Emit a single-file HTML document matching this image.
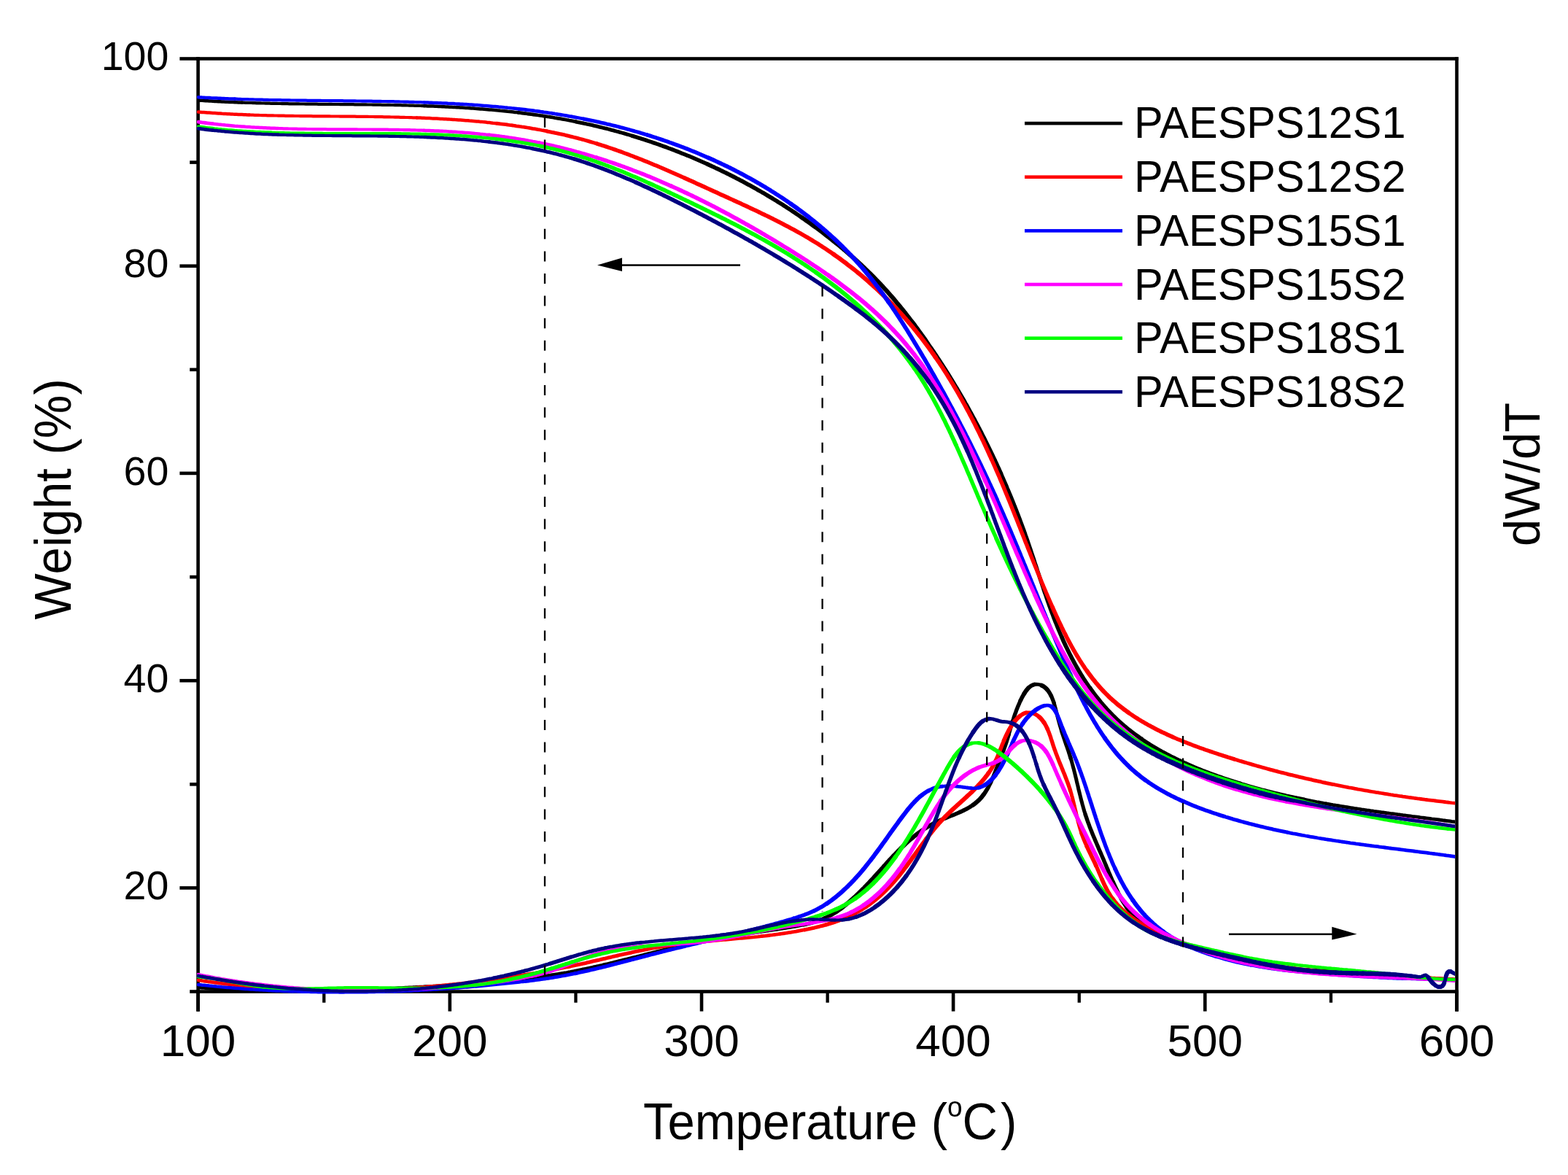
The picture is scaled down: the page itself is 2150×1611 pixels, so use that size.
<!DOCTYPE html>
<html><head><meta charset="utf-8"><style>
html,body{margin:0;padding:0;background:#ffffff;}
svg{display:block;}
text{font-family:"Liberation Sans",Arial,sans-serif;fill:#000;}
.yl{font-size:55.5px;text-anchor:end;}
.xl{font-size:62px;text-anchor:middle;}
.tt{font-size:67px;}
.lg{font-size:59.5px;}
</style></head><body>
<svg width="2150" height="1611" viewBox="0 0 2150 1611">
<rect width="2150" height="1611" fill="#ffffff"/>
<defs><clipPath id="pc"><rect x="270" y="0" width="1725.2" height="1611"/></clipPath></defs>
<rect x="269.3" y="78.2" width="1730.4" height="4.6" fill="#000"/>
<rect x="269.3" y="1357.2" width="1730.4" height="4.6" fill="#000"/>
<rect x="269.3" y="78.2" width="4.6" height="1308.5" fill="#000"/>
<rect x="1995.2" y="78.2" width="4.6" height="1308.5" fill="#000"/>
<rect x="246.4" y="78.2" width="25" height="4.6" fill="#000"/>
<rect x="246.4" y="362.4" width="25" height="4.6" fill="#000"/>
<rect x="246.4" y="646.6" width="25" height="4.6" fill="#000"/>
<rect x="246.4" y="930.9" width="25" height="4.6" fill="#000"/>
<rect x="246.4" y="1215.1" width="25" height="4.6" fill="#000"/>
<rect x="260.2" y="220.3" width="11" height="4.6" fill="#000"/>
<rect x="260.2" y="504.5" width="11" height="4.6" fill="#000"/>
<rect x="260.2" y="788.8" width="11" height="4.6" fill="#000"/>
<rect x="260.2" y="1073.0" width="11" height="4.6" fill="#000"/>
<rect x="260.2" y="1357.2" width="11" height="4.6" fill="#000"/>
<rect x="269.3" y="1359" width="4.6" height="27.6" fill="#000"/>
<rect x="614.5" y="1359" width="4.6" height="27.6" fill="#000"/>
<rect x="959.7" y="1359" width="4.6" height="27.6" fill="#000"/>
<rect x="1304.8" y="1359" width="4.6" height="27.6" fill="#000"/>
<rect x="1650.0" y="1359" width="4.6" height="27.6" fill="#000"/>
<rect x="1995.2" y="1359" width="4.6" height="27.6" fill="#000"/>
<rect x="442.1" y="1359" width="4.3" height="15.7" fill="#000"/>
<rect x="787.3" y="1359" width="4.3" height="15.7" fill="#000"/>
<rect x="1132.5" y="1359" width="4.3" height="15.7" fill="#000"/>
<rect x="1477.6" y="1359" width="4.3" height="15.7" fill="#000"/>
<rect x="1822.8" y="1359" width="4.3" height="15.7" fill="#000"/>
<g clip-path="url(#pc)" fill="none" stroke-width="4.5" stroke-linejoin="round" stroke-linecap="round">
<path d="M331.8,140.6 334.3,140.7 336.8,140.8 339.3,140.9 341.8,141.0 M341.8,141.0 344.3,141.0 346.8,141.1 349.3,141.2 351.8,141.3 M351.8,141.3 354.3,141.3 356.8,141.4 359.3,141.5 361.8,141.5 M361.8,141.5 364.3,141.6 366.8,141.7 369.3,141.7 371.8,141.8 M371.8,141.8 374.3,141.8 376.8,141.9 379.3,141.9 381.7,142.0 M381.7,142.0 384.2,142.0 386.7,142.1 389.2,142.1 391.7,142.2 M391.7,142.2 394.2,142.2 396.7,142.3 399.2,142.3 401.7,142.3 M401.7,142.3 404.2,142.4 406.7,142.4 409.2,142.4 411.7,142.5 M411.7,142.5 414.2,142.5 416.7,142.5 419.2,142.6 421.7,142.6 M421.7,142.6 424.2,142.6 426.7,142.7 429.2,142.7 431.7,142.7 M431.7,142.7 434.2,142.7 436.7,142.8 439.2,142.8 441.7,142.8 M441.7,142.8 444.2,142.8 446.7,142.9 449.1,142.9 451.6,142.9 M451.6,142.9 454.1,142.9 456.6,143.0 459.1,143.0 461.6,143.0 M461.6,143.0 464.1,143.0 466.6,143.1 469.1,143.1 471.6,143.1 M471.6,143.1 474.1,143.1 476.6,143.2 479.1,143.2 481.6,143.2 M481.6,143.2 484.1,143.2 486.6,143.3 489.1,143.3 491.6,143.3 M491.6,143.3 494.1,143.3 496.6,143.4 499.1,143.4 501.6,143.4 M501.6,143.4 504.1,143.5 506.6,143.5 509.1,143.5 511.6,143.6 M511.6,143.6 514.1,143.6 516.6,143.6 519.0,143.7 521.5,143.7 M521.5,143.7 524.0,143.8 526.5,143.8 529.0,143.8 531.5,143.9 M531.5,143.9 534.0,143.9 536.5,144.0 539.0,144.0 541.5,144.1 M541.5,144.1 544.0,144.1 546.5,144.2 549.0,144.2 551.5,144.3 M551.5,144.3 554.0,144.4 556.5,144.4 559.0,144.5 561.5,144.6 M561.5,144.6 564.0,144.6 566.5,144.7 569.0,144.8 571.5,144.9 M571.5,144.9 574.0,144.9 576.5,145.0 578.9,145.1 581.4,145.2" stroke="#000000" stroke-width="4.20"/>
<path d="M272.0,137.5 274.5,137.7 277.0,137.8 279.5,138.0 282.0,138.2 M282.0,138.2 284.5,138.3 287.0,138.5 289.4,138.6 291.9,138.8 M291.9,138.8 294.4,138.9 296.9,139.0 299.4,139.2 301.9,139.3 M301.9,139.3 304.4,139.4 306.9,139.5 309.4,139.7 311.9,139.8 M311.9,139.8 314.4,139.9 316.9,140.0 319.4,140.1 321.9,140.2 M321.9,140.2 324.4,140.3 326.8,140.4 329.3,140.5 331.8,140.6 M581.4,145.2 583.9,145.3 586.4,145.4 588.9,145.4 591.4,145.5 M591.4,145.5 593.9,145.6 596.4,145.7 598.9,145.8 601.4,146.0 M601.4,146.0 603.9,146.1 606.4,146.2 608.9,146.3 611.4,146.4 M611.4,146.4 613.9,146.5 616.4,146.7 618.9,146.8 621.3,146.9 M621.3,146.9 623.8,147.1 626.3,147.2 628.8,147.3 631.3,147.5 M631.3,147.5 633.8,147.6 636.3,147.8 638.8,148.0 641.3,148.1 M641.3,148.1 643.8,148.3 646.3,148.5 648.8,148.6 651.2,148.8 M651.2,148.8 653.7,149.0 656.2,149.2 658.7,149.4 661.2,149.6 M661.2,149.6 663.7,149.8 666.2,150.0 668.7,150.2 671.2,150.4 M671.2,150.4 673.6,150.6 676.1,150.8 678.6,151.0 681.1,151.3 M681.1,151.3 683.6,151.5 686.1,151.8 688.6,152.0 691.0,152.2 M691.0,152.2 693.5,152.5 696.0,152.8 698.5,153.0 701.0,153.3 M701.0,153.3 703.5,153.6 705.9,153.9 708.4,154.1 710.9,154.4" stroke="#000000" stroke-width="4.50"/>
<path d="M710.9,154.4 713.4,154.7 715.9,155.0 718.3,155.3 720.8,155.6 M720.8,155.6 723.3,156.0 725.8,156.3 728.2,156.6 730.7,157.0 M730.7,157.0 733.2,157.3 735.7,157.6 738.1,158.0 740.6,158.4 M740.6,158.4 743.1,158.7 745.5,159.1 748.0,159.5 750.5,159.9 M750.5,159.9 752.9,160.2 755.4,160.6 757.9,161.0 760.3,161.5 M760.3,161.5 762.8,161.9 765.3,162.3 767.7,162.7 770.2,163.2 M770.2,163.2 772.6,163.6 775.1,164.0 777.5,164.5 780.0,165.0 M780.0,165.0 782.4,165.4 784.9,165.9 787.3,166.4 789.8,166.9 M1788.1,1096.1 1790.6,1096.6 1793.0,1097.1 1795.5,1097.6 1797.9,1098.1 M1797.9,1098.1 1800.4,1098.5 1802.8,1099.0 1805.3,1099.5 1807.7,1099.9 M1807.7,1099.9 1810.2,1100.4 1812.6,1100.8 1815.1,1101.3 1817.5,1101.7 M1817.5,1101.7 1820.0,1102.2 1822.5,1102.6 1824.9,1103.0 1827.4,1103.5 M1827.4,1103.5 1829.8,1103.9 1832.3,1104.3 1834.8,1104.7 1837.2,1105.1 M1837.2,1105.1 1839.7,1105.5 1842.2,1105.9 1844.6,1106.3 1847.1,1106.7 M1847.1,1106.7 1849.6,1107.1 1852.0,1107.5 1854.5,1107.9 1857.0,1108.3 M1857.0,1108.3 1859.4,1108.6 1861.9,1109.0 1864.4,1109.4 1866.8,1109.8 M1866.8,1109.8 1869.3,1110.1 1871.8,1110.5 1874.2,1110.9 1876.7,1111.2 M1876.7,1111.2 1879.2,1111.6 1881.6,1111.9 1884.1,1112.3 1886.6,1112.6 M1886.6,1112.6 1889.1,1113.0 1891.5,1113.3 1894.0,1113.7 1896.5,1114.0 M1896.5,1114.0 1899.0,1114.3 1901.4,1114.7 1903.9,1115.0 1906.4,1115.4 M1906.4,1115.4 1908.9,1115.7 1911.3,1116.0 1913.8,1116.3 1916.3,1116.7 M1916.3,1116.7 1918.7,1117.0 1921.2,1117.3 1923.7,1117.7 1926.2,1118.0 M1926.2,1118.0 1928.7,1118.3 1931.1,1118.6 1933.6,1118.9 1936.1,1119.3 M1936.1,1119.3 1938.6,1119.6 1941.0,1119.9 1943.5,1120.2 1946.0,1120.5 M1946.0,1120.5 1948.5,1120.9 1950.9,1121.2 1953.4,1121.5 1955.9,1121.8 M1955.9,1121.8 1958.4,1122.1 1960.8,1122.4 1963.3,1122.8 1965.8,1123.1 M1965.8,1123.1 1968.3,1123.4 1970.7,1123.7 1973.2,1124.0 1975.7,1124.3 M1975.7,1124.3 1978.2,1124.7 1980.7,1125.0 1983.1,1125.3 1985.6,1125.6 M1985.6,1125.6 1988.1,1125.9 1990.6,1126.3 1993.0,1126.6 1995.5,1126.9 M1995.5,1126.9 1998.0,1127.2" stroke="#000000" stroke-width="4.80"/>
<path d="M789.8,166.9 792.2,167.4 794.7,167.9 797.1,168.4 799.6,168.9 M799.6,168.9 802.0,169.4 804.4,170.0 806.9,170.5 809.3,171.0 M809.3,171.0 811.8,171.6 814.2,172.2 816.6,172.7 819.0,173.3 M819.0,173.3 821.5,173.9 823.9,174.5 826.3,175.1 828.7,175.7 M828.7,175.7 831.2,176.3 833.6,176.9 836.0,177.5 838.4,178.2 M838.4,178.2 840.8,178.8 843.2,179.5 845.6,180.1 848.1,180.8 M848.1,180.8 850.5,181.5 852.9,182.1 855.3,182.8 857.7,183.5 M857.7,183.5 860.1,184.2 862.5,184.9 864.8,185.6 867.2,186.4 M1700.9,1074.4 1703.3,1075.1 1705.7,1075.8 1708.1,1076.5 1710.5,1077.2 M1710.5,1077.2 1712.9,1077.9 1715.3,1078.6 1717.7,1079.3 1720.1,1079.9 M1720.1,1079.9 1722.5,1080.6 1724.9,1081.3 1727.4,1081.9 1729.8,1082.6 M1729.8,1082.6 1732.2,1083.2 1734.6,1083.8 1737.0,1084.4 1739.4,1085.1 M1739.4,1085.1 1741.9,1085.7 1744.3,1086.3 1746.7,1086.9 1749.1,1087.5 M1749.1,1087.5 1751.6,1088.1 1754.0,1088.6 1756.4,1089.2 1758.8,1089.8 M1758.8,1089.8 1761.3,1090.3 1763.7,1090.9 1766.1,1091.4 1768.6,1092.0 M1768.6,1092.0 1771.0,1092.5 1773.5,1093.0 1775.9,1093.6 1778.3,1094.1 M1778.3,1094.1 1780.8,1094.6 1783.2,1095.1 1785.7,1095.6 1788.1,1096.1" stroke="#000000" stroke-width="5.10"/>
<path d="M867.2,186.4 869.6,187.1 872.0,187.8 874.4,188.6 876.8,189.3 M876.8,189.3 879.2,190.1 881.5,190.8 883.9,191.6 886.3,192.4 M886.3,192.4 888.6,193.2 891.0,194.0 893.4,194.8 895.7,195.6 M895.7,195.6 898.1,196.4 900.5,197.2 902.8,198.0 905.2,198.9 M905.2,198.9 907.5,199.7 909.9,200.6 912.2,201.4 914.6,202.3 M914.6,202.3 916.9,203.2 919.2,204.0 921.6,204.9 923.9,205.8 M923.9,205.8 926.2,206.7 928.6,207.6 930.9,208.5 933.2,209.4 M933.2,209.4 935.5,210.4 937.8,211.3 940.2,212.2 942.5,213.2 M942.5,213.2 944.8,214.1 947.1,215.1 949.4,216.0 951.7,217.0 M951.7,217.0 954.0,218.0 956.3,219.0 958.6,220.0 960.8,221.0 M960.8,221.0 963.1,222.0 965.4,223.0 967.7,224.0 970.0,225.0 M1372.3,648.9 1373.3,651.2 1374.3,653.5 1375.3,655.7 1376.3,658.0 M1376.3,658.0 1377.3,660.3 1378.3,662.6 1379.3,664.9 1380.3,667.2 M1380.3,667.2 1381.2,669.5 1382.2,671.8 1383.2,674.1 1384.1,676.4 M1384.1,676.4 1385.1,678.7 1386.1,681.0 1387.0,683.3 1387.9,685.6 M1387.9,685.6 1388.9,687.9 1389.8,690.3 1390.7,692.6 1391.7,694.9 M1391.7,694.9 1392.6,697.2 1393.5,699.5 1394.4,701.9 1395.3,704.2 M1395.3,704.2 1396.2,706.5 1397.1,708.9 1398.0,711.2 1398.8,713.5 M1398.8,713.5 1399.7,715.9 1400.6,718.2 1401.5,720.6 1402.3,722.9 M1402.3,722.9 1403.2,725.2 1404.0,727.6 1404.9,729.9 1405.7,732.3 M1405.7,732.3 1406.5,734.6 1407.4,737.0 1408.2,739.4 1409.0,741.7 M1409.0,741.7 1409.8,744.1 1410.6,746.4 1411.4,748.8 1412.2,751.2 M1412.2,751.2 1413.0,753.5 1413.8,755.9 1414.6,758.3 1415.4,760.6 M1415.4,760.6 1416.2,763.0 1417.0,765.4 1417.8,767.7 1418.5,770.1 M1418.5,770.1 1419.3,772.5 1420.1,774.9 1420.9,777.2 1421.7,779.6 M1421.7,779.6 1422.4,782.0 1423.2,784.4 1424.0,786.7 1424.8,789.1 M1424.8,789.1 1425.5,791.5 1426.3,793.8 1427.1,796.2 1427.9,798.6 M1427.9,798.6 1428.7,801.0 1429.5,803.3 1430.3,805.7 1431.0,808.1 M1431.0,808.1 1431.8,810.4 1432.6,812.8 1433.5,815.1 1434.3,817.5 M1434.3,817.5 1435.1,819.9 1435.9,822.2 1436.7,824.6 1437.6,826.9 M1437.6,826.9 1438.4,829.3 1439.2,831.6 1440.1,834.0 1440.9,836.3 M1440.9,836.3 1441.8,838.7 1442.7,841.0 1443.6,843.4 1444.4,845.7 M1444.4,845.7 1445.3,848.0 1446.2,850.3 1447.1,852.7 1448.1,855.0 M1448.1,855.0 1449.0,857.3 1449.9,859.6 1450.9,861.9 1451.8,864.2 M1451.8,864.2 1452.8,866.5 1453.8,868.8 1454.8,871.1 1455.8,873.4 M1626.0,1046.8 1628.3,1047.8 1630.6,1048.8 1632.9,1049.8 1635.2,1050.8 M1635.2,1050.8 1637.5,1051.8 1639.8,1052.7 1642.1,1053.7 1644.4,1054.6 M1644.4,1054.6 1646.7,1055.5 1649.0,1056.5 1651.4,1057.4 1653.7,1058.3 M1653.7,1058.3 1656.0,1059.1 1658.4,1060.0 1660.7,1060.9 1663.1,1061.7 M1663.1,1061.7 1665.4,1062.6 1667.8,1063.4 1670.1,1064.3 1672.5,1065.1 M1672.5,1065.1 1674.8,1065.9 1677.2,1066.7 1679.5,1067.5 1681.9,1068.3 M1681.9,1068.3 1684.3,1069.1 1686.7,1069.9 1689.0,1070.6 1691.4,1071.4 M1691.4,1071.4 1693.8,1072.1 1696.2,1072.9 1698.6,1073.6 1700.9,1074.4" stroke="#000000" stroke-width="5.40"/>
<path d="M970.0,225.0 972.2,226.1 974.5,227.1 976.8,228.2 979.0,229.2 M979.0,229.2 981.3,230.3 983.6,231.3 985.8,232.4 988.1,233.5 M988.1,233.5 990.3,234.6 992.6,235.7 994.8,236.8 997.0,237.9 M997.0,237.9 999.3,239.0 1001.5,240.1 1003.7,241.2 1006.0,242.4 M1006.0,242.4 1008.2,243.5 1010.4,244.7 1012.6,245.8 1014.8,247.0 M1014.8,247.0 1017.0,248.1 1019.2,249.3 1021.4,250.5 1023.6,251.7 M1023.6,251.7 1025.8,252.9 1028.0,254.1 1030.2,255.3 1032.4,256.5 M1032.4,256.5 1034.6,257.7 1036.7,258.9 1038.9,260.2 1041.1,261.4 M1041.1,261.4 1043.2,262.6 1045.4,263.9 1047.6,265.1 1049.7,266.4 M1049.7,266.4 1051.9,267.7 1054.0,269.0 1056.1,270.2 1058.3,271.5 M1058.3,271.5 1060.4,272.8 1062.5,274.1 1064.7,275.4 1066.8,276.8 M1066.8,276.8 1068.9,278.1 1071.0,279.4 1073.1,280.7 1075.2,282.1 M1075.2,282.1 1077.3,283.4 1079.4,284.8 1081.5,286.1 1083.6,287.5 M1083.6,287.5 1085.7,288.9 1087.8,290.3 1089.9,291.7 1091.9,293.1 M1091.9,293.1 1094.0,294.5 1096.1,295.9 1098.1,297.3 1100.2,298.7 M1269.2,466.6 1270.7,468.7 1272.1,470.7 1273.5,472.8 1274.9,474.8 M1274.9,474.8 1276.4,476.9 1277.8,478.9 1279.2,481.0 1280.6,483.0 M1280.6,483.0 1282.0,485.1 1283.4,487.2 1284.8,489.3 1286.1,491.3 M1286.1,491.3 1287.5,493.4 1288.9,495.5 1290.2,497.6 1291.6,499.7 M1291.6,499.7 1293.0,501.8 1294.3,503.9 1295.7,506.0 1297.0,508.1 M1297.0,508.1 1298.3,510.2 1299.7,512.3 1301.0,514.5 1302.3,516.6 M1302.3,516.6 1303.6,518.7 1304.9,520.8 1306.2,523.0 1307.5,525.1 M1307.5,525.1 1308.8,527.2 1310.1,529.4 1311.4,531.5 1312.7,533.6 M1312.7,533.6 1313.9,535.8 1315.2,537.9 1316.5,540.1 1317.7,542.3 M1317.7,542.3 1319.0,544.4 1320.2,546.6 1321.5,548.7 1322.7,550.9 M1322.7,550.9 1323.9,553.1 1325.2,555.3 1326.4,557.4 1327.6,559.6 M1327.6,559.6 1328.8,561.8 1330.0,564.0 1331.2,566.2 1332.4,568.4 M1332.4,568.4 1333.6,570.6 1334.8,572.8 1336.0,574.9 1337.2,577.2 M1337.2,577.2 1338.3,579.4 1339.5,581.6 1340.7,583.8 1341.8,586.0 M1341.8,586.0 1343.0,588.2 1344.1,590.4 1345.3,592.6 1346.4,594.9 M1346.4,594.9 1347.5,597.1 1348.7,599.3 1349.8,601.5 1350.9,603.8 M1350.9,603.8 1352.0,606.0 1353.1,608.2 1354.2,610.5 1355.3,612.7 M1355.3,612.7 1356.4,615.0 1357.5,617.2 1358.6,619.5 1359.7,621.7 M1359.7,621.7 1360.8,624.0 1361.8,626.2 1362.9,628.5 1364.0,630.7 M1364.0,630.7 1365.0,633.0 1366.1,635.3 1367.1,637.5 1368.1,639.8 M1368.1,639.8 1369.2,642.1 1370.2,644.3 1371.2,646.6 1372.3,648.9 M1455.8,873.4 1456.8,875.7 1457.8,878.0 1458.8,880.2 1459.9,882.5 M1459.9,882.5 1460.9,884.8 1462.0,887.0 1463.1,889.3 1464.2,891.5 M1464.2,891.5 1465.3,893.8 1466.4,896.0 1467.5,898.2 1468.7,900.4 M1468.7,900.4 1469.8,902.7 1471.0,904.9 1472.2,907.1 1473.4,909.3 M1473.4,909.3 1474.6,911.5 1475.8,913.6 1477.0,915.8 1478.3,918.0 M1478.3,918.0 1479.5,920.1 1480.8,922.3 1482.1,924.4 1483.4,926.5 M1483.4,926.5 1484.7,928.7 1486.0,930.8 1487.4,932.9 1488.8,935.0 M1488.8,935.0 1490.1,937.0 1491.5,939.1 1492.9,941.2 1494.4,943.2 M1564.9,1013.1 1566.9,1014.5 1569.0,1015.9 1571.1,1017.3 1573.2,1018.7 M1573.2,1018.7 1575.3,1020.0 1577.4,1021.3 1579.5,1022.6 1581.7,1023.9 M1581.7,1023.9 1583.8,1025.2 1586.0,1026.5 1588.1,1027.7 1590.3,1028.9 M1590.3,1028.9 1592.5,1030.2 1594.7,1031.4 1596.9,1032.5 1599.1,1033.7 M1599.1,1033.7 1601.3,1034.9 1603.5,1036.0 1605.7,1037.2 1608.0,1038.3 M1608.0,1038.3 1610.2,1039.4 1612.4,1040.5 1614.7,1041.6 1616.9,1042.7 M1616.9,1042.7 1619.2,1043.7 1621.5,1044.8 1623.7,1045.8 1626.0,1046.8" stroke="#000000" stroke-width="5.70"/>
<path d="M1100.2,298.7 1102.2,300.1 1104.3,301.5 1106.3,303.0 1108.3,304.4 M1108.3,304.4 1110.4,305.9 1112.4,307.3 1114.4,308.8 1116.4,310.3 M1116.4,310.3 1118.5,311.7 1120.5,313.2 1122.5,314.7 1124.5,316.2 M1124.5,316.2 1126.5,317.7 1128.5,319.2 1130.4,320.7 1132.4,322.3 M1132.4,322.3 1134.4,323.8 1136.4,325.3 1138.3,326.9 1140.3,328.4 M1140.3,328.4 1142.2,330.0 1144.2,331.5 1146.1,333.1 1148.1,334.7 M1148.1,334.7 1150.0,336.2 1151.9,337.8 1153.8,339.4 1155.8,341.0 M1155.8,341.0 1157.7,342.6 1159.6,344.3 1161.5,345.9 1163.4,347.5 M1163.4,347.5 1165.2,349.2 1167.1,350.8 1169.0,352.5 1170.9,354.1 M1170.9,354.1 1172.7,355.8 1174.6,357.5 1176.4,359.1 1178.2,360.8 M1178.2,360.8 1180.1,362.5 1181.9,364.2 1183.7,365.9 1185.5,367.7 M1185.5,367.7 1187.3,369.4 1189.1,371.1 1190.9,372.9 1192.7,374.6 M1192.7,374.6 1194.5,376.4 1196.2,378.1 1198.0,379.9 1199.7,381.7 M1199.7,381.7 1201.5,383.5 1203.2,385.3 1204.9,387.1 1206.6,388.9 M1206.6,388.9 1208.4,390.7 1210.1,392.5 1211.8,394.4 1213.4,396.2 M1213.4,396.2 1215.1,398.1 1216.8,399.9 1218.4,401.8 1220.1,403.7 M1220.1,403.7 1221.7,405.6 1223.4,407.4 1225.0,409.3 1226.6,411.2 M1226.6,411.2 1228.2,413.1 1229.8,415.1 1231.4,417.0 1233.0,418.9 M1233.0,418.9 1234.6,420.8 1236.2,422.8 1237.7,424.7 1239.3,426.7 M1239.3,426.7 1240.9,428.6 1242.4,430.6 1243.9,432.5 1245.5,434.5 M1245.5,434.5 1247.0,436.5 1248.5,438.5 1250.0,440.4 1251.6,442.4 M1251.6,442.4 1253.1,444.4 1254.6,446.4 1256.0,448.4 1257.5,450.4 M1257.5,450.4 1259.0,452.4 1260.5,454.5 1262.0,456.5 1263.4,458.5 M1263.4,458.5 1264.9,460.5 1266.3,462.5 1267.8,464.6 1269.2,466.6 M1494.4,943.2 1495.8,945.3 1497.3,947.3 1498.7,949.3 1500.2,951.3 M1500.2,951.3 1501.7,953.3 1503.3,955.3 1504.8,957.2 1506.4,959.2 M1506.4,959.2 1507.9,961.1 1509.5,963.1 1511.1,965.0 1512.7,966.9 M1512.7,966.9 1514.4,968.7 1516.0,970.6 1517.7,972.5 1519.4,974.3 M1519.4,974.3 1521.1,976.1 1522.8,977.9 1524.6,979.7 1526.3,981.5 M1526.3,981.5 1528.1,983.2 1529.9,985.0 1531.7,986.7 1533.6,988.4 M1533.6,988.4 1535.4,990.1 1537.3,991.7 1539.1,993.4 1541.0,995.0 M1541.0,995.0 1543.0,996.6 1544.9,998.2 1546.8,999.8 1548.8,1001.3 M1548.8,1001.3 1550.7,1002.9 1552.7,1004.4 1554.7,1005.9 1556.7,1007.4 M1556.7,1007.4 1558.7,1008.8 1560.8,1010.3 1562.8,1011.7 1564.9,1013.1" stroke="#000000" stroke-width="6.00"/>
<path d="M341.7,1358.2 344.2,1358.3 346.7,1358.4 349.2,1358.4 351.7,1358.5 M351.7,1358.5 354.2,1358.6 356.7,1358.6 359.2,1358.7 361.6,1358.7 M361.6,1358.7 364.1,1358.8 366.6,1358.8 369.1,1358.9 371.6,1358.9 M371.6,1358.9 374.1,1359.0 376.6,1359.0 379.1,1359.0 381.6,1359.0 M381.6,1359.0 384.1,1359.1 386.6,1359.1 389.1,1359.1 391.6,1359.1 M391.6,1359.1 394.1,1359.1 396.6,1359.1 399.1,1359.1 401.5,1359.1 M401.5,1359.1 404.0,1359.1 406.5,1359.1 409.0,1359.1 411.5,1359.1 M411.5,1359.1 414.0,1359.0 416.5,1359.0 419.0,1359.0 421.5,1359.0 M421.5,1359.0 424.0,1358.9 426.5,1358.9 429.0,1358.9 431.5,1358.8 M431.5,1358.8 434.0,1358.8 436.5,1358.7 439.0,1358.7 441.5,1358.6 M441.5,1358.6 443.9,1358.6 446.4,1358.5 448.9,1358.5 451.4,1358.4 M451.4,1358.4 453.9,1358.3 456.4,1358.3 458.9,1358.2 461.4,1358.1 M461.4,1358.1 463.9,1358.1 466.4,1358.0 468.9,1357.9 471.4,1357.8 M471.4,1357.8 473.9,1357.8 476.4,1357.7 478.8,1357.6 481.3,1357.5" stroke="#000000" stroke-width="4.20"/>
<path d="M272.0,1354.0 274.5,1354.2 277.0,1354.4 279.5,1354.6 281.9,1354.8 M281.9,1354.8 284.4,1355.0 286.9,1355.2 289.4,1355.4 291.9,1355.6 M291.9,1355.6 294.4,1355.7 296.9,1355.9 299.4,1356.1 301.8,1356.2 M301.8,1356.2 304.3,1356.4 306.8,1356.6 309.3,1356.7 311.8,1356.8 M311.8,1356.8 314.3,1357.0 316.8,1357.1 319.3,1357.2 321.8,1357.4 M321.8,1357.4 324.3,1357.5 326.7,1357.6 329.2,1357.7 331.7,1357.8 M331.7,1357.8 334.2,1357.9 336.7,1358.0 339.2,1358.1 341.7,1358.2 M481.3,1357.5 483.8,1357.4 486.3,1357.3 488.8,1357.2 491.3,1357.1 M491.3,1357.1 493.8,1357.0 496.3,1356.9 498.8,1356.8 501.3,1356.7 M501.3,1356.7 503.8,1356.6 506.3,1356.5 508.8,1356.4 511.2,1356.3 M511.2,1356.3 513.7,1356.2 516.2,1356.1 518.7,1356.0 521.2,1355.8 M521.2,1355.8 523.7,1355.7 526.2,1355.6 528.7,1355.5 531.2,1355.4 M531.2,1355.4 533.7,1355.2 536.2,1355.1 538.7,1355.0 541.1,1354.9 M541.1,1354.9 543.6,1354.7 546.1,1354.6 548.6,1354.5 551.1,1354.4 M551.1,1354.4 553.6,1354.2 556.1,1354.1 558.6,1354.0 561.1,1353.8 M561.1,1353.8 563.6,1353.7 566.1,1353.6 568.5,1353.4 571.0,1353.3 M571.0,1353.3 573.5,1353.2 576.0,1353.0 578.5,1352.9 581.0,1352.8 M581.0,1352.8 583.5,1352.6 586.0,1352.5 588.5,1352.4 591.0,1352.2 M591.0,1352.2 593.4,1352.1 595.9,1351.9 598.4,1351.8 600.9,1351.7 M600.9,1351.7 603.4,1351.5 605.9,1351.4 608.4,1351.2 610.9,1351.1 M610.9,1351.1 613.4,1350.9 615.9,1350.8 618.3,1350.6 620.8,1350.5 M620.8,1350.5 623.3,1350.3 625.8,1350.1 628.3,1350.0 630.8,1349.8 M630.8,1349.8 633.3,1349.6 635.8,1349.5 638.3,1349.3 640.7,1349.1 M640.7,1349.1 643.2,1349.0 645.7,1348.8 648.2,1348.6 650.7,1348.4 M650.7,1348.4 653.2,1348.2 655.7,1348.0 658.2,1347.8 660.6,1347.6 M660.6,1347.6 663.1,1347.4 665.6,1347.2 668.1,1347.0 670.6,1346.8 M670.6,1346.8 673.1,1346.6 675.6,1346.4 678.0,1346.2 680.5,1346.0 M680.5,1346.0 683.0,1345.7 685.5,1345.5 688.0,1345.3 690.5,1345.0 M690.5,1345.0 692.9,1344.8 695.4,1344.5 697.9,1344.3 700.4,1344.0 M700.4,1344.0 702.9,1343.8 705.3,1343.5 707.8,1343.2 710.3,1343.0 M1764.1,1326.8 1766.6,1327.1 1769.1,1327.3 1771.6,1327.6 1774.0,1327.9 M1774.0,1327.9 1776.5,1328.1 1779.0,1328.3 1781.5,1328.5 1784.0,1328.8 M1784.0,1328.8 1786.5,1329.0 1789.0,1329.2 1791.4,1329.4 1793.9,1329.6 M1793.9,1329.6 1796.4,1329.8 1798.9,1329.9 1801.4,1330.1 1803.9,1330.3 M1803.9,1330.3 1806.4,1330.5 1808.9,1330.6 1811.3,1330.8 1813.8,1331.0 M1813.8,1331.0 1816.3,1331.2 1818.8,1331.3 1821.3,1331.5 1823.8,1331.7 M1823.8,1331.7 1826.3,1331.8 1828.8,1332.0 1831.2,1332.2 1833.7,1332.4 M1833.7,1332.4 1836.2,1332.5 1838.7,1332.7 1841.2,1332.9 1843.7,1333.1 M1843.7,1333.1 1846.2,1333.2 1848.7,1333.4 1851.2,1333.6 1853.6,1333.8 M1853.6,1333.8 1856.1,1333.9 1858.6,1334.1 1861.1,1334.3 1863.6,1334.5 M1863.6,1334.5 1866.1,1334.7 1868.6,1334.8 1871.1,1335.0 1873.5,1335.2 M1873.5,1335.2 1876.0,1335.4 1878.5,1335.5 1881.0,1335.7 1883.5,1335.9 M1883.5,1335.9 1886.0,1336.1 1888.5,1336.3 1891.0,1336.4 1893.4,1336.6 M1893.4,1336.6 1895.9,1336.8 1898.4,1337.0 1900.9,1337.1 1903.4,1337.3 M1903.4,1337.3 1905.9,1337.5 1908.4,1337.7 1910.9,1337.8 1913.4,1338.0 M1913.4,1338.0 1915.8,1338.2 1918.3,1338.3 1920.8,1338.5 1923.3,1338.7 M1923.3,1338.7 1925.8,1338.8 1928.3,1339.0 1930.8,1339.2 1933.3,1339.3 M1933.3,1339.3 1935.7,1339.5 1938.2,1339.7 1940.7,1339.8 1943.2,1340.0 M1943.2,1340.0 1945.7,1340.1 1948.2,1340.3 1950.7,1340.4 1953.2,1340.6 M1953.2,1340.6 1955.7,1340.7 1958.2,1340.9 1960.6,1341.0 1963.1,1341.2 M1963.1,1341.2 1965.6,1341.3 1968.1,1341.5 1970.6,1341.6 1973.1,1341.7 M1973.1,1341.7 1975.6,1341.9 1978.1,1342.0 1980.6,1342.1 1983.1,1342.3 M1983.1,1342.3 1985.5,1342.4 1988.0,1342.5 1990.5,1342.6 1993.0,1342.8 M1993.0,1342.8 1995.5,1342.9 1998.0,1343.0" stroke="#000000" stroke-width="4.50"/>
<path d="M710.3,1343.0 712.8,1342.7 715.3,1342.4 717.7,1342.1 720.2,1341.8 M720.2,1341.8 722.7,1341.5 725.2,1341.2 727.6,1340.9 730.1,1340.6 M730.1,1340.6 732.6,1340.3 735.1,1339.9 737.5,1339.6 740.0,1339.3 M740.0,1339.3 742.5,1338.9 744.9,1338.6 747.4,1338.2 749.9,1337.8 M749.9,1337.8 752.3,1337.5 754.8,1337.1 757.3,1336.7 759.7,1336.3 M759.7,1336.3 762.2,1335.9 764.7,1335.5 767.1,1335.1 769.6,1334.7 M769.6,1334.7 772.0,1334.3 774.5,1333.9 777.0,1333.5 779.4,1333.0 M779.4,1333.0 781.9,1332.6 784.3,1332.1 786.8,1331.7 789.2,1331.2 M789.2,1331.2 791.7,1330.7 794.1,1330.2 796.6,1329.7 799.0,1329.2 M954.3,1292.5 956.8,1292.0 959.2,1291.5 961.7,1291.0 964.1,1290.5 M964.1,1290.5 966.5,1290.0 969.0,1289.6 971.5,1289.1 973.9,1288.6 M973.9,1288.6 976.4,1288.2 978.8,1287.7 981.3,1287.3 983.7,1286.9 M983.7,1286.9 986.2,1286.5 988.6,1286.0 991.1,1285.6 993.6,1285.2 M993.6,1285.2 996.0,1284.8 998.5,1284.4 1000.9,1284.0 1003.4,1283.6 M1003.4,1283.6 1005.9,1283.2 1008.3,1282.8 1010.8,1282.4 1013.3,1282.1 M1013.3,1282.1 1015.7,1281.7 1018.2,1281.3 1020.7,1280.9 1023.1,1280.5 M1023.1,1280.5 1025.6,1280.2 1028.1,1279.8 1030.5,1279.4 1033.0,1279.1 M1033.0,1279.1 1035.5,1278.7 1037.9,1278.3 1040.4,1278.0 1042.9,1277.6 M1042.9,1277.6 1045.3,1277.2 1047.8,1276.9 1050.3,1276.5 1052.7,1276.1 M1052.7,1276.1 1055.2,1275.7 1057.7,1275.4 1060.1,1275.0 1062.6,1274.6 M1062.6,1274.6 1065.1,1274.3 1067.5,1273.9 1070.0,1273.5 1072.5,1273.1 M1072.5,1273.1 1074.9,1272.7 1077.4,1272.3 1079.8,1271.9 1082.3,1271.6 M1082.3,1271.6 1084.8,1271.1 1087.2,1270.7 1089.7,1270.3 1092.1,1269.9 M1092.1,1269.9 1094.6,1269.4 1097.0,1269.0 1099.5,1268.5 1101.9,1268.0 M1418.5,938.4 1421.0,938.1 1423.5,938.3 1425.9,938.8 1428.2,939.7 M1734.5,1322.4 1737.0,1322.9 1739.4,1323.3 1741.9,1323.7 1744.4,1324.1 M1744.4,1324.1 1746.8,1324.5 1749.3,1324.9 1751.8,1325.2 1754.2,1325.6 M1754.2,1325.6 1756.7,1325.9 1759.2,1326.2 1761.7,1326.5 1764.1,1326.8" stroke="#000000" stroke-width="4.80"/>
<path d="M799.0,1329.2 801.4,1328.7 803.9,1328.2 806.3,1327.7 808.8,1327.2 M808.8,1327.2 811.2,1326.7 813.6,1326.1 816.1,1325.6 818.5,1325.0 M818.5,1325.0 820.9,1324.5 823.4,1323.9 825.8,1323.4 828.2,1322.8 M828.2,1322.8 830.7,1322.2 833.1,1321.7 835.5,1321.1 837.9,1320.5 M837.9,1320.5 840.4,1319.9 842.8,1319.3 845.2,1318.7 847.6,1318.1 M847.6,1318.1 850.1,1317.5 852.5,1316.9 854.9,1316.3 857.3,1315.7 M857.3,1315.7 859.7,1315.1 862.2,1314.5 864.6,1313.9 867.0,1313.3 M867.0,1313.3 869.4,1312.7 871.8,1312.1 874.3,1311.5 876.7,1310.9 M876.7,1310.9 879.1,1310.3 881.5,1309.7 883.9,1309.0 886.3,1308.4 M886.3,1308.4 888.8,1307.8 891.2,1307.2 893.6,1306.6 896.0,1306.0 M896.0,1306.0 898.4,1305.4 900.9,1304.8 903.3,1304.2 905.7,1303.6 M905.7,1303.6 908.1,1303.0 910.5,1302.4 913.0,1301.8 915.4,1301.2 M915.4,1301.2 917.8,1300.7 920.2,1300.1 922.7,1299.5 925.1,1298.9 M925.1,1298.9 927.5,1298.4 930.0,1297.8 932.4,1297.2 934.8,1296.7 M934.8,1296.7 937.3,1296.1 939.7,1295.6 942.1,1295.1 944.6,1294.5 M944.6,1294.5 947.0,1294.0 949.4,1293.5 951.9,1293.0 954.3,1292.5 M1101.9,1268.0 1104.4,1267.4 1106.8,1266.9 1109.2,1266.3 1111.6,1265.7 M1111.6,1265.7 1114.0,1265.0 1116.4,1264.3 1118.8,1263.6 1121.2,1262.8 M1383.1,1007.3 1383.8,1004.9 1384.5,1002.5 1385.2,1000.1 1385.9,997.7 M1385.9,997.7 1386.6,995.3 1387.4,993.0 1388.1,990.6 1388.8,988.2 M1445.0,963.4 1445.7,965.8 1446.4,968.2 1447.1,970.6 1447.7,973.0 M1447.7,973.0 1448.3,975.4 1448.9,977.9 1449.5,980.3 1450.1,982.7 M1450.1,982.7 1450.7,985.1 1451.4,987.5 1452.0,989.9 1452.7,992.3 M1452.7,992.3 1453.4,994.7 1454.1,997.1 1454.8,999.5 1455.6,1001.9 M1468.2,1039.8 1468.9,1042.1 1469.6,1044.5 1470.2,1046.9 1470.9,1049.3 M1470.9,1049.3 1471.5,1051.8 1472.2,1054.2 1472.8,1056.6 1473.4,1059.0 M1473.4,1059.0 1474.0,1061.4 1474.6,1063.9 1475.2,1066.3 1475.8,1068.7 M1475.8,1068.7 1476.3,1071.1 1476.9,1073.6 1477.5,1076.0 1478.1,1078.4 M1478.1,1078.4 1478.6,1080.8 1479.2,1083.3 1479.8,1085.7 1480.4,1088.1 M1480.4,1088.1 1481.0,1090.5 1481.6,1093.0 1482.2,1095.4 1482.8,1097.8 M1482.8,1097.8 1483.5,1100.2 1484.1,1102.6 1484.8,1105.0 1485.4,1107.4 M1485.4,1107.4 1486.1,1109.8 1486.8,1112.2 1487.6,1114.6 1488.3,1117.0 M1618.6,1292.6 1621.0,1293.3 1623.4,1294.0 1625.8,1294.6 1628.2,1295.3 M1628.2,1295.3 1630.6,1295.9 1633.1,1296.5 1635.5,1297.1 1637.9,1297.7 M1637.9,1297.7 1640.3,1298.3 1642.8,1298.9 1645.2,1299.5 1647.6,1300.0 M1647.6,1300.0 1650.0,1300.6 1652.5,1301.2 1654.9,1301.8 1657.3,1302.3 M1657.3,1302.3 1659.7,1302.9 1662.2,1303.5 1664.6,1304.1 1667.0,1304.7 M1667.0,1304.7 1669.4,1305.3 1671.8,1305.9 1674.3,1306.6 1676.7,1307.2 M1676.7,1307.2 1679.1,1307.9 1681.5,1308.5 1683.9,1309.2 1686.3,1309.9 M1686.3,1309.9 1688.7,1310.6 1691.0,1311.3 1693.4,1312.0 1695.8,1312.7 M1695.8,1312.7 1698.2,1313.4 1700.6,1314.1 1703.0,1314.8 1705.4,1315.5 M1705.4,1315.5 1707.8,1316.2 1710.2,1316.9 1712.6,1317.5 1715.0,1318.1 M1715.0,1318.1 1717.5,1318.7 1719.9,1319.3 1722.3,1319.9 1724.7,1320.4 M1724.7,1320.4 1727.2,1321.0 1729.6,1321.5 1732.1,1322.0 1734.5,1322.4" stroke="#000000" stroke-width="5.10"/>
<path d="M1121.2,1262.8 1123.5,1261.9 1125.9,1261.1 1128.2,1260.1 1130.5,1259.1 M1289.1,1124.8 1291.4,1123.8 1293.7,1122.8 1296.0,1121.9 1298.3,1120.9 M1298.3,1120.9 1300.6,1120.0 1302.9,1119.1 1305.2,1118.1 1307.6,1117.2 M1307.6,1117.2 1309.9,1116.2 1312.2,1115.3 1314.5,1114.3 1316.7,1113.3 M1358.4,1072.6 1359.5,1070.3 1360.5,1068.1 1361.5,1065.8 1362.5,1063.5 M1362.5,1063.5 1363.4,1061.2 1364.4,1058.8 1365.3,1056.5 1366.2,1054.2 M1366.2,1054.2 1367.1,1051.9 1368.0,1049.6 1368.9,1047.2 1369.8,1044.9 M1369.8,1044.9 1370.7,1042.6 1371.6,1040.3 1372.5,1037.9 1373.4,1035.6 M1373.4,1035.6 1374.3,1033.3 1375.2,1031.0 1376.1,1028.6 1376.9,1026.3 M1376.9,1026.3 1377.8,1023.9 1378.6,1021.6 1379.4,1019.2 1380.2,1016.8 M1380.2,1016.8 1380.9,1014.5 1381.7,1012.1 1382.4,1009.7 1383.1,1007.3 M1388.8,988.2 1389.6,985.8 1390.3,983.4 1391.1,981.1 1391.9,978.7 M1391.9,978.7 1392.8,976.4 1393.6,974.0 1394.5,971.7 1395.4,969.4 M1395.4,969.4 1396.4,967.1 1397.4,964.8 1398.4,962.5 1399.4,960.2 M1441.3,954.1 1442.4,956.4 1443.3,958.7 1444.2,961.1 1445.0,963.4 M1455.6,1001.9 1456.3,1004.3 1457.1,1006.6 1457.9,1009.0 1458.7,1011.4 M1458.7,1011.4 1459.5,1013.7 1460.3,1016.1 1461.1,1018.4 1461.9,1020.8 M1461.9,1020.8 1462.8,1023.2 1463.6,1025.5 1464.4,1027.9 1465.2,1030.2 M1465.2,1030.2 1465.9,1032.6 1466.7,1035.0 1467.4,1037.4 1468.2,1039.8 M1488.3,1117.0 1489.1,1119.3 1489.9,1121.7 1490.7,1124.1 1491.5,1126.4 M1491.5,1126.4 1492.4,1128.7 1493.3,1131.1 1494.1,1133.4 1495.0,1135.7 M1495.0,1135.7 1495.9,1138.1 1496.9,1140.4 1497.8,1142.7 1498.7,1145.0 M1498.7,1145.0 1499.7,1147.3 1500.7,1149.6 1501.6,1151.9 1502.6,1154.2 M1502.6,1154.2 1503.6,1156.5 1504.6,1158.8 1505.6,1161.1 1506.5,1163.4 M1506.5,1163.4 1507.5,1165.7 1508.5,1167.9 1509.5,1170.2 1510.5,1172.5 M1510.5,1172.5 1511.5,1174.8 1512.5,1177.1 1513.5,1179.4 1514.4,1181.7 M1514.4,1181.7 1515.4,1184.0 1516.4,1186.3 1517.3,1188.6 1518.3,1190.9 M1518.3,1190.9 1519.3,1193.2 1520.2,1195.5 1521.2,1197.8 1522.2,1200.1 M1522.2,1200.1 1523.1,1202.4 1524.1,1204.7 1525.1,1207.0 1526.1,1209.3 M1590.6,1282.2 1592.9,1283.2 1595.1,1284.3 1597.4,1285.2 1599.7,1286.2 M1599.7,1286.2 1602.1,1287.1 1604.4,1287.9 1606.8,1288.8 1609.1,1289.6 M1609.1,1289.6 1611.5,1290.4 1613.9,1291.1 1616.2,1291.9 1618.6,1292.6" stroke="#000000" stroke-width="5.40"/>
<path d="M1130.5,1259.1 1132.7,1258.1 1135.0,1257.0 1137.2,1255.9 1139.4,1254.7 M1139.4,1254.7 1141.5,1253.4 1143.7,1252.1 1145.8,1250.8 1147.8,1249.4 M1263.1,1139.5 1265.1,1138.0 1267.2,1136.7 1269.3,1135.3 1271.4,1134.0 M1271.4,1134.0 1273.6,1132.7 1275.7,1131.5 1277.9,1130.3 1280.1,1129.1 M1280.1,1129.1 1282.3,1128.0 1284.6,1126.9 1286.8,1125.8 1289.1,1124.8 M1316.7,1113.3 1319.0,1112.2 1321.2,1111.1 1323.5,1110.0 1325.7,1108.9 M1325.7,1108.9 1327.9,1107.6 1330.0,1106.4 1332.1,1105.0 1334.2,1103.6 M1348.4,1089.8 1349.9,1087.8 1351.3,1085.7 1352.6,1083.6 1353.9,1081.5 M1353.9,1081.5 1355.1,1079.3 1356.2,1077.1 1357.4,1074.8 1358.4,1072.6 M1399.4,960.2 1400.5,958.0 1401.6,955.8 1402.8,953.6 1404.1,951.4 M1410.0,943.4 1411.9,941.8 1413.9,940.3 1416.1,939.2 1418.5,938.4 M1436.1,945.7 1437.6,947.7 1439.0,949.8 1440.2,951.9 1441.3,954.1 M1526.1,1209.3 1527.1,1211.5 1528.2,1213.8 1529.2,1216.1 1530.3,1218.3 M1530.3,1218.3 1531.4,1220.6 1532.5,1222.8 1533.6,1225.0 1534.8,1227.2 M1534.8,1227.2 1536.0,1229.4 1537.2,1231.6 1538.4,1233.8 1539.7,1235.9 M1539.7,1235.9 1541.0,1238.0 1542.4,1240.1 1543.7,1242.2 1545.2,1244.2 M1573.3,1272.2 1575.4,1273.7 1577.5,1275.0 1579.6,1276.3 1581.7,1277.6 M1581.7,1277.6 1583.9,1278.8 1586.1,1280.0 1588.3,1281.1 1590.6,1282.2" stroke="#000000" stroke-width="5.70"/>
<path d="M1147.8,1249.4 1149.9,1247.9 1151.9,1246.5 1153.9,1245.0 1155.9,1243.5 M1155.9,1243.5 1157.8,1241.9 1159.8,1240.4 1161.7,1238.8 1163.6,1237.2 M1163.6,1237.2 1165.5,1235.6 1167.4,1233.9 1169.3,1232.3 1171.1,1230.6 M1171.1,1230.6 1173.0,1228.9 1174.8,1227.2 1176.6,1225.5 1178.4,1223.7 M1178.4,1223.7 1180.1,1222.0 1181.9,1220.2 1183.7,1218.5 1185.4,1216.7 M1185.4,1216.7 1187.2,1214.9 1188.9,1213.1 1190.6,1211.3 1192.3,1209.5 M1192.3,1209.5 1194.0,1207.6 1195.7,1205.8 1197.4,1204.0 1199.1,1202.1 M1199.1,1202.1 1200.7,1200.3 1202.4,1198.4 1204.1,1196.6 1205.8,1194.7 M1205.8,1194.7 1207.4,1192.9 1209.1,1191.0 1210.8,1189.2 1212.4,1187.3 M1212.4,1187.3 1214.1,1185.5 1215.8,1183.6 1217.4,1181.8 1219.1,1179.9 M1219.1,1179.9 1220.8,1178.1 1222.5,1176.3 1224.2,1174.4 1225.9,1172.6 M1225.9,1172.6 1227.7,1170.8 1229.4,1169.0 1231.1,1167.2 1232.9,1165.5 M1232.9,1165.5 1234.6,1163.7 1236.4,1161.9 1238.2,1160.2 1240.0,1158.5 M1240.0,1158.5 1241.8,1156.8 1243.7,1155.1 1245.5,1153.4 1247.4,1151.8 M1247.4,1151.8 1249.3,1150.2 1251.2,1148.6 1253.1,1147.0 1255.1,1145.4 M1255.1,1145.4 1257.0,1143.9 1259.0,1142.4 1261.0,1140.9 1263.1,1139.5 M1334.2,1103.6 1336.2,1102.2 1338.1,1100.6 1340.0,1099.0 1341.9,1097.3 M1341.9,1097.3 1343.6,1095.6 1345.3,1093.7 1346.9,1091.8 1348.4,1089.8 M1404.1,951.4 1405.4,949.3 1406.8,947.2 1408.4,945.3 1410.0,943.4 M1428.2,939.7 1430.4,940.8 1432.5,942.2 1434.4,943.9 1436.1,945.7 M1545.2,1244.2 1546.6,1246.3 1548.1,1248.3 1549.7,1250.2 1551.3,1252.1 M1551.3,1252.1 1552.9,1254.0 1554.6,1255.9 1556.3,1257.7 1558.0,1259.5 M1558.0,1259.5 1559.8,1261.2 1561.6,1262.9 1563.5,1264.6 1565.4,1266.2 M1565.4,1266.2 1567.3,1267.8 1569.3,1269.3 1571.3,1270.8 1573.3,1272.2" stroke="#000000" stroke-width="6.00"/>
<path d="M341.8,157.5 344.3,157.6 346.8,157.7 349.3,157.8 351.8,157.8 M351.8,157.8 354.3,157.9 356.8,158.0 359.3,158.1 361.8,158.1 M361.8,158.1 364.3,158.2 366.8,158.3 369.3,158.3 371.7,158.4 M371.7,158.4 374.2,158.4 376.7,158.5 379.2,158.5 381.7,158.6 M381.7,158.6 384.2,158.6 386.7,158.7 389.2,158.7 391.7,158.8 M391.7,158.8 394.2,158.8 396.7,158.9 399.2,158.9 401.7,158.9 M401.7,158.9 404.2,159.0 406.7,159.0 409.2,159.0 411.7,159.1 M411.7,159.1 414.2,159.1 416.7,159.1 419.2,159.2 421.7,159.2 M421.7,159.2 424.2,159.2 426.7,159.2 429.2,159.3 431.7,159.3 M431.7,159.3 434.2,159.3 436.7,159.3 439.2,159.3 441.6,159.4 M441.6,159.4 444.1,159.4 446.6,159.4 449.1,159.4 451.6,159.4 M451.6,159.4 454.1,159.5 456.6,159.5 459.1,159.5 461.6,159.5 M461.6,159.5 464.1,159.5 466.6,159.6 469.1,159.6 471.6,159.6 M471.6,159.6 474.1,159.6 476.6,159.7 479.1,159.7 481.6,159.7 M481.6,159.7 484.1,159.7 486.6,159.7 489.1,159.8 491.6,159.8 M491.6,159.8 494.1,159.8 496.6,159.8 499.1,159.9 501.6,159.9 M501.6,159.9 504.1,159.9 506.6,160.0 509.1,160.0 511.6,160.0 M511.6,160.0 514.0,160.1 516.5,160.1 519.0,160.2 521.5,160.2 M521.5,160.2 524.0,160.2 526.5,160.3 529.0,160.3 531.5,160.4 M531.5,160.4 534.0,160.4 536.5,160.5 539.0,160.5 541.5,160.6 M541.5,160.6 544.0,160.6 546.5,160.7 549.0,160.8 551.5,160.8 M551.5,160.8 554.0,160.9 556.5,161.0 559.0,161.0 561.5,161.1 M561.5,161.1 564.0,161.2 566.5,161.3 569.0,161.4 571.5,161.4" stroke="#ff0000" stroke-width="4.20"/>
<path d="M272.0,153.5 274.5,153.7 277.0,153.9 279.5,154.1 282.0,154.3 M282.0,154.3 284.5,154.5 287.0,154.6 289.4,154.8 291.9,155.0 M291.9,155.0 294.4,155.1 296.9,155.3 299.4,155.5 301.9,155.6 M301.9,155.6 304.4,155.8 306.9,155.9 309.4,156.0 311.9,156.2 M311.9,156.2 314.4,156.3 316.9,156.4 319.4,156.6 321.8,156.7 M321.8,156.7 324.3,156.8 326.8,156.9 329.3,157.0 331.8,157.1 M331.8,157.1 334.3,157.2 336.8,157.3 339.3,157.4 341.8,157.5 M571.5,161.4 574.0,161.5 576.4,161.6 578.9,161.7 581.4,161.8 M581.4,161.8 583.9,161.9 586.4,162.0 588.9,162.1 591.4,162.3 M591.4,162.3 593.9,162.4 596.4,162.5 598.9,162.6 601.4,162.7 M601.4,162.7 603.9,162.9 606.4,163.0 608.9,163.2 611.4,163.3 M611.4,163.3 613.9,163.4 616.3,163.6 618.8,163.7 621.3,163.9 M621.3,163.9 623.8,164.1 626.3,164.2 628.8,164.4 631.3,164.6 M631.3,164.6 633.8,164.8 636.3,165.0 638.8,165.2 641.2,165.3 M641.2,165.3 643.7,165.6 646.2,165.8 648.7,166.0 651.2,166.2 M651.2,166.2 653.7,166.4 656.2,166.6 658.7,166.9 661.1,167.1 M661.1,167.1 663.6,167.3 666.1,167.6 668.6,167.9 671.1,168.1 M671.1,168.1 673.6,168.4 676.0,168.7 678.5,168.9 681.0,169.2 M1985.6,1100.1 1988.1,1100.4 1990.6,1100.7 1993.1,1100.9 1995.5,1101.2 M1995.5,1101.2 1998.0,1101.5" stroke="#ff0000" stroke-width="4.50"/>
<path d="M681.0,169.2 683.5,169.5 686.0,169.8 688.4,170.1 690.9,170.4 M690.9,170.4 693.4,170.7 695.9,171.0 698.3,171.4 700.8,171.7 M700.8,171.7 703.3,172.0 705.8,172.4 708.2,172.8 710.7,173.1 M710.7,173.1 713.2,173.5 715.6,173.9 718.1,174.2 720.6,174.6 M720.6,174.6 723.0,175.0 725.5,175.4 728.0,175.8 730.4,176.3 M730.4,176.3 732.9,176.7 735.4,177.1 737.8,177.6 740.3,178.0 M740.3,178.0 742.7,178.5 745.2,178.9 747.6,179.4 750.1,179.9 M1827.8,1075.4 1830.2,1075.9 1832.7,1076.4 1835.1,1076.9 1837.6,1077.4 M1837.6,1077.4 1840.0,1077.9 1842.5,1078.4 1844.9,1078.8 1847.4,1079.3 M1847.4,1079.3 1849.8,1079.8 1852.3,1080.2 1854.7,1080.7 1857.2,1081.2 M1857.2,1081.2 1859.7,1081.6 1862.1,1082.1 1864.6,1082.5 1867.0,1082.9 M1867.0,1082.9 1869.5,1083.4 1871.9,1083.8 1874.4,1084.2 1876.9,1084.7 M1876.9,1084.7 1879.3,1085.1 1881.8,1085.5 1884.3,1085.9 1886.7,1086.3 M1886.7,1086.3 1889.2,1086.7 1891.6,1087.1 1894.1,1087.5 1896.6,1087.9 M1896.6,1087.9 1899.0,1088.3 1901.5,1088.7 1904.0,1089.1 1906.4,1089.5 M1906.4,1089.5 1908.9,1089.9 1911.4,1090.3 1913.8,1090.6 1916.3,1091.0 M1916.3,1091.0 1918.8,1091.4 1921.2,1091.7 1923.7,1092.1 1926.2,1092.4 M1926.2,1092.4 1928.7,1092.8 1931.1,1093.2 1933.6,1093.5 1936.1,1093.8 M1936.1,1093.8 1938.6,1094.2 1941.0,1094.5 1943.5,1094.9 1946.0,1095.2 M1946.0,1095.2 1948.4,1095.5 1950.9,1095.8 1953.4,1096.2 1955.9,1096.5 M1955.9,1096.5 1958.4,1096.8 1960.8,1097.1 1963.3,1097.4 1965.8,1097.7 M1965.8,1097.7 1968.3,1098.0 1970.7,1098.3 1973.2,1098.6 1975.7,1098.9 M1975.7,1098.9 1978.2,1099.2 1980.7,1099.5 1983.1,1099.8 1985.6,1100.1" stroke="#ff0000" stroke-width="4.80"/>
<path d="M750.1,179.9 752.5,180.4 755.0,180.9 757.4,181.4 759.9,181.9 M759.9,181.9 762.3,182.4 764.7,182.9 767.2,183.5 769.6,184.0 M769.6,184.0 772.1,184.6 774.5,185.1 776.9,185.7 779.3,186.3 M779.3,186.3 781.8,186.9 784.2,187.5 786.6,188.1 789.0,188.7 M789.0,188.7 791.4,189.3 793.9,190.0 796.3,190.6 798.7,191.3 M798.7,191.3 801.1,191.9 803.5,192.6 805.9,193.3 808.3,194.0 M808.3,194.0 810.7,194.7 813.1,195.4 815.5,196.1 817.9,196.8 M1692.4,1040.9 1694.8,1041.6 1697.1,1042.3 1699.5,1043.1 1701.9,1043.8 M1701.9,1043.8 1704.3,1044.5 1706.7,1045.2 1709.1,1045.9 1711.5,1046.6 M1711.5,1046.6 1713.9,1047.3 1716.3,1048.0 1718.7,1048.7 1721.1,1049.4 M1721.1,1049.4 1723.5,1050.1 1725.9,1050.8 1728.3,1051.4 1730.7,1052.1 M1730.7,1052.1 1733.1,1052.8 1735.5,1053.4 1737.9,1054.1 1740.3,1054.8 M1740.3,1054.8 1742.8,1055.4 1745.2,1056.0 1747.6,1056.7 1750.0,1057.3 M1750.0,1057.3 1752.4,1058.0 1754.8,1058.6 1757.2,1059.2 1759.7,1059.8 M1759.7,1059.8 1762.1,1060.4 1764.5,1061.0 1766.9,1061.7 1769.3,1062.3 M1769.3,1062.3 1771.8,1062.8 1774.2,1063.4 1776.6,1064.0 1779.1,1064.6 M1779.1,1064.6 1781.5,1065.2 1783.9,1065.8 1786.3,1066.3 1788.8,1066.9 M1788.8,1066.9 1791.2,1067.5 1793.6,1068.0 1796.1,1068.6 1798.5,1069.1 M1798.5,1069.1 1800.9,1069.7 1803.4,1070.2 1805.8,1070.8 1808.3,1071.3 M1808.3,1071.3 1810.7,1071.8 1813.1,1072.4 1815.6,1072.9 1818.0,1073.4 M1818.0,1073.4 1820.5,1073.9 1822.9,1074.4 1825.4,1074.9 1827.8,1075.4" stroke="#ff0000" stroke-width="5.10"/>
<path d="M817.9,196.8 820.3,197.6 822.6,198.3 825.0,199.1 827.4,199.8 M827.4,199.8 829.8,200.6 832.1,201.4 834.5,202.2 836.9,203.0 M836.9,203.0 839.2,203.8 841.6,204.6 843.9,205.4 846.3,206.3 M846.3,206.3 848.7,207.1 851.0,207.9 853.4,208.8 855.7,209.7 M855.7,209.7 858.0,210.5 860.4,211.4 862.7,212.3 865.0,213.2 M865.0,213.2 867.4,214.0 869.7,214.9 872.0,215.9 874.4,216.8 M874.4,216.8 876.7,217.7 879.0,218.6 881.3,219.5 883.6,220.5 M883.6,220.5 886.0,221.4 888.3,222.3 890.6,223.3 892.9,224.2 M892.9,224.2 895.2,225.2 897.5,226.2 899.8,227.1 902.1,228.1 M902.1,228.1 904.4,229.1 906.7,230.0 909.0,231.0 911.3,232.0 M911.3,232.0 913.6,233.0 915.9,234.0 918.2,235.0 920.4,236.0 M920.4,236.0 922.7,237.0 925.0,238.0 927.3,239.0 929.6,240.0 M929.6,240.0 931.9,241.0 934.1,242.0 936.4,243.1 938.7,244.1 M1359.5,629.6 1360.5,631.8 1361.5,634.1 1362.5,636.4 1363.5,638.7 M1363.5,638.7 1364.5,641.0 1365.5,643.3 1366.5,645.6 1367.5,647.8 M1367.5,647.8 1368.5,650.1 1369.5,652.4 1370.5,654.7 1371.4,657.0 M1371.4,657.0 1372.4,659.3 1373.4,661.6 1374.4,663.9 1375.3,666.2 M1375.3,666.2 1376.3,668.5 1377.2,670.8 1378.2,673.2 1379.1,675.5 M1379.1,675.5 1380.1,677.8 1381.0,680.1 1382.0,682.4 1382.9,684.7 M1382.9,684.7 1383.9,687.0 1384.8,689.3 1385.7,691.6 1386.7,694.0 M1386.7,694.0 1387.6,696.3 1388.5,698.6 1389.5,700.9 1390.4,703.2 M1390.4,703.2 1391.3,705.6 1392.2,707.9 1393.2,710.2 1394.1,712.5 M1394.1,712.5 1395.0,714.8 1395.9,717.1 1396.8,719.5 1397.8,721.8 M1397.8,721.8 1398.7,724.1 1399.6,726.4 1400.5,728.8 1401.4,731.1 M1401.4,731.1 1402.4,733.4 1403.3,735.7 1404.2,738.0 1405.1,740.4 M1405.1,740.4 1406.0,742.7 1406.9,745.0 1407.9,747.3 1408.8,749.7 M1408.8,749.7 1409.7,752.0 1410.6,754.3 1411.6,756.6 1412.5,758.9 M1412.5,758.9 1413.4,761.2 1414.3,763.6 1415.3,765.9 1416.2,768.2 M1416.2,768.2 1417.1,770.5 1418.0,772.8 1419.0,775.2 1419.9,777.5 M1419.9,777.5 1420.9,779.8 1421.8,782.1 1422.7,784.4 1423.7,786.7 M1423.7,786.7 1424.6,789.0 1425.6,791.3 1426.5,793.6 1427.5,796.0 M1427.5,796.0 1428.4,798.3 1429.4,800.6 1430.4,802.9 1431.3,805.2 M1431.3,805.2 1432.3,807.5 1433.3,809.8 1434.2,812.1 1435.2,814.4 M1435.2,814.4 1436.2,816.7 1437.2,819.0 1438.2,821.2 1439.2,823.5 M1439.2,823.5 1440.2,825.8 1441.2,828.1 1442.2,830.4 1443.2,832.7 M1607.9,1010.4 1610.2,1011.4 1612.4,1012.4 1614.7,1013.4 1617.0,1014.3 M1617.0,1014.3 1619.4,1015.3 1621.7,1016.2 1624.0,1017.2 1626.3,1018.1 M1626.3,1018.1 1628.6,1019.0 1631.0,1019.9 1633.3,1020.8 1635.6,1021.7 M1635.6,1021.7 1638.0,1022.6 1640.3,1023.4 1642.6,1024.3 1645.0,1025.2 M1645.0,1025.2 1647.3,1026.0 1649.7,1026.8 1652.0,1027.7 1654.4,1028.5 M1654.4,1028.5 1656.8,1029.3 1659.1,1030.1 1661.5,1030.9 1663.9,1031.7 M1663.9,1031.7 1666.2,1032.5 1668.6,1033.3 1671.0,1034.1 1673.3,1034.8 M1673.3,1034.8 1675.7,1035.6 1678.1,1036.4 1680.5,1037.1 1682.8,1037.9 M1682.8,1037.9 1685.2,1038.7 1687.6,1039.4 1690.0,1040.1 1692.4,1040.9" stroke="#ff0000" stroke-width="5.40"/>
<path d="M938.7,244.1 941.0,245.1 943.3,246.1 945.5,247.2 947.8,248.2 M947.8,248.2 950.1,249.2 952.4,250.2 954.6,251.3 956.9,252.3 M956.9,252.3 959.2,253.3 961.5,254.4 963.7,255.4 966.0,256.4 M966.0,256.4 968.3,257.5 970.5,258.5 972.8,259.5 975.1,260.6 M975.1,260.6 977.4,261.6 979.6,262.7 981.9,263.7 984.2,264.7 M984.2,264.7 986.4,265.8 988.7,266.8 991.0,267.8 993.3,268.9 M993.3,268.9 995.5,269.9 997.8,270.9 1000.1,272.0 1002.3,273.0 M1002.3,273.0 1004.6,274.0 1006.9,275.1 1009.2,276.1 1011.4,277.2 M1011.4,277.2 1013.7,278.2 1016.0,279.2 1018.2,280.3 1020.5,281.3 M1020.5,281.3 1022.8,282.4 1025.0,283.4 1027.3,284.5 1029.5,285.6 M1029.5,285.6 1031.8,286.6 1034.1,287.7 1036.3,288.7 1038.6,289.8 M1038.6,289.8 1040.8,290.9 1043.1,292.0 1045.3,293.1 1047.6,294.1 M1047.6,294.1 1049.8,295.2 1052.1,296.3 1054.3,297.4 1056.6,298.5 M1056.6,298.5 1058.8,299.6 1061.0,300.8 1063.3,301.9 1065.5,303.0 M1065.5,303.0 1067.7,304.1 1069.9,305.3 1072.2,306.4 1074.4,307.6 M1074.4,307.6 1076.6,308.7 1078.8,309.9 1081.0,311.0 1083.2,312.2 M1083.2,312.2 1085.4,313.4 1087.6,314.6 1089.8,315.8 1092.0,317.0 M1092.0,317.0 1094.2,318.2 1096.3,319.4 1098.5,320.6 1100.7,321.9 M1100.7,321.9 1102.8,323.1 1105.0,324.4 1107.2,325.6 1109.3,326.9 M1109.3,326.9 1111.5,328.2 1113.6,329.5 1115.7,330.8 1117.9,332.1 M1117.9,332.1 1120.0,333.4 1122.1,334.7 1124.2,336.1 1126.3,337.4 M1126.3,337.4 1128.4,338.8 1130.5,340.1 1132.6,341.5 1134.6,342.9 M1134.6,342.9 1136.7,344.3 1138.8,345.7 1140.8,347.1 1142.9,348.5 M1282.6,489.7 1284.0,491.8 1285.4,493.8 1286.8,495.9 1288.2,498.0 M1288.2,498.0 1289.6,500.1 1291.0,502.1 1292.4,504.2 1293.7,506.3 M1293.7,506.3 1295.1,508.4 1296.4,510.5 1297.8,512.6 1299.1,514.8 M1299.1,514.8 1300.4,516.9 1301.7,519.0 1303.0,521.1 1304.3,523.2 M1304.3,523.2 1305.6,525.4 1306.9,527.5 1308.2,529.7 1309.5,531.8 M1309.5,531.8 1310.7,534.0 1312.0,536.1 1313.3,538.3 1314.5,540.4 M1314.5,540.4 1315.7,542.6 1317.0,544.8 1318.2,547.0 1319.4,549.1 M1319.4,549.1 1320.6,551.3 1321.8,553.5 1323.0,555.7 1324.2,557.9 M1324.2,557.9 1325.4,560.1 1326.6,562.3 1327.8,564.5 1329.0,566.7 M1329.0,566.7 1330.1,568.9 1331.3,571.1 1332.4,573.3 1333.6,575.5 M1333.6,575.5 1334.7,577.8 1335.9,580.0 1337.0,582.2 1338.1,584.4 M1338.1,584.4 1339.2,586.7 1340.3,588.9 1341.4,591.1 1342.6,593.4 M1342.6,593.4 1343.6,595.6 1344.7,597.9 1345.8,600.1 1346.9,602.4 M1346.9,602.4 1348.0,604.6 1349.1,606.9 1350.1,609.1 1351.2,611.4 M1351.2,611.4 1352.2,613.7 1353.3,615.9 1354.3,618.2 1355.4,620.5 M1355.4,620.5 1356.4,622.7 1357.4,625.0 1358.5,627.3 1359.5,629.6 M1443.2,832.7 1444.2,835.0 1445.2,837.2 1446.2,839.5 1447.3,841.8 M1447.3,841.8 1448.3,844.1 1449.3,846.3 1450.4,848.6 1451.4,850.9 M1451.4,850.9 1452.5,853.1 1453.6,855.4 1454.7,857.6 1455.7,859.9 M1455.7,859.9 1456.8,862.1 1457.9,864.4 1459.0,866.6 1460.2,868.8 M1460.2,868.8 1461.3,871.1 1462.4,873.3 1463.6,875.5 1464.7,877.7 M1464.7,877.7 1465.9,879.9 1467.1,882.1 1468.3,884.3 1469.5,886.5 M1469.5,886.5 1470.7,888.7 1471.9,890.8 1473.2,893.0 1474.4,895.2 M1474.4,895.2 1475.7,897.3 1477.0,899.5 1478.3,901.6 1479.6,903.7 M1479.6,903.7 1480.9,905.8 1482.3,907.9 1483.6,910.0 1485.0,912.1 M1485.0,912.1 1486.4,914.2 1487.8,916.3 1489.2,918.3 1490.7,920.3 M1546.8,976.6 1548.8,978.1 1550.9,979.5 1553.0,980.9 1555.1,982.3 M1555.1,982.3 1557.1,983.6 1559.3,985.0 1561.4,986.3 1563.5,987.6 M1563.5,987.6 1565.6,988.9 1567.8,990.1 1569.9,991.4 1572.1,992.6 M1572.1,992.6 1574.3,993.9 1576.5,995.1 1578.7,996.3 1580.9,997.4 M1580.9,997.4 1583.1,998.6 1585.3,999.7 1587.5,1000.9 1589.8,1002.0 M1589.8,1002.0 1592.0,1003.1 1594.3,1004.2 1596.5,1005.2 1598.8,1006.3 M1598.8,1006.3 1601.0,1007.4 1603.3,1008.4 1605.6,1009.4 1607.9,1010.4" stroke="#ff0000" stroke-width="5.70"/>
<path d="M1142.9,348.5 1144.9,350.0 1147.0,351.4 1149.0,352.9 1151.0,354.3 M1151.0,354.3 1153.1,355.8 1155.1,357.3 1157.1,358.8 1159.1,360.2 M1159.1,360.2 1161.1,361.8 1163.0,363.3 1165.0,364.8 1167.0,366.3 M1167.0,366.3 1169.0,367.9 1170.9,369.4 1172.9,371.0 1174.8,372.5 M1174.8,372.5 1176.7,374.1 1178.7,375.7 1180.6,377.3 1182.5,378.9 M1182.5,378.9 1184.4,380.5 1186.3,382.1 1188.2,383.8 1190.1,385.4 M1190.1,385.4 1191.9,387.1 1193.8,388.7 1195.7,390.4 1197.5,392.1 M1197.5,392.1 1199.4,393.7 1201.2,395.4 1203.0,397.1 1204.9,398.8 M1204.9,398.8 1206.7,400.6 1208.5,402.3 1210.3,404.0 1212.1,405.7 M1212.1,405.7 1213.9,407.5 1215.6,409.3 1217.4,411.0 1219.2,412.8 M1219.2,412.8 1220.9,414.6 1222.7,416.4 1224.4,418.2 1226.1,420.0 M1226.1,420.0 1227.8,421.8 1229.5,423.6 1231.2,425.4 1232.9,427.2 M1232.9,427.2 1234.6,429.1 1236.3,430.9 1238.0,432.8 1239.6,434.7 M1239.6,434.7 1241.3,436.5 1242.9,438.4 1244.6,440.3 1246.2,442.2 M1246.2,442.2 1247.8,444.1 1249.4,446.0 1251.0,447.9 1252.6,449.8 M1252.6,449.8 1254.2,451.8 1255.8,453.7 1257.3,455.7 1258.9,457.6 M1258.9,457.6 1260.4,459.6 1262.0,461.5 1263.5,463.5 1265.0,465.5 M1265.0,465.5 1266.5,467.5 1268.0,469.5 1269.5,471.5 1271.0,473.5 M1271.0,473.5 1272.5,475.5 1274.0,477.5 1275.4,479.5 1276.9,481.6 M1276.9,481.6 1278.3,483.6 1279.8,485.6 1281.2,487.7 1282.6,489.7 M1490.7,920.3 1492.1,922.4 1493.6,924.4 1495.1,926.4 1496.6,928.4 M1496.6,928.4 1498.1,930.3 1499.7,932.3 1501.3,934.2 1502.8,936.2 M1502.8,936.2 1504.5,938.1 1506.1,940.0 1507.7,941.9 1509.4,943.7 M1509.4,943.7 1511.1,945.6 1512.8,947.4 1514.5,949.2 1516.3,951.0 M1516.3,951.0 1518.0,952.7 1519.8,954.5 1521.6,956.2 1523.5,957.9 M1523.5,957.9 1525.3,959.6 1527.2,961.2 1529.1,962.8 1531.0,964.5 M1531.0,964.5 1532.9,966.1 1534.8,967.6 1536.8,969.2 1538.8,970.7 M1538.8,970.7 1540.7,972.2 1542.8,973.7 1544.8,975.2 1546.8,976.6" stroke="#ff0000" stroke-width="6.00"/>
<path d="M411.1,1357.1 413.6,1357.2 416.1,1357.3 418.6,1357.4 421.1,1357.5 M421.1,1357.5 423.6,1357.5 426.1,1357.6 428.6,1357.7 431.1,1357.7 M431.1,1357.7 433.6,1357.8 436.1,1357.8 438.6,1357.9 441.1,1357.9 M441.1,1357.9 443.5,1358.0 446.0,1358.0 448.5,1358.0 451.0,1358.0 M451.0,1358.0 453.5,1358.1 456.0,1358.1 458.5,1358.1 461.0,1358.1 M461.0,1358.1 463.5,1358.1 466.0,1358.1 468.5,1358.1 471.0,1358.1 M471.0,1358.1 473.5,1358.0 476.0,1358.0 478.5,1358.0 481.0,1358.0 M481.0,1358.0 483.5,1357.9 486.0,1357.9 488.5,1357.8 491.0,1357.8 M491.0,1357.8 493.5,1357.7 496.0,1357.7 498.5,1357.6 501.0,1357.6 M501.0,1357.6 503.5,1357.5 506.0,1357.4 508.5,1357.3 510.9,1357.3" stroke="#ff0000" stroke-width="4.20"/>
<path d="M321.5,1350.5 324.0,1350.7 326.5,1351.0 328.9,1351.3 331.4,1351.5 M331.4,1351.5 333.9,1351.8 336.4,1352.0 338.9,1352.3 341.4,1352.5 M341.4,1352.5 343.8,1352.7 346.3,1353.0 348.8,1353.2 351.3,1353.4 M351.3,1353.4 353.8,1353.6 356.3,1353.8 358.8,1354.0 361.3,1354.2 M361.3,1354.2 363.7,1354.4 366.2,1354.6 368.7,1354.8 371.2,1355.0 M371.2,1355.0 373.7,1355.1 376.2,1355.3 378.7,1355.5 381.2,1355.6 M381.2,1355.6 383.7,1355.8 386.2,1355.9 388.7,1356.1 391.2,1356.2 M391.2,1356.2 393.6,1356.3 396.1,1356.5 398.6,1356.6 401.1,1356.7 M401.1,1356.7 403.6,1356.8 406.1,1356.9 408.6,1357.0 411.1,1357.1 M510.9,1357.3 513.4,1357.2 515.9,1357.1 518.4,1357.0 520.9,1356.9 M520.9,1356.9 523.4,1356.8 525.9,1356.7 528.4,1356.6 530.9,1356.4 M530.9,1356.4 533.4,1356.3 535.9,1356.2 538.4,1356.1 540.9,1355.9 M540.9,1355.9 543.4,1355.8 545.9,1355.7 548.4,1355.5 550.8,1355.4 M550.8,1355.4 553.3,1355.2 555.8,1355.0 558.3,1354.9 560.8,1354.7 M560.8,1354.7 563.3,1354.5 565.8,1354.4 568.3,1354.2 570.8,1354.0 M570.8,1354.0 573.3,1353.8 575.8,1353.6 578.2,1353.5 580.7,1353.3 M580.7,1353.3 583.2,1353.1 585.7,1352.8 588.2,1352.6 590.7,1352.4 M590.7,1352.4 593.2,1352.2 595.7,1352.0 598.1,1351.8 600.6,1351.5 M600.6,1351.5 603.1,1351.3 605.6,1351.1 608.1,1350.8 610.6,1350.6 M610.6,1350.6 613.1,1350.4 615.5,1350.1 618.0,1349.8 620.5,1349.6 M620.5,1349.6 623.0,1349.3 625.5,1349.1 628.0,1348.8 630.4,1348.5 M630.4,1348.5 632.9,1348.3 635.4,1348.0 637.9,1347.7 640.4,1347.4 M944.9,1293.1 947.4,1292.9 949.9,1292.6 952.4,1292.3 954.9,1292.1 M954.9,1292.1 957.3,1291.8 959.8,1291.6 962.3,1291.4 964.8,1291.1 M964.8,1291.1 967.3,1290.9 969.8,1290.6 972.3,1290.4 974.7,1290.2 M974.7,1290.2 977.2,1290.0 979.7,1289.7 982.2,1289.5 984.7,1289.3 M984.7,1289.3 987.2,1289.1 989.7,1288.8 992.2,1288.6 994.6,1288.4 M994.6,1288.4 997.1,1288.2 999.6,1288.0 1002.1,1287.7 1004.6,1287.5 M1004.6,1287.5 1007.1,1287.3 1009.6,1287.1 1012.0,1286.8 1014.5,1286.6 M1014.5,1286.6 1017.0,1286.4 1019.5,1286.2 1022.0,1285.9 1024.5,1285.7 M1024.5,1285.7 1027.0,1285.4 1029.4,1285.2 1031.9,1284.9 1034.4,1284.7 M1034.4,1284.7 1036.9,1284.4 1039.4,1284.2 1041.9,1283.9 1044.3,1283.6 M1406.9,977.2 1409.3,976.8 1411.8,976.7 1414.3,977.1 1416.7,977.9 M1781.3,1328.4 1783.8,1328.7 1786.3,1329.0 1788.7,1329.2 1791.2,1329.5 M1791.2,1329.5 1793.7,1329.8 1796.2,1330.0 1798.7,1330.3 1801.2,1330.5 M1801.2,1330.5 1803.6,1330.8 1806.1,1331.0 1808.6,1331.2 1811.1,1331.5 M1811.1,1331.5 1813.6,1331.7 1816.1,1331.9 1818.6,1332.1 1821.0,1332.3 M1821.0,1332.3 1823.5,1332.5 1826.0,1332.7 1828.5,1332.9 1831.0,1333.1 M1831.0,1333.1 1833.5,1333.3 1836.0,1333.5 1838.5,1333.7 1841.0,1333.9 M1841.0,1333.9 1843.5,1334.0 1845.9,1334.2 1848.4,1334.4 1850.9,1334.5 M1850.9,1334.5 1853.4,1334.7 1855.9,1334.9 1858.4,1335.0 1860.9,1335.2 M1860.9,1335.2 1863.4,1335.3 1865.9,1335.5 1868.4,1335.6 1870.9,1335.8 M1870.9,1335.8 1873.3,1335.9 1875.8,1336.1 1878.3,1336.2 1880.8,1336.4 M1880.8,1336.4 1883.3,1336.5 1885.8,1336.6 1888.3,1336.8 1890.8,1336.9 M1890.8,1336.9 1893.3,1337.1 1895.8,1337.2 1898.3,1337.3 1900.8,1337.5 M1900.8,1337.5 1903.3,1337.6 1905.8,1337.7 1908.3,1337.8 1910.7,1338.0 M1910.7,1338.0 1913.2,1338.1 1915.7,1338.2 1918.2,1338.4 1920.7,1338.5 M1920.7,1338.5 1923.2,1338.6 1925.7,1338.7 1928.2,1338.9 1930.7,1339.0 M1930.7,1339.0 1933.2,1339.1 1935.7,1339.3 1938.2,1339.4 1940.7,1339.5 M1940.7,1339.5 1943.2,1339.7 1945.6,1339.8 1948.1,1339.9 1950.6,1340.1 M1950.6,1340.1 1953.1,1340.2 1955.6,1340.3 1958.1,1340.5 1960.6,1340.6 M1960.6,1340.6 1963.1,1340.8 1965.6,1340.9 1968.1,1341.1 1970.6,1341.2 M1970.6,1341.2 1973.1,1341.4 1975.6,1341.5 1978.1,1341.7 1980.5,1341.8 M1980.5,1341.8 1983.0,1342.0 1985.5,1342.2 1988.0,1342.3 1990.5,1342.5 M1990.5,1342.5 1993.0,1342.7 1995.5,1342.8 1998.0,1343.0" stroke="#ff0000" stroke-width="4.50"/>
<path d="M272.0,1343.8 274.5,1344.2 276.9,1344.6 279.4,1345.0 281.9,1345.3 M281.9,1345.3 284.3,1345.7 286.8,1346.0 289.3,1346.4 291.8,1346.7 M291.8,1346.7 294.2,1347.1 296.7,1347.4 299.2,1347.7 301.7,1348.1 M301.7,1348.1 304.1,1348.4 306.6,1348.7 309.1,1349.0 311.6,1349.3 M311.6,1349.3 314.1,1349.6 316.5,1349.9 319.0,1350.2 321.5,1350.5 M640.4,1347.4 642.8,1347.1 645.3,1346.8 647.8,1346.5 650.3,1346.2 M650.3,1346.2 652.8,1345.9 655.2,1345.6 657.7,1345.3 660.2,1345.0 M660.2,1345.0 662.7,1344.7 665.1,1344.3 667.6,1344.0 670.1,1343.7 M670.1,1343.7 672.6,1343.4 675.0,1343.0 677.5,1342.7 680.0,1342.3 M680.0,1342.3 682.5,1342.0 684.9,1341.7 687.4,1341.3 689.9,1340.9 M689.9,1340.9 692.3,1340.6 694.8,1340.2 697.3,1339.9 699.8,1339.5 M699.8,1339.5 702.2,1339.1 704.7,1338.7 707.2,1338.4 709.6,1338.0 M709.6,1338.0 712.1,1337.6 714.6,1337.2 717.0,1336.8 719.5,1336.4 M719.5,1336.4 722.0,1336.0 724.4,1335.6 726.9,1335.2 729.3,1334.8 M729.3,1334.8 731.8,1334.4 734.3,1334.0 736.7,1333.5 739.2,1333.1 M739.2,1333.1 741.6,1332.7 744.1,1332.2 746.6,1331.8 749.0,1331.4 M749.0,1331.4 751.5,1330.9 753.9,1330.5 756.4,1330.0 758.8,1329.5 M758.8,1329.5 761.3,1329.1 763.7,1328.6 766.2,1328.1 768.6,1327.6 M768.6,1327.6 771.1,1327.2 773.5,1326.7 776.0,1326.2 778.4,1325.7 M875.9,1303.8 878.3,1303.3 880.8,1302.8 883.2,1302.3 885.7,1301.9 M885.7,1301.9 888.1,1301.4 890.6,1300.9 893.0,1300.5 895.5,1300.0 M895.5,1300.0 897.9,1299.6 900.4,1299.2 902.9,1298.8 905.3,1298.4 M905.3,1298.4 907.8,1298.0 910.3,1297.6 912.7,1297.2 915.2,1296.9 M915.2,1296.9 917.7,1296.5 920.2,1296.2 922.6,1295.8 925.1,1295.5 M925.1,1295.5 927.6,1295.2 930.1,1294.9 932.5,1294.6 935.0,1294.3 M935.0,1294.3 937.5,1294.0 940.0,1293.7 942.5,1293.4 944.9,1293.1 M1044.3,1283.6 1046.8,1283.3 1049.3,1283.1 1051.8,1282.8 1054.3,1282.5 M1054.3,1282.5 1056.7,1282.2 1059.2,1281.9 1061.7,1281.5 1064.2,1281.2 M1064.2,1281.2 1066.6,1280.9 1069.1,1280.5 1071.6,1280.2 1074.1,1279.8 M1074.1,1279.8 1076.5,1279.5 1079.0,1279.1 1081.5,1278.7 1083.9,1278.3 M1083.9,1278.3 1086.4,1277.9 1088.9,1277.5 1091.3,1277.1 1093.8,1276.6 M1093.8,1276.6 1096.2,1276.2 1098.7,1275.7 1101.1,1275.2 1103.6,1274.8 M1712.2,1317.9 1714.7,1318.3 1717.1,1318.8 1719.6,1319.3 1722.0,1319.7 M1722.0,1319.7 1724.5,1320.2 1726.9,1320.6 1729.4,1321.0 1731.9,1321.5 M1731.9,1321.5 1734.3,1321.9 1736.8,1322.3 1739.2,1322.7 1741.7,1323.1 M1741.7,1323.1 1744.2,1323.5 1746.6,1323.8 1749.1,1324.2 1751.6,1324.6 M1751.6,1324.6 1754.1,1324.9 1756.5,1325.3 1759.0,1325.6 1761.5,1326.0 M1761.5,1326.0 1763.9,1326.3 1766.4,1326.6 1768.9,1326.9 1771.4,1327.2 M1771.4,1327.2 1773.9,1327.5 1776.3,1327.8 1778.8,1328.1 1781.3,1328.4" stroke="#ff0000" stroke-width="4.80"/>
<path d="M778.4,1325.7 780.9,1325.2 783.3,1324.6 785.8,1324.1 788.2,1323.6 M788.2,1323.6 790.6,1323.1 793.1,1322.6 795.5,1322.0 798.0,1321.5 M798.0,1321.5 800.4,1320.9 802.8,1320.4 805.3,1319.8 807.7,1319.3 M807.7,1319.3 810.1,1318.7 812.6,1318.1 815.0,1317.6 817.4,1317.0 M817.4,1317.0 819.9,1316.4 822.3,1315.9 824.7,1315.3 827.2,1314.7 M827.2,1314.7 829.6,1314.2 832.0,1313.6 834.4,1313.0 836.9,1312.5 M836.9,1312.5 839.3,1311.9 841.7,1311.3 844.2,1310.8 846.6,1310.2 M846.6,1310.2 849.0,1309.6 851.5,1309.1 853.9,1308.5 856.3,1308.0 M856.3,1308.0 858.8,1307.5 861.2,1306.9 863.7,1306.4 866.1,1305.9 M866.1,1305.9 868.5,1305.3 871.0,1304.8 873.4,1304.3 875.9,1303.8 M1103.6,1274.8 1106.0,1274.3 1108.5,1273.8 1110.9,1273.2 1113.4,1272.7 M1113.4,1272.7 1115.8,1272.2 1118.2,1271.6 1120.6,1271.0 1123.1,1270.4 M1123.1,1270.4 1125.5,1269.8 1127.9,1269.2 1130.3,1268.5 1132.7,1267.8 M1467.5,1083.7 1468.3,1086.1 1469.0,1088.5 1469.6,1090.9 1470.3,1093.3 M1470.3,1093.3 1470.9,1095.7 1471.5,1098.2 1472.1,1100.6 1472.7,1103.0 M1472.7,1103.0 1473.3,1105.4 1473.8,1107.9 1474.4,1110.3 1475.0,1112.7 M1475.0,1112.7 1475.5,1115.2 1476.1,1117.6 1476.7,1120.0 1477.3,1122.4 M1477.3,1122.4 1477.9,1124.9 1478.5,1127.3 1479.2,1129.7 1479.8,1132.1 M1479.8,1132.1 1480.5,1134.5 1481.2,1136.9 1482.0,1139.3 1482.7,1141.7 M1654.1,1303.5 1656.4,1304.2 1658.8,1304.9 1661.2,1305.6 1663.6,1306.3 M1663.6,1306.3 1666.0,1307.0 1668.5,1307.7 1670.9,1308.3 1673.3,1308.9 M1673.3,1308.9 1675.7,1309.6 1678.1,1310.2 1680.5,1310.8 1683.0,1311.4 M1683.0,1311.4 1685.4,1312.0 1687.8,1312.6 1690.2,1313.1 1692.7,1313.7 M1692.7,1313.7 1695.1,1314.3 1697.5,1314.8 1700.0,1315.3 1702.4,1315.9 M1702.4,1315.9 1704.9,1316.4 1707.3,1316.9 1709.8,1317.4 1712.2,1317.9" stroke="#ff0000" stroke-width="5.10"/>
<path d="M1132.7,1267.8 1135.1,1267.1 1137.5,1266.4 1139.9,1265.6 1142.3,1264.9 M1142.3,1264.9 1144.6,1264.1 1147.0,1263.3 1149.3,1262.4 1151.7,1261.5 M1151.7,1261.5 1154.0,1260.6 1156.3,1259.7 1158.6,1258.7 1160.9,1257.7 M1365.3,1042.9 1366.3,1040.6 1367.3,1038.3 1368.3,1036.0 1369.2,1033.7 M1369.2,1033.7 1370.2,1031.4 1371.1,1029.1 1372.0,1026.7 1372.9,1024.4 M1372.9,1024.4 1373.8,1022.1 1374.7,1019.8 1375.7,1017.5 1376.6,1015.2 M1436.3,999.5 1437.2,1001.8 1438.2,1004.1 1439.0,1006.5 1439.9,1008.8 M1439.9,1008.8 1440.7,1011.2 1441.4,1013.5 1442.2,1015.9 1443.0,1018.3 M1443.0,1018.3 1443.7,1020.7 1444.5,1023.1 1445.3,1025.4 1446.1,1027.8 M1446.1,1027.8 1447.0,1030.1 1447.8,1032.5 1448.7,1034.8 1449.6,1037.1 M1449.6,1037.1 1450.5,1039.5 1451.4,1041.8 1452.3,1044.1 1453.3,1046.4 M1453.3,1046.4 1454.2,1048.7 1455.2,1051.0 1456.1,1053.4 1457.1,1055.7 M1457.1,1055.7 1458.0,1058.0 1459.0,1060.3 1459.9,1062.6 1460.8,1064.9 M1460.8,1064.9 1461.7,1067.2 1462.6,1069.6 1463.5,1071.9 1464.4,1074.3 M1464.4,1074.3 1465.2,1076.6 1466.0,1079.0 1466.8,1081.3 1467.5,1083.7 M1482.7,1141.7 1483.5,1144.0 1484.4,1146.4 1485.3,1148.7 1486.2,1151.0 M1486.2,1151.0 1487.2,1153.3 1488.1,1155.6 1489.2,1157.9 1490.2,1160.2 M1503.0,1187.2 1504.1,1189.5 1505.1,1191.8 1506.1,1194.1 1507.0,1196.4 M1507.0,1196.4 1508.0,1198.7 1509.0,1201.0 1510.0,1203.3 1511.0,1205.6 M1597.8,1282.9 1600.1,1283.9 1602.4,1284.9 1604.7,1285.9 1607.0,1286.8 M1607.0,1286.8 1609.3,1287.8 1611.6,1288.7 1614.0,1289.6 1616.3,1290.6 M1616.3,1290.6 1618.6,1291.5 1620.9,1292.3 1623.3,1293.2 1625.6,1294.1 M1625.6,1294.1 1628.0,1294.9 1630.3,1295.8 1632.7,1296.6 1635.0,1297.4 M1635.0,1297.4 1637.4,1298.2 1639.8,1299.0 1642.1,1299.8 1644.5,1300.6 M1644.5,1300.6 1646.9,1301.3 1649.3,1302.1 1651.7,1302.8 1654.1,1303.5" stroke="#ff0000" stroke-width="5.40"/>
<path d="M1160.9,1257.7 1163.2,1256.7 1165.4,1255.6 1167.7,1254.6 1169.9,1253.4 M1169.9,1253.4 1172.1,1252.3 1174.3,1251.1 1176.5,1249.9 1178.7,1248.6 M1178.7,1248.6 1180.8,1247.3 1182.9,1246.0 1185.0,1244.6 1187.1,1243.2 M1355.3,1060.1 1356.7,1058.1 1358.1,1056.0 1359.4,1053.9 1360.7,1051.8 M1360.7,1051.8 1361.9,1049.6 1363.1,1047.4 1364.2,1045.1 1365.3,1042.9 M1376.6,1015.2 1377.6,1012.9 1378.6,1010.6 1379.7,1008.3 1380.7,1006.1 M1380.7,1006.1 1381.9,1003.8 1383.0,1001.6 1384.2,999.4 1385.5,997.3 M1385.5,997.3 1386.9,995.2 1388.3,993.1 1389.7,991.1 1391.2,989.1 M1398.2,982.0 1400.2,980.5 1402.3,979.1 1404.5,978.0 1406.9,977.2 M1416.7,977.9 1419.0,978.9 1421.1,980.1 1423.2,981.5 1425.1,983.1 M1431.6,990.7 1432.9,992.8 1434.1,995.0 1435.2,997.2 1436.3,999.5 M1490.2,1160.2 1491.2,1162.4 1492.3,1164.7 1493.4,1167.0 1494.5,1169.2 M1494.5,1169.2 1495.6,1171.5 1496.6,1173.7 1497.7,1175.9 1498.8,1178.2 M1498.8,1178.2 1499.9,1180.4 1501.0,1182.7 1502.0,1185.0 1503.0,1187.2 M1511.0,1205.6 1512.0,1207.9 1513.0,1210.1 1514.1,1212.4 1515.1,1214.6 M1515.1,1214.6 1516.3,1216.9 1517.4,1219.1 1518.6,1221.3 1519.8,1223.5 M1519.8,1223.5 1521.1,1225.6 1522.4,1227.8 1523.7,1229.8 1525.2,1231.9 M1553.9,1259.4 1555.9,1260.8 1558.0,1262.2 1560.1,1263.5 1562.2,1264.8 M1562.2,1264.8 1564.4,1266.1 1566.5,1267.4 1568.7,1268.6 1570.9,1269.8 M1570.9,1269.8 1573.1,1271.0 1575.3,1272.2 1577.5,1273.4 1579.7,1274.5 M1579.7,1274.5 1582.0,1275.6 1584.2,1276.7 1586.5,1277.8 1588.7,1278.8 M1588.7,1278.8 1591.0,1279.9 1593.3,1280.9 1595.5,1281.9 1597.8,1282.9" stroke="#ff0000" stroke-width="5.70"/>
<path d="M1187.1,1243.2 1189.1,1241.8 1191.2,1240.4 1193.2,1238.9 1195.2,1237.4 M1195.2,1237.4 1197.2,1235.9 1199.1,1234.3 1201.1,1232.8 1203.0,1231.2 M1203.0,1231.2 1204.9,1229.5 1206.8,1227.9 1208.6,1226.2 1210.4,1224.5 M1210.4,1224.5 1212.3,1222.8 1214.1,1221.1 1215.8,1219.3 1217.6,1217.6 M1217.6,1217.6 1219.3,1215.8 1221.0,1213.9 1222.7,1212.1 1224.4,1210.3 M1224.4,1210.3 1226.1,1208.4 1227.7,1206.5 1229.3,1204.6 1230.9,1202.7 M1230.9,1202.7 1232.5,1200.8 1234.1,1198.8 1235.6,1196.9 1237.2,1194.9 M1237.2,1194.9 1238.7,1192.9 1240.2,1191.0 1241.8,1189.0 1243.3,1187.0 M1243.3,1187.0 1244.7,1185.0 1246.2,1183.0 1247.7,1181.0 1249.2,1178.9 M1249.2,1178.9 1250.6,1176.9 1252.1,1174.9 1253.6,1172.9 1255.0,1170.9 M1255.0,1170.9 1256.5,1168.8 1258.0,1166.8 1259.4,1164.8 1260.9,1162.8 M1260.9,1162.8 1262.3,1160.7 1263.8,1158.7 1265.3,1156.7 1266.8,1154.7 M1266.8,1154.7 1268.3,1152.7 1269.7,1150.7 1271.3,1148.7 1272.8,1146.7 M1272.8,1146.7 1274.3,1144.7 1275.8,1142.8 1277.4,1140.8 1279.0,1138.9 M1279.0,1138.9 1280.5,1136.9 1282.1,1135.0 1283.7,1133.1 1285.4,1131.2 M1285.4,1131.2 1287.0,1129.3 1288.7,1127.5 1290.4,1125.6 1292.1,1123.8 M1292.1,1123.8 1293.8,1122.0 1295.5,1120.2 1297.3,1118.5 1299.1,1116.7 M1299.1,1116.7 1300.9,1115.0 1302.7,1113.2 1304.5,1111.5 1306.3,1109.8 M1306.3,1109.8 1308.2,1108.1 1310.0,1106.4 1311.8,1104.8 1313.7,1103.1 M1313.7,1103.1 1315.5,1101.4 1317.4,1099.7 1319.2,1098.1 1321.1,1096.4 M1321.1,1096.4 1322.9,1094.7 1324.8,1093.0 1326.6,1091.3 1328.5,1089.6 M1328.5,1089.6 1330.3,1087.9 1332.1,1086.2 1333.9,1084.5 1335.7,1082.7 M1335.7,1082.7 1337.4,1081.0 1339.2,1079.2 1340.9,1077.4 1342.6,1075.6 M1342.6,1075.6 1344.3,1073.7 1346.0,1071.9 1347.6,1070.0 1349.2,1068.1 M1349.2,1068.1 1350.8,1066.1 1352.3,1064.2 1353.8,1062.2 1355.3,1060.1 M1391.2,989.1 1392.8,987.2 1394.5,985.4 1396.3,983.6 1398.2,982.0 M1425.1,983.1 1426.9,984.8 1428.6,986.7 1430.1,988.7 1431.6,990.7 M1525.2,1231.9 1526.7,1233.9 1528.2,1235.9 1529.8,1237.8 1531.4,1239.7 M1531.4,1239.7 1533.1,1241.5 1534.8,1243.4 1536.5,1245.1 1538.3,1246.9 M1538.3,1246.9 1540.2,1248.6 1542.0,1250.2 1543.9,1251.8 1545.9,1253.4 M1545.9,1253.4 1547.8,1255.0 1549.8,1256.5 1551.8,1258.0 1553.9,1259.4" stroke="#ff0000" stroke-width="6.00"/>
<path d="M321.9,135.6 324.4,135.7 326.9,135.8 329.4,135.9 331.9,136.0 M331.9,136.0 334.4,136.1 336.9,136.1 339.4,136.2 341.9,136.3 M341.9,136.3 344.4,136.4 346.9,136.4 349.4,136.5 351.9,136.6 M351.9,136.6 354.4,136.6 356.9,136.7 359.3,136.7 361.8,136.8 M361.8,136.8 364.3,136.9 366.8,136.9 369.3,137.0 371.8,137.0 M371.8,137.0 374.3,137.1 376.8,137.1 379.3,137.1 381.8,137.2 M381.8,137.2 384.3,137.2 386.8,137.3 389.3,137.3 391.8,137.4 M391.8,137.4 394.3,137.4 396.8,137.4 399.3,137.5 401.8,137.5 M401.8,137.5 404.3,137.5 406.8,137.6 409.3,137.6 411.8,137.6 M411.8,137.6 414.3,137.7 416.8,137.7 419.3,137.7 421.8,137.8 M421.8,137.8 424.3,137.8 426.8,137.8 429.3,137.8 431.8,137.9 M431.8,137.9 434.3,137.9 436.8,137.9 439.3,137.9 441.8,138.0 M441.8,138.0 444.3,138.0 446.8,138.0 449.3,138.0 451.8,138.1 M451.8,138.1 454.3,138.1 456.8,138.1 459.3,138.1 461.8,138.2 M461.8,138.2 464.3,138.2 466.8,138.2 469.3,138.2 471.8,138.3 M471.8,138.3 474.3,138.3 476.8,138.3 479.2,138.3 481.7,138.4 M481.7,138.4 484.2,138.4 486.7,138.4 489.2,138.5 491.7,138.5 M491.7,138.5 494.2,138.5 496.7,138.6 499.2,138.6 501.7,138.6 M501.7,138.6 504.2,138.6 506.7,138.7 509.2,138.7 511.7,138.8 M511.7,138.8 514.2,138.8 516.7,138.8 519.2,138.9 521.7,138.9 M521.7,138.9 524.2,139.0 526.7,139.0 529.2,139.0 531.7,139.1 M531.7,139.1 534.2,139.1 536.7,139.2 539.2,139.2 541.7,139.3 M541.7,139.3 544.2,139.4 546.7,139.4 549.2,139.5 551.7,139.5 M551.7,139.5 554.2,139.6 556.7,139.7 559.2,139.7 561.7,139.8 M561.7,139.8 564.2,139.9 566.7,139.9 569.2,140.0 571.7,140.1 M571.7,140.1 574.2,140.2 576.7,140.2 579.2,140.3 581.7,140.4" stroke="#0000ff" stroke-width="4.20"/>
<path d="M272.0,133.3 274.5,133.4 277.0,133.6 279.5,133.7 282.0,133.9 M282.0,133.9 284.5,134.0 287.0,134.1 289.4,134.3 291.9,134.4 M291.9,134.4 294.4,134.5 296.9,134.6 299.4,134.7 301.9,134.8 M301.9,134.8 304.4,135.0 306.9,135.1 309.4,135.2 311.9,135.3 M311.9,135.3 314.4,135.4 316.9,135.5 319.4,135.6 321.9,135.6 M581.7,140.4 584.1,140.5 586.6,140.6 589.1,140.7 591.6,140.8 M591.6,140.8 594.1,140.9 596.6,141.0 599.1,141.1 601.6,141.2 M601.6,141.2 604.1,141.3 606.6,141.4 609.1,141.5 611.6,141.6 M611.6,141.6 614.1,141.8 616.6,141.9 619.1,142.0 621.6,142.1 M621.6,142.1 624.1,142.3 626.6,142.4 629.1,142.5 631.6,142.7 M631.6,142.7 634.1,142.8 636.5,143.0 639.0,143.1 641.5,143.3 M641.5,143.3 644.0,143.5 646.5,143.6 649.0,143.8 651.5,144.0 M651.5,144.0 654.0,144.1 656.5,144.3 659.0,144.5 661.5,144.7 M661.5,144.7 664.0,144.9 666.5,145.1 668.9,145.3 671.4,145.5 M671.4,145.5 673.9,145.7 676.4,145.9 678.9,146.1 681.4,146.3 M681.4,146.3 683.9,146.6 686.4,146.8 688.9,147.0 691.3,147.3 M691.3,147.3 693.8,147.5 696.3,147.8 698.8,148.0 701.3,148.3 M701.3,148.3 703.8,148.5 706.2,148.8 708.7,149.1 711.2,149.4" stroke="#0000ff" stroke-width="4.50"/>
<path d="M711.2,149.4 713.7,149.6 716.2,149.9 718.7,150.2 721.1,150.5 M721.1,150.5 723.6,150.8 726.1,151.1 728.6,151.4 731.1,151.7 M731.1,151.7 733.5,152.1 736.0,152.4 738.5,152.7 741.0,153.1 M741.0,153.1 743.4,153.4 745.9,153.8 748.4,154.1 750.9,154.5 M750.9,154.5 753.3,154.9 755.8,155.2 758.3,155.6 760.7,156.0 M760.7,156.0 763.2,156.4 765.7,156.8 768.1,157.2 770.6,157.6 M770.6,157.6 773.1,158.0 775.5,158.4 778.0,158.8 780.4,159.3 M780.4,159.3 782.9,159.7 785.4,160.2 787.8,160.6 790.3,161.1 M790.3,161.1 792.7,161.5 795.2,162.0 797.6,162.5 800.1,163.0 M1765.6,1141.3 1768.1,1141.8 1770.5,1142.3 1773.0,1142.8 1775.4,1143.2 M1775.4,1143.2 1777.9,1143.7 1780.3,1144.2 1782.8,1144.6 1785.2,1145.1 M1785.2,1145.1 1787.7,1145.5 1790.2,1146.0 1792.6,1146.4 1795.1,1146.9 M1795.1,1146.9 1797.5,1147.3 1800.0,1147.7 1802.5,1148.1 1804.9,1148.5 M1804.9,1148.5 1807.4,1149.0 1809.9,1149.4 1812.3,1149.8 1814.8,1150.2 M1814.8,1150.2 1817.3,1150.6 1819.7,1151.0 1822.2,1151.3 1824.7,1151.7 M1824.7,1151.7 1827.1,1152.1 1829.6,1152.5 1832.1,1152.9 1834.5,1153.2 M1834.5,1153.2 1837.0,1153.6 1839.5,1154.0 1842.0,1154.3 1844.4,1154.7 M1844.4,1154.7 1846.9,1155.0 1849.4,1155.4 1851.8,1155.8 1854.3,1156.1 M1854.3,1156.1 1856.8,1156.4 1859.3,1156.8 1861.7,1157.1 1864.2,1157.5 M1864.2,1157.5 1866.7,1157.8 1869.2,1158.1 1871.6,1158.5 1874.1,1158.8 M1874.1,1158.8 1876.6,1159.1 1879.1,1159.5 1881.6,1159.8 1884.0,1160.1 M1884.0,1160.1 1886.5,1160.4 1889.0,1160.7 1891.5,1161.1 1893.9,1161.4 M1893.9,1161.4 1896.4,1161.7 1898.9,1162.0 1901.4,1162.3 1903.9,1162.7 M1903.9,1162.7 1906.3,1163.0 1908.8,1163.3 1911.3,1163.6 1913.8,1163.9 M1913.8,1163.9 1916.2,1164.2 1918.7,1164.5 1921.2,1164.8 1923.7,1165.1 M1923.7,1165.1 1926.2,1165.5 1928.6,1165.8 1931.1,1166.1 1933.6,1166.4 M1933.6,1166.4 1936.1,1166.7 1938.6,1167.0 1941.0,1167.3 1943.5,1167.6 M1943.5,1167.6 1946.0,1168.0 1948.5,1168.3 1950.9,1168.6 1953.4,1168.9 M1953.4,1168.9 1955.9,1169.2 1958.4,1169.5 1960.9,1169.9 1963.3,1170.2 M1963.3,1170.2 1965.8,1170.5 1968.3,1170.8 1970.8,1171.1 1973.2,1171.5 M1973.2,1171.5 1975.7,1171.8 1978.2,1172.1 1980.7,1172.5 1983.1,1172.8 M1983.1,1172.8 1985.6,1173.1 1988.1,1173.5 1990.6,1173.8 1993.0,1174.2 M1993.0,1174.2 1995.5,1174.5 1998.0,1174.8" stroke="#0000ff" stroke-width="4.80"/>
<path d="M800.1,163.0 802.5,163.5 805.0,164.0 807.4,164.5 809.9,165.0 M809.9,165.0 812.3,165.5 814.8,166.0 817.2,166.5 819.6,167.1 M819.6,167.1 822.1,167.6 824.5,168.2 827.0,168.7 829.4,169.3 M829.4,169.3 831.8,169.9 834.3,170.4 836.7,171.0 839.1,171.6 M839.1,171.6 841.5,172.2 844.0,172.8 846.4,173.4 848.8,174.0 M848.8,174.0 851.2,174.7 853.6,175.3 856.0,175.9 858.5,176.6 M858.5,176.6 860.9,177.3 863.3,177.9 865.7,178.6 868.1,179.3 M868.1,179.3 870.5,180.0 872.9,180.6 875.3,181.3 877.7,182.0 M877.7,182.0 880.1,182.8 882.5,183.5 884.9,184.2 887.2,184.9 M1678.5,1119.3 1680.8,1120.1 1683.2,1120.8 1685.6,1121.5 1688.0,1122.2 M1688.0,1122.2 1690.4,1123.0 1692.8,1123.7 1695.2,1124.3 1697.6,1125.0 M1697.6,1125.0 1700.0,1125.7 1702.4,1126.4 1704.8,1127.0 1707.2,1127.7 M1707.2,1127.7 1709.7,1128.3 1712.1,1129.0 1714.5,1129.6 1716.9,1130.2 M1716.9,1130.2 1719.3,1130.8 1721.8,1131.4 1724.2,1132.0 1726.6,1132.6 M1726.6,1132.6 1729.0,1133.2 1731.5,1133.8 1733.9,1134.4 1736.3,1135.0 M1736.3,1135.0 1738.8,1135.5 1741.2,1136.1 1743.6,1136.6 1746.1,1137.2 M1746.1,1137.2 1748.5,1137.7 1751.0,1138.2 1753.4,1138.8 1755.8,1139.3 M1755.8,1139.3 1758.3,1139.8 1760.7,1140.3 1763.2,1140.8 1765.6,1141.3" stroke="#0000ff" stroke-width="5.10"/>
<path d="M887.2,184.9 889.6,185.7 892.0,186.4 894.4,187.2 896.8,188.0 M896.8,188.0 899.2,188.7 901.5,189.5 903.9,190.3 906.3,191.1 M906.3,191.1 908.6,191.9 911.0,192.7 913.4,193.5 915.7,194.3 M915.7,194.3 918.1,195.2 920.4,196.0 922.8,196.9 925.1,197.7 M925.1,197.7 927.5,198.6 929.8,199.4 932.1,200.3 934.5,201.2 M934.5,201.2 936.8,202.1 939.1,203.0 941.5,203.9 943.8,204.8 M943.8,204.8 946.1,205.7 948.4,206.7 950.8,207.6 953.1,208.5 M953.1,208.5 955.4,209.5 957.7,210.5 960.0,211.4 962.3,212.4 M962.3,212.4 964.6,213.4 966.9,214.4 969.2,215.4 971.5,216.4 M1366.8,684.7 1367.8,687.0 1368.9,689.2 1369.9,691.5 1370.9,693.8 M1370.9,693.8 1371.9,696.1 1372.9,698.4 1373.9,700.7 1374.9,702.9 M1374.9,702.9 1375.9,705.2 1376.9,707.5 1377.9,709.8 1378.9,712.1 M1378.9,712.1 1379.9,714.4 1380.9,716.7 1381.9,719.0 1382.8,721.3 M1382.8,721.3 1383.8,723.6 1384.8,725.9 1385.8,728.2 1386.8,730.5 M1386.8,730.5 1387.7,732.8 1388.7,735.1 1389.7,737.4 1390.6,739.7 M1390.6,739.7 1391.6,742.0 1392.6,744.3 1393.5,746.6 1394.5,748.9 M1394.5,748.9 1395.5,751.2 1396.4,753.5 1397.4,755.8 1398.3,758.1 M1398.3,758.1 1399.3,760.4 1400.2,762.8 1401.2,765.1 1402.1,767.4 M1402.1,767.4 1403.1,769.7 1404.0,772.0 1405.0,774.3 1405.9,776.6 M1405.9,776.6 1406.9,778.9 1407.8,781.2 1408.8,783.6 1409.7,785.9 M1409.7,785.9 1410.7,788.2 1411.6,790.5 1412.5,792.8 1413.5,795.1 M1413.5,795.1 1414.4,797.4 1415.4,799.8 1416.3,802.1 1417.3,804.4 M1417.3,804.4 1418.2,806.7 1419.1,809.0 1420.1,811.3 1421.0,813.6 M1421.0,813.6 1422.0,816.0 1422.9,818.3 1423.8,820.6 1424.8,822.9 M1424.8,822.9 1425.7,825.2 1426.7,827.5 1427.6,829.8 1428.6,832.1 M1428.6,832.1 1429.5,834.5 1430.4,836.8 1431.4,839.1 1432.3,841.4 M1432.3,841.4 1433.3,843.7 1434.2,846.0 1435.2,848.3 1436.1,850.6 M1436.1,850.6 1437.1,853.0 1438.0,855.3 1439.0,857.6 1439.9,859.9 M1439.9,859.9 1440.9,862.2 1441.9,864.5 1442.8,866.8 1443.8,869.1 M1443.8,869.1 1444.7,871.4 1445.7,873.7 1446.7,876.0 1447.6,878.3 M1447.6,878.3 1448.6,880.6 1449.6,882.9 1450.5,885.2 1451.5,887.5 M1451.5,887.5 1452.5,889.8 1453.4,892.1 1454.4,894.4 1455.4,896.7 M1455.4,896.7 1456.4,899.0 1457.4,901.3 1458.4,903.6 1459.3,905.9 M1459.3,905.9 1460.3,908.2 1461.3,910.5 1462.3,912.8 1463.3,915.1 M1463.3,915.1 1464.3,917.4 1465.3,919.7 1466.3,921.9 1467.4,924.2 M1622.2,1098.6 1624.5,1099.6 1626.8,1100.6 1629.1,1101.6 1631.4,1102.6 M1631.4,1102.6 1633.7,1103.5 1636.0,1104.5 1638.4,1105.4 1640.7,1106.3 M1640.7,1106.3 1643.0,1107.2 1645.3,1108.1 1647.7,1108.9 1650.0,1109.8 M1650.0,1109.8 1652.4,1110.7 1654.7,1111.5 1657.1,1112.3 1659.5,1113.1 M1659.5,1113.1 1661.8,1114.0 1664.2,1114.8 1666.6,1115.5 1668.9,1116.3 M1668.9,1116.3 1671.3,1117.1 1673.7,1117.9 1676.1,1118.6 1678.5,1119.3" stroke="#0000ff" stroke-width="5.40"/>
<path d="M971.5,216.4 973.7,217.4 976.0,218.4 978.3,219.4 980.6,220.5 M980.6,220.5 982.8,221.5 985.1,222.6 987.4,223.6 989.6,224.7 M989.6,224.7 991.9,225.8 994.1,226.9 996.4,227.9 998.6,229.0 M998.6,229.0 1000.9,230.1 1003.1,231.3 1005.3,232.4 1007.6,233.5 M1007.6,233.5 1009.8,234.7 1012.0,235.8 1014.2,237.0 1016.4,238.1 M1016.4,238.1 1018.6,239.3 1020.8,240.5 1023.0,241.7 1025.2,242.9 M1025.2,242.9 1027.4,244.1 1029.6,245.3 1031.8,246.5 1034.0,247.7 M1034.0,247.7 1036.1,249.0 1038.3,250.2 1040.5,251.4 1042.6,252.7 M1042.6,252.7 1044.8,254.0 1046.9,255.3 1049.1,256.5 1051.2,257.8 M1051.2,257.8 1053.3,259.1 1055.5,260.4 1057.6,261.8 1059.7,263.1 M1059.7,263.1 1061.8,264.4 1063.9,265.8 1066.0,267.1 1068.1,268.5 M1068.1,268.5 1070.2,269.9 1072.3,271.2 1074.4,272.6 1076.4,274.0 M1076.4,274.0 1078.5,275.4 1080.6,276.8 1082.6,278.3 1084.7,279.7 M1217.9,413.5 1219.3,415.5 1220.8,417.6 1222.2,419.6 1223.6,421.7 M1223.6,421.7 1225.0,423.8 1226.4,425.8 1227.8,427.9 1229.1,430.0 M1229.1,430.0 1230.5,432.1 1231.9,434.2 1233.3,436.3 1234.6,438.4 M1234.6,438.4 1236.0,440.5 1237.3,442.6 1238.7,444.7 1240.0,446.8 M1240.0,446.8 1241.3,448.9 1242.7,451.0 1244.0,453.1 1245.3,455.2 M1245.3,455.2 1246.6,457.4 1247.9,459.5 1249.2,461.6 1250.5,463.7 M1250.5,463.7 1251.8,465.9 1253.1,468.0 1254.4,470.2 1255.7,472.3 M1255.7,472.3 1257.0,474.4 1258.3,476.6 1259.6,478.7 1260.9,480.9 M1260.9,480.9 1262.1,483.0 1263.4,485.2 1264.7,487.3 1265.9,489.5 M1265.9,489.5 1267.2,491.6 1268.5,493.8 1269.7,495.9 1271.0,498.1 M1271.0,498.1 1272.2,500.2 1273.5,502.4 1274.7,504.6 1276.0,506.7 M1276.0,506.7 1277.2,508.9 1278.5,511.1 1279.7,513.2 1281.0,515.4 M1281.0,515.4 1282.2,517.6 1283.4,519.8 1284.6,521.9 1285.9,524.1 M1285.9,524.1 1287.1,526.3 1288.3,528.5 1289.5,530.7 1290.7,532.8 M1290.7,532.8 1291.9,535.0 1293.2,537.2 1294.4,539.4 1295.6,541.6 M1295.6,541.6 1296.8,543.8 1298.0,546.0 1299.2,548.2 1300.3,550.4 M1300.3,550.4 1301.5,552.6 1302.7,554.8 1303.9,557.0 1305.1,559.2 M1305.1,559.2 1306.3,561.4 1307.4,563.6 1308.6,565.8 1309.8,568.0 M1309.8,568.0 1311.0,570.2 1312.1,572.4 1313.3,574.6 1314.4,576.8 M1314.4,576.8 1315.6,579.0 1316.7,581.3 1317.9,583.5 1319.0,585.7 M1319.0,585.7 1320.2,587.9 1321.3,590.1 1322.5,592.4 1323.6,594.6 M1323.6,594.6 1324.7,596.8 1325.9,599.0 1327.0,601.3 1328.1,603.5 M1328.1,603.5 1329.3,605.7 1330.4,608.0 1331.5,610.2 1332.6,612.4 M1332.6,612.4 1333.7,614.7 1334.8,616.9 1335.9,619.1 1337.0,621.4 M1337.0,621.4 1338.1,623.6 1339.2,625.9 1340.3,628.1 1341.4,630.4 M1341.4,630.4 1342.5,632.6 1343.6,634.9 1344.7,637.1 1345.8,639.4 M1345.8,639.4 1346.8,641.6 1347.9,643.9 1349.0,646.1 1350.1,648.4 M1350.1,648.4 1351.1,650.6 1352.2,652.9 1353.3,655.2 1354.3,657.4 M1354.3,657.4 1355.4,659.7 1356.4,662.0 1357.5,664.2 1358.5,666.5 M1358.5,666.5 1359.6,668.8 1360.6,671.0 1361.7,673.3 1362.7,675.6 M1362.7,675.6 1363.7,677.8 1364.8,680.1 1365.8,682.4 1366.8,684.7 M1467.4,924.2 1468.4,926.5 1469.4,928.8 1470.4,931.1 1471.5,933.3 M1471.5,933.3 1472.5,935.6 1473.6,937.9 1474.6,940.1 1475.7,942.4 M1475.7,942.4 1476.8,944.7 1477.8,946.9 1478.9,949.2 1480.0,951.4 M1480.0,951.4 1481.1,953.6 1482.2,955.9 1483.3,958.1 1484.5,960.4 M1484.5,960.4 1485.6,962.6 1486.7,964.8 1487.9,967.0 1489.1,969.2 M1489.1,969.2 1490.2,971.4 1491.4,973.6 1492.6,975.8 1493.8,978.0 M1493.8,978.0 1495.0,980.2 1496.3,982.4 1497.5,984.5 1498.8,986.7 M1498.8,986.7 1500.0,988.8 1501.3,991.0 1502.6,993.1 1503.9,995.3 M1503.9,995.3 1505.2,997.4 1506.6,999.5 1507.9,1001.6 1509.3,1003.7 M1509.3,1003.7 1510.7,1005.8 1512.1,1007.8 1513.5,1009.9 1514.9,1011.9 M1570.1,1069.3 1572.1,1070.7 1574.2,1072.1 1576.2,1073.6 1578.3,1074.9 M1578.3,1074.9 1580.4,1076.3 1582.5,1077.7 1584.6,1079.0 1586.7,1080.3 M1586.7,1080.3 1588.9,1081.6 1591.0,1082.8 1593.2,1084.1 1595.4,1085.3 M1595.4,1085.3 1597.6,1086.5 1599.8,1087.7 1602.0,1088.9 1604.2,1090.0 M1604.2,1090.0 1606.4,1091.2 1608.7,1092.3 1610.9,1093.4 1613.1,1094.5 M1613.1,1094.5 1615.4,1095.5 1617.7,1096.6 1619.9,1097.6 1622.2,1098.6" stroke="#0000ff" stroke-width="5.70"/>
<path d="M1084.7,279.7 1086.7,281.1 1088.7,282.6 1090.8,284.0 1092.8,285.5 M1092.8,285.5 1094.8,287.0 1096.8,288.4 1098.8,289.9 1100.8,291.4 M1100.8,291.4 1102.8,292.9 1104.8,294.5 1106.8,296.0 1108.8,297.5 M1108.8,297.5 1110.7,299.1 1112.7,300.6 1114.6,302.2 1116.6,303.7 M1116.6,303.7 1118.5,305.3 1120.4,306.9 1122.4,308.5 1124.3,310.1 M1124.3,310.1 1126.2,311.7 1128.1,313.3 1130.0,315.0 1131.9,316.6 M1131.9,316.6 1133.8,318.2 1135.6,319.9 1137.5,321.6 1139.3,323.2 M1139.3,323.2 1141.2,324.9 1143.0,326.6 1144.9,328.3 1146.7,330.0 M1146.7,330.0 1148.5,331.7 1150.3,333.5 1152.1,335.2 1153.9,336.9 M1153.9,336.9 1155.7,338.7 1157.4,340.5 1159.2,342.2 1160.9,344.0 M1160.9,344.0 1162.7,345.8 1164.4,347.6 1166.2,349.4 1167.9,351.2 M1167.9,351.2 1169.6,353.0 1171.3,354.9 1173.0,356.7 1174.6,358.6 M1174.6,358.6 1176.3,360.4 1178.0,362.3 1179.6,364.2 1181.3,366.0 M1181.3,366.0 1182.9,367.9 1184.5,369.8 1186.1,371.7 1187.7,373.7 M1187.7,373.7 1189.3,375.6 1190.9,377.5 1192.5,379.5 1194.0,381.4 M1194.0,381.4 1195.6,383.4 1197.1,385.3 1198.7,387.3 1200.2,389.3 M1200.2,389.3 1201.7,391.3 1203.2,393.2 1204.7,395.2 1206.2,397.2 M1206.2,397.2 1207.7,399.2 1209.2,401.3 1210.7,403.3 1212.1,405.3 M1212.1,405.3 1213.6,407.3 1215.0,409.4 1216.5,411.4 1217.9,413.5 M1514.9,1011.9 1516.3,1014.0 1517.8,1016.0 1519.3,1018.0 1520.8,1020.0 M1520.8,1020.0 1522.3,1022.0 1523.8,1024.0 1525.4,1026.0 1526.9,1027.9 M1526.9,1027.9 1528.5,1029.8 1530.1,1031.8 1531.7,1033.7 1533.3,1035.6 M1533.3,1035.6 1535.0,1037.4 1536.7,1039.3 1538.4,1041.1 1540.1,1042.9 M1540.1,1042.9 1541.8,1044.8 1543.6,1046.5 1545.3,1048.3 1547.1,1050.0 M1547.1,1050.0 1548.9,1051.8 1550.7,1053.5 1552.6,1055.2 1554.5,1056.8 M1554.5,1056.8 1556.3,1058.4 1558.3,1060.1 1560.2,1061.7 1562.1,1063.2 M1562.1,1063.2 1564.1,1064.8 1566.1,1066.3 1568.1,1067.8 1570.1,1069.3" stroke="#0000ff" stroke-width="6.00"/>
<path d="M401.2,1359.3 403.7,1359.4 406.2,1359.5 408.7,1359.6 411.2,1359.7 M411.2,1359.7 413.7,1359.8 416.2,1359.8 418.7,1359.9 421.2,1360.0 M421.2,1360.0 423.7,1360.0 426.2,1360.1 428.7,1360.1 431.1,1360.2 M431.1,1360.2 433.6,1360.2 436.1,1360.3 438.6,1360.3 441.1,1360.3 M441.1,1360.3 443.6,1360.4 446.1,1360.4 448.6,1360.4 451.1,1360.5 M451.1,1360.5 453.6,1360.5 456.1,1360.5 458.6,1360.5 461.1,1360.5 M461.1,1360.5 463.5,1360.5 466.0,1360.6 468.5,1360.6 471.0,1360.6 M471.0,1360.6 473.5,1360.5 476.0,1360.5 478.5,1360.5 481.0,1360.5 M481.0,1360.5 483.5,1360.5 486.0,1360.5 488.5,1360.5 491.0,1360.4 M491.0,1360.4 493.5,1360.4 496.0,1360.4 498.4,1360.3 500.9,1360.3 M500.9,1360.3 503.4,1360.3 505.9,1360.2 508.4,1360.2 510.9,1360.1 M510.9,1360.1 513.4,1360.1 515.9,1360.0 518.4,1359.9 520.9,1359.9 M520.9,1359.9 523.4,1359.8 525.9,1359.8 528.3,1359.7 530.8,1359.6 M530.8,1359.6 533.3,1359.5 535.8,1359.4 538.3,1359.4 540.8,1359.3 M1923.2,1341.7 1925.7,1341.8 1928.2,1341.9 1930.7,1341.9 1933.2,1342.0 M1933.2,1342.0 1935.7,1342.1 1938.2,1342.2 1940.7,1342.2 1943.2,1342.3 M1943.2,1342.3 1945.7,1342.4 1948.1,1342.4 1950.6,1342.5 1953.1,1342.6 M1953.1,1342.6 1955.6,1342.6 1958.1,1342.7 1960.6,1342.7 1963.1,1342.8 M1963.1,1342.8 1965.6,1342.8 1968.1,1342.8 1970.6,1342.9 1973.1,1342.9 M1973.1,1342.9 1975.6,1342.9 1978.1,1342.9 1980.5,1343.0 1983.0,1343.0 M1983.0,1343.0 1985.5,1343.0 1988.0,1343.0 1990.5,1343.0 1993.0,1343.0 M1993.0,1343.0 1995.5,1343.0 1998.0,1343.0" stroke="#0000ff" stroke-width="4.20"/>
<path d="M272.0,1350.0 274.5,1350.3 277.0,1350.6 279.4,1350.8 281.9,1351.1 M281.9,1351.1 284.4,1351.3 286.9,1351.6 289.3,1351.8 291.8,1352.1 M291.8,1352.1 294.3,1352.3 296.8,1352.6 299.3,1352.8 301.8,1353.0 M301.8,1353.0 304.2,1353.3 306.7,1353.5 309.2,1353.7 311.7,1353.9 M311.7,1353.9 314.2,1354.1 316.7,1354.3 319.1,1354.5 321.6,1354.7 M321.6,1354.7 324.1,1354.9 326.6,1355.1 329.1,1355.3 331.6,1355.5 M331.6,1355.5 334.0,1355.7 336.5,1355.9 339.0,1356.1 341.5,1356.2 M341.5,1356.2 344.0,1356.4 346.5,1356.6 349.0,1356.7 351.5,1356.9 M351.5,1356.9 353.9,1357.0 356.4,1357.2 358.9,1357.3 361.4,1357.5 M361.4,1357.5 363.9,1357.6 366.4,1357.8 368.9,1357.9 371.4,1358.0 M371.4,1358.0 373.9,1358.2 376.3,1358.3 378.8,1358.4 381.3,1358.5 M381.3,1358.5 383.8,1358.6 386.3,1358.8 388.8,1358.9 391.3,1359.0 M391.3,1359.0 393.8,1359.1 396.3,1359.2 398.8,1359.3 401.2,1359.3 M540.8,1359.3 543.3,1359.2 545.8,1359.1 548.3,1359.0 550.8,1358.9 M550.8,1358.9 553.3,1358.8 555.7,1358.7 558.2,1358.6 560.7,1358.5 M560.7,1358.5 563.2,1358.4 565.7,1358.2 568.2,1358.1 570.7,1358.0 M570.7,1358.0 573.2,1357.9 575.7,1357.7 578.2,1357.6 580.6,1357.5 M580.6,1357.5 583.1,1357.3 585.6,1357.2 588.1,1357.1 590.6,1356.9 M590.6,1356.9 593.1,1356.8 595.6,1356.6 598.1,1356.5 600.6,1356.3 M600.6,1356.3 603.0,1356.1 605.5,1356.0 608.0,1355.8 610.5,1355.7 M610.5,1355.7 613.0,1355.5 615.5,1355.3 618.0,1355.1 620.4,1355.0 M620.4,1355.0 622.9,1354.8 625.4,1354.6 627.9,1354.4 630.4,1354.2 M630.4,1354.2 632.9,1354.0 635.4,1353.8 637.8,1353.6 640.3,1353.4 M640.3,1353.4 642.8,1353.2 645.3,1353.0 647.8,1352.8 650.3,1352.6 M650.3,1352.6 652.7,1352.4 655.2,1352.2 657.7,1351.9 660.2,1351.7 M660.2,1351.7 662.7,1351.5 665.2,1351.3 667.6,1351.0 670.1,1350.8 M670.1,1350.8 672.6,1350.6 675.1,1350.3 677.6,1350.1 680.0,1349.8 M680.0,1349.8 682.5,1349.6 685.0,1349.3 687.5,1349.1 690.0,1348.8 M690.0,1348.8 692.4,1348.6 694.9,1348.3 697.4,1348.1 699.9,1347.8 M699.9,1347.8 702.4,1347.5 704.8,1347.2 707.3,1347.0 709.8,1346.7 M709.8,1346.7 712.3,1346.4 714.7,1346.1 717.2,1345.9 719.7,1345.6 M1291.6,1078.2 1294.1,1077.9 1296.6,1077.7 1299.1,1077.6 1301.6,1077.6 M1301.6,1077.6 1304.1,1077.6 1306.6,1077.7 1309.0,1077.9 1311.5,1078.1 M1331.3,1080.5 1333.8,1080.7 1336.3,1080.7 1338.8,1080.5 1341.2,1080.1 M1764.1,1330.6 1766.6,1330.9 1769.1,1331.2 1771.6,1331.4 1774.0,1331.7 M1774.0,1331.7 1776.5,1332.0 1779.0,1332.2 1781.5,1332.5 1784.0,1332.7 M1784.0,1332.7 1786.4,1332.9 1788.9,1333.2 1791.4,1333.4 1793.9,1333.6 M1793.9,1333.6 1796.4,1333.8 1798.8,1334.0 1801.3,1334.3 1803.8,1334.5 M1803.8,1334.5 1806.3,1334.7 1808.8,1334.9 1811.3,1335.1 1813.8,1335.3 M1813.8,1335.3 1816.2,1335.5 1818.7,1335.6 1821.2,1335.8 1823.7,1336.0 M1823.7,1336.0 1826.2,1336.2 1828.7,1336.4 1831.2,1336.6 1833.6,1336.7 M1833.6,1336.7 1836.1,1336.9 1838.6,1337.1 1841.1,1337.3 1843.6,1337.4 M1843.6,1337.4 1846.1,1337.6 1848.6,1337.8 1851.0,1337.9 1853.5,1338.1 M1853.5,1338.1 1856.0,1338.3 1858.5,1338.4 1861.0,1338.6 1863.5,1338.7 M1863.5,1338.7 1866.0,1338.9 1868.5,1339.0 1871.0,1339.2 1873.4,1339.3 M1873.4,1339.3 1875.9,1339.5 1878.4,1339.6 1880.9,1339.7 1883.4,1339.9 M1883.4,1339.9 1885.9,1340.0 1888.4,1340.1 1890.9,1340.3 1893.4,1340.4 M1893.4,1340.4 1895.8,1340.5 1898.3,1340.6 1900.8,1340.7 1903.3,1340.9 M1903.3,1340.9 1905.8,1341.0 1908.3,1341.1 1910.8,1341.2 1913.3,1341.3 M1913.3,1341.3 1915.8,1341.4 1918.3,1341.5 1920.7,1341.6 1923.2,1341.7" stroke="#0000ff" stroke-width="4.50"/>
<path d="M719.7,1345.6 722.2,1345.3 724.7,1345.0 727.1,1344.7 729.6,1344.4 M729.6,1344.4 732.1,1344.1 734.5,1343.7 737.0,1343.4 739.5,1343.1 M739.5,1343.1 742.0,1342.7 744.4,1342.4 746.9,1342.0 749.4,1341.7 M749.4,1341.7 751.8,1341.3 754.3,1340.9 756.7,1340.6 759.2,1340.2 M759.2,1340.2 761.7,1339.7 764.1,1339.3 766.6,1338.9 769.0,1338.5 M769.0,1338.5 771.5,1338.0 773.9,1337.6 776.4,1337.1 778.8,1336.6 M778.8,1336.6 781.3,1336.2 783.7,1335.7 786.2,1335.2 788.6,1334.7 M1311.5,1078.1 1314.0,1078.4 1316.5,1078.6 1319.0,1079.0 1321.4,1079.3 M1321.4,1079.3 1323.9,1079.7 1326.4,1080.0 1328.8,1080.3 1331.3,1080.5 M1432.3,967.5 1434.7,967.1 1437.2,967.1 1439.6,967.6 1441.8,968.8 M1714.9,1323.1 1717.3,1323.5 1719.8,1324.0 1722.2,1324.4 1724.7,1324.9 M1724.7,1324.9 1727.1,1325.3 1729.6,1325.7 1732.0,1326.1 1734.5,1326.5 M1734.5,1326.5 1737.0,1326.9 1739.4,1327.3 1741.9,1327.7 1744.3,1328.0 M1744.3,1328.0 1746.8,1328.4 1749.3,1328.7 1751.8,1329.0 1754.2,1329.4 M1754.2,1329.4 1756.7,1329.7 1759.2,1330.0 1761.6,1330.3 1764.1,1330.6" stroke="#0000ff" stroke-width="4.80"/>
<path d="M788.6,1334.7 791.1,1334.2 793.5,1333.6 795.9,1333.1 798.4,1332.6 M798.4,1332.6 800.8,1332.0 803.2,1331.5 805.7,1330.9 808.1,1330.4 M808.1,1330.4 810.5,1329.8 812.9,1329.3 815.4,1328.7 817.8,1328.1 M817.8,1328.1 820.2,1327.5 822.6,1326.9 825.1,1326.4 827.5,1325.8 M827.5,1325.8 829.9,1325.2 832.3,1324.6 834.7,1324.0 837.2,1323.3 M837.2,1323.3 839.6,1322.7 842.0,1322.1 844.4,1321.5 846.8,1320.9 M846.8,1320.9 849.2,1320.3 851.6,1319.6 854.1,1319.0 856.5,1318.4 M856.5,1318.4 858.9,1317.8 861.3,1317.1 863.7,1316.5 866.1,1315.9 M866.1,1315.9 868.5,1315.2 870.9,1314.6 873.4,1314.0 875.8,1313.3 M875.8,1313.3 878.2,1312.7 880.6,1312.1 883.0,1311.5 885.4,1310.8 M885.4,1310.8 887.8,1310.2 890.2,1309.6 892.7,1308.9 895.1,1308.3 M895.1,1308.3 897.5,1307.7 899.9,1307.1 902.3,1306.5 904.7,1305.9 M904.7,1305.9 907.1,1305.2 909.6,1304.6 912.0,1304.0 914.4,1303.4 M914.4,1303.4 916.8,1302.8 919.2,1302.2 921.7,1301.6 924.1,1301.0 M924.1,1301.0 926.5,1300.4 928.9,1299.8 931.3,1299.2 933.8,1298.7 M933.8,1298.7 936.2,1298.1 938.6,1297.5 941.0,1296.9 943.4,1296.3 M943.4,1296.3 945.9,1295.7 948.3,1295.1 950.7,1294.5 953.1,1294.0 M953.1,1294.0 955.6,1293.4 958.0,1292.8 960.4,1292.2 962.8,1291.6 M962.8,1291.6 965.3,1291.0 967.7,1290.5 970.1,1289.9 972.5,1289.3 M972.5,1289.3 974.9,1288.7 977.4,1288.1 979.8,1287.5 982.2,1287.0 M982.2,1287.0 984.6,1286.4 987.1,1285.8 989.5,1285.2 991.9,1284.6 M991.9,1284.6 994.3,1284.0 996.8,1283.4 999.2,1282.8 1001.6,1282.2 M1001.6,1282.2 1004.0,1281.7 1006.4,1281.1 1008.9,1280.5 1011.3,1279.9 M1011.3,1279.9 1013.7,1279.3 1016.1,1278.7 1018.5,1278.0 1020.9,1277.4 M1020.9,1277.4 1023.4,1276.8 1025.8,1276.2 1028.2,1275.6 1030.6,1275.0 M1030.6,1275.0 1033.0,1274.4 1035.4,1273.7 1037.9,1273.1 1040.3,1272.5 M1040.3,1272.5 1042.7,1271.9 1045.1,1271.2 1047.5,1270.6 1049.9,1270.0 M1049.9,1270.0 1052.3,1269.3 1054.7,1268.7 1057.1,1268.0 1059.5,1267.4 M1059.5,1267.4 1061.9,1266.7 1064.3,1266.0 1066.7,1265.4 1069.1,1264.7 M1069.1,1264.7 1071.5,1264.0 1073.9,1263.4 1076.3,1262.7 1078.7,1262.0 M1078.7,1262.0 1081.1,1261.3 1083.5,1260.6 1085.9,1259.9 1088.3,1259.2 M1281.9,1080.3 1284.3,1079.6 1286.7,1079.0 1289.2,1078.6 1291.6,1078.2 M1666.5,1311.0 1668.9,1311.7 1671.3,1312.4 1673.7,1313.1 1676.1,1313.8 M1676.1,1313.8 1678.5,1314.5 1680.9,1315.2 1683.3,1315.8 1685.7,1316.5 M1685.7,1316.5 1688.1,1317.1 1690.5,1317.7 1692.9,1318.3 1695.4,1318.9 M1695.4,1318.9 1697.8,1319.4 1700.2,1320.0 1702.7,1320.5 1705.1,1321.1 M1705.1,1321.1 1707.5,1321.6 1710.0,1322.1 1712.4,1322.6 1714.9,1323.1" stroke="#0000ff" stroke-width="5.10"/>
<path d="M1088.3,1259.2 1090.7,1258.5 1093.1,1257.7 1095.4,1256.9 1097.8,1256.2 M1097.8,1256.2 1100.2,1255.3 1102.5,1254.5 1104.8,1253.6 1107.2,1252.7 M1107.2,1252.7 1109.5,1251.8 1111.8,1250.8 1114.1,1249.8 1116.3,1248.8 M1272.8,1084.3 1275.0,1083.1 1277.2,1082.1 1279.5,1081.1 1281.9,1080.3 M1341.2,1080.1 1343.7,1079.5 1346.0,1078.6 1348.2,1077.5 1350.4,1076.3 M1384.2,1027.9 1385.2,1025.7 1386.2,1023.4 1387.2,1021.1 1388.2,1018.8 M1423.2,971.5 1425.3,970.2 1427.6,969.1 1429.9,968.2 1432.3,967.5 M1448.0,976.5 1449.1,978.8 1450.1,981.0 1451.0,983.3 1452.0,985.6 M1452.0,985.6 1452.9,988.0 1453.7,990.3 1454.6,992.6 1455.5,995.0 M1455.5,995.0 1456.5,997.3 1457.4,999.6 1458.3,1001.9 1459.3,1004.2 M1459.3,1004.2 1460.2,1006.5 1461.2,1008.8 1462.2,1011.1 1463.2,1013.4 M1463.2,1013.4 1464.2,1015.7 1465.1,1018.0 1466.1,1020.2 1467.1,1022.5 M1467.1,1022.5 1468.1,1024.8 1469.1,1027.1 1470.1,1029.4 1471.1,1031.7 M1471.1,1031.7 1472.1,1034.0 1473.0,1036.3 1474.0,1038.6 1474.9,1040.9 M1474.9,1040.9 1475.9,1043.2 1476.8,1045.5 1477.7,1047.8 1478.6,1050.2 M1478.6,1050.2 1479.5,1052.5 1480.3,1054.8 1481.2,1057.2 1482.1,1059.5 M1482.1,1059.5 1482.9,1061.8 1483.7,1064.2 1484.6,1066.5 1485.4,1068.9 M1485.4,1068.9 1486.2,1071.3 1487.0,1073.6 1487.8,1076.0 1488.6,1078.3 M1488.6,1078.3 1489.4,1080.7 1490.1,1083.1 1490.9,1085.4 1491.7,1087.8 M1491.7,1087.8 1492.5,1090.2 1493.2,1092.6 1494.0,1094.9 1494.8,1097.3 M1494.8,1097.3 1495.5,1099.7 1496.3,1102.0 1497.1,1104.4 1497.8,1106.8 M1497.8,1106.8 1498.6,1109.2 1499.4,1111.5 1500.1,1113.9 1500.9,1116.3 M1500.9,1116.3 1501.7,1118.6 1502.4,1121.0 1503.2,1123.4 1504.0,1125.8 M1504.0,1125.8 1504.8,1128.1 1505.6,1130.5 1506.4,1132.8 1507.2,1135.2 M1507.2,1135.2 1508.0,1137.6 1508.8,1139.9 1509.6,1142.3 1510.4,1144.6 M1510.4,1144.6 1511.3,1147.0 1512.1,1149.3 1513.0,1151.7 1513.8,1154.0 M1513.8,1154.0 1514.7,1156.3 1515.5,1158.7 1516.4,1161.0 1517.3,1163.3 M1517.3,1163.3 1518.2,1165.7 1519.1,1168.0 1520.1,1170.3 1521.0,1172.6 M1521.0,1172.6 1521.9,1174.9 1522.9,1177.2 1523.9,1179.5 1524.8,1181.8 M1524.8,1181.8 1525.8,1184.1 1526.8,1186.4 1527.9,1188.6 1528.9,1190.9 M1629.2,1296.9 1631.5,1298.0 1633.8,1299.0 1636.1,1299.9 1638.4,1300.9 M1638.4,1300.9 1640.7,1301.9 1643.0,1302.8 1645.3,1303.7 1647.6,1304.6 M1647.6,1304.6 1650.0,1305.4 1652.3,1306.3 1654.7,1307.1 1657.0,1307.9 M1657.0,1307.9 1659.4,1308.7 1661.8,1309.5 1664.1,1310.2 1666.5,1311.0" stroke="#0000ff" stroke-width="5.40"/>
<path d="M1116.3,1248.8 1118.5,1247.7 1120.8,1246.5 1123.0,1245.3 1125.1,1244.1 M1125.1,1244.1 1127.3,1242.9 1129.4,1241.6 1131.5,1240.2 1133.6,1238.9 M1264.5,1089.8 1266.5,1088.3 1268.5,1086.9 1270.6,1085.5 1272.8,1084.3 M1364.9,1062.8 1366.4,1060.8 1367.9,1058.8 1369.3,1056.7 1370.6,1054.6 M1370.6,1054.6 1371.9,1052.5 1373.2,1050.3 1374.4,1048.1 1375.6,1045.9 M1375.6,1045.9 1376.7,1043.7 1377.9,1041.5 1379.0,1039.3 1380.0,1037.0 M1380.0,1037.0 1381.1,1034.8 1382.1,1032.5 1383.1,1030.2 1384.2,1027.9 M1388.2,1018.8 1389.2,1016.5 1390.2,1014.3 1391.3,1012.0 1392.4,1009.8 M1392.4,1009.8 1393.5,1007.5 1394.6,1005.3 1395.7,1003.1 1396.9,1000.9 M1396.9,1000.9 1398.1,998.7 1399.4,996.6 1400.7,994.5 1402.1,992.4 M1528.9,1190.9 1530.0,1193.2 1531.0,1195.4 1532.1,1197.7 1533.2,1199.9 M1533.2,1199.9 1534.3,1202.1 1535.5,1204.4 1536.6,1206.6 1537.8,1208.8 M1537.8,1208.8 1539.0,1211.0 1540.2,1213.1 1541.4,1215.3 1542.6,1217.5 M1542.6,1217.5 1543.9,1219.6 1545.2,1221.8 1546.5,1223.9 1547.8,1226.0 M1547.8,1226.0 1549.2,1228.1 1550.5,1230.2 1551.9,1232.2 1553.3,1234.3 M1594.7,1277.1 1596.7,1278.6 1598.8,1280.0 1600.8,1281.4 1602.9,1282.7 M1602.9,1282.7 1605.0,1284.1 1607.2,1285.4 1609.3,1286.6 1611.5,1287.9 M1611.5,1287.9 1613.6,1289.1 1615.8,1290.3 1618.0,1291.5 1620.2,1292.6 M1620.2,1292.6 1622.5,1293.7 1624.7,1294.8 1627.0,1295.9 1629.2,1296.9" stroke="#0000ff" stroke-width="5.70"/>
<path d="M1133.6,1238.9 1135.7,1237.5 1137.7,1236.1 1139.8,1234.6 1141.8,1233.1 M1141.8,1233.1 1143.7,1231.6 1145.7,1230.1 1147.6,1228.5 1149.6,1226.9 M1149.6,1226.9 1151.5,1225.3 1153.3,1223.7 1155.2,1222.0 1157.0,1220.3 M1157.0,1220.3 1158.9,1218.6 1160.7,1216.9 1162.5,1215.2 1164.2,1213.4 M1164.2,1213.4 1166.0,1211.7 1167.7,1209.9 1169.4,1208.1 1171.2,1206.3 M1171.2,1206.3 1172.8,1204.4 1174.5,1202.6 1176.2,1200.7 1177.8,1198.9 M1177.8,1198.9 1179.5,1197.0 1181.1,1195.1 1182.7,1193.2 1184.3,1191.3 M1184.3,1191.3 1185.9,1189.3 1187.4,1187.4 1189.0,1185.4 1190.5,1183.5 M1190.5,1183.5 1192.1,1181.5 1193.6,1179.6 1195.1,1177.6 1196.7,1175.6 M1196.7,1175.6 1198.2,1173.6 1199.6,1171.6 1201.1,1169.6 1202.6,1167.6 M1202.6,1167.6 1204.1,1165.6 1205.6,1163.6 1207.0,1161.6 1208.5,1159.6 M1208.5,1159.6 1209.9,1157.5 1211.4,1155.5 1212.9,1153.5 1214.3,1151.5 M1214.3,1151.5 1215.8,1149.4 1217.2,1147.4 1218.6,1145.4 1220.1,1143.3 M1220.1,1143.3 1221.5,1141.3 1223.0,1139.3 1224.4,1137.3 1225.9,1135.2 M1225.9,1135.2 1227.3,1133.2 1228.8,1131.2 1230.3,1129.2 1231.7,1127.2 M1231.7,1127.2 1233.2,1125.1 1234.7,1123.1 1236.2,1121.1 1237.7,1119.1 M1237.7,1119.1 1239.2,1117.2 1240.7,1115.2 1242.2,1113.2 1243.7,1111.2 M1243.7,1111.2 1245.3,1109.3 1246.9,1107.4 1248.5,1105.5 1250.1,1103.6 M1250.1,1103.6 1251.8,1101.7 1253.5,1099.9 1255.2,1098.1 1257.0,1096.3 M1257.0,1096.3 1258.8,1094.6 1260.6,1092.9 1262.5,1091.3 1264.5,1089.8 M1350.4,1076.3 1352.5,1074.9 1354.5,1073.4 1356.4,1071.8 1358.2,1070.2 M1358.2,1070.2 1360.0,1068.4 1361.7,1066.6 1363.4,1064.7 1364.9,1062.8 M1402.1,992.4 1403.5,990.3 1405.0,988.3 1406.5,986.4 1408.1,984.4 M1408.1,984.4 1409.8,982.6 1411.5,980.8 1413.3,979.0 1415.1,977.4 M1415.1,977.4 1417.0,975.8 1419.0,974.3 1421.1,972.8 1423.2,971.5 M1441.8,968.8 1443.7,970.4 1445.4,972.3 1446.7,974.3 1448.0,976.5 M1553.3,1234.3 1554.8,1236.3 1556.2,1238.4 1557.7,1240.4 1559.2,1242.3 M1559.2,1242.3 1560.8,1244.3 1562.3,1246.3 1563.9,1248.2 1565.5,1250.1 M1565.5,1250.1 1567.1,1252.0 1568.8,1253.8 1570.5,1255.7 1572.2,1257.5 M1572.2,1257.5 1573.9,1259.3 1575.7,1261.0 1577.5,1262.8 1579.3,1264.5 M1579.3,1264.5 1581.1,1266.2 1583.0,1267.8 1584.9,1269.5 1586.8,1271.1 M1586.8,1271.1 1588.7,1272.6 1590.7,1274.2 1592.7,1275.7 1594.7,1277.1" stroke="#0000ff" stroke-width="6.00"/>
<path d="M381.5,176.0 384.0,176.1 386.5,176.2 389.0,176.3 391.5,176.3 M391.5,176.3 394.0,176.4 396.5,176.5 399.0,176.5 401.5,176.6 M401.5,176.6 404.0,176.6 406.5,176.7 408.9,176.8 411.4,176.8 M411.4,176.8 413.9,176.8 416.4,176.9 418.9,176.9 421.4,177.0 M421.4,177.0 423.9,177.0 426.4,177.0 428.9,177.1 431.4,177.1 M431.4,177.1 433.9,177.1 436.4,177.2 438.9,177.2 441.4,177.2 M441.4,177.2 443.9,177.2 446.4,177.2 448.9,177.3 451.4,177.3 M451.4,177.3 453.9,177.3 456.4,177.3 458.9,177.3 461.4,177.3 M461.4,177.3 463.9,177.3 466.4,177.4 468.9,177.4 471.4,177.4 M471.4,177.4 473.9,177.4 476.4,177.4 478.9,177.4 481.4,177.4 M481.4,177.4 483.9,177.4 486.4,177.4 488.9,177.4 491.4,177.5 M491.4,177.5 493.9,177.5 496.4,177.5 498.9,177.5 501.4,177.5 M501.4,177.5 503.8,177.5 506.3,177.5 508.8,177.5 511.3,177.6 M511.3,177.6 513.8,177.6 516.3,177.6 518.8,177.6 521.3,177.6 M521.3,177.6 523.8,177.7 526.3,177.7 528.8,177.7 531.3,177.7 M531.3,177.7 533.8,177.8 536.3,177.8 538.8,177.8 541.3,177.9 M541.3,177.9 543.8,177.9 546.3,177.9 548.8,178.0 551.3,178.0 M551.3,178.0 553.8,178.1 556.3,178.1 558.8,178.2 561.3,178.2 M561.3,178.2 563.8,178.3 566.3,178.4 568.8,178.4 571.3,178.5 M571.3,178.5 573.8,178.6 576.3,178.6 578.8,178.7 581.3,178.8" stroke="#ff00ff" stroke-width="4.20"/>
<path d="M291.8,169.7 294.3,170.0 296.8,170.3 299.3,170.6 301.8,170.8 M301.8,170.8 304.2,171.1 306.7,171.3 309.2,171.6 311.7,171.8 M311.7,171.8 314.2,172.0 316.7,172.2 319.2,172.4 321.6,172.7 M321.6,172.7 324.1,172.9 326.6,173.1 329.1,173.2 331.6,173.4 M331.6,173.4 334.1,173.6 336.6,173.8 339.1,173.9 341.6,174.1 M341.6,174.1 344.1,174.3 346.6,174.4 349.1,174.6 351.5,174.7 M351.5,174.7 354.0,174.8 356.5,175.0 359.0,175.1 361.5,175.2 M361.5,175.2 364.0,175.3 366.5,175.4 369.0,175.5 371.5,175.7 M371.5,175.7 374.0,175.7 376.5,175.8 379.0,175.9 381.5,176.0 M581.3,178.8 583.8,178.9 586.3,179.0 588.7,179.1 591.2,179.2 M591.2,179.2 593.7,179.3 596.2,179.4 598.7,179.5 601.2,179.6 M601.2,179.6 603.7,179.7 606.2,179.8 608.7,180.0 611.2,180.1 M611.2,180.1 613.7,180.2 616.2,180.4 618.7,180.5 621.2,180.7 M621.2,180.7 623.7,180.8 626.2,181.0 628.6,181.2 631.1,181.4 M631.1,181.4 633.6,181.5 636.1,181.7 638.6,181.9 641.1,182.1 M641.1,182.1 643.6,182.3 646.1,182.5 648.6,182.7 651.1,183.0 M651.1,183.0 653.5,183.2 656.0,183.4 658.5,183.7 661.0,183.9 M661.0,183.9 663.5,184.2 666.0,184.5 668.4,184.7 670.9,185.0" stroke="#ff00ff" stroke-width="4.50"/>
<path d="M272.0,167.2 274.5,167.5 277.0,167.9 279.4,168.2 281.9,168.5 M281.9,168.5 284.4,168.8 286.9,169.1 289.3,169.4 291.8,169.7 M670.9,185.0 673.4,185.3 675.9,185.6 678.4,185.9 680.8,186.2 M680.8,186.2 683.3,186.5 685.8,186.8 688.3,187.2 690.8,187.5 M690.8,187.5 693.2,187.8 695.7,188.2 698.2,188.6 700.6,188.9 M700.6,188.9 703.1,189.3 705.6,189.7 708.0,190.1 710.5,190.5 M710.5,190.5 713.0,190.9 715.4,191.3 717.9,191.7 720.4,192.2 M720.4,192.2 722.8,192.6 725.3,193.1 727.7,193.5 730.2,194.0 M730.2,194.0 732.6,194.4 735.1,194.9 737.5,195.4 740.0,195.9 M1763.3,1099.1 1765.7,1099.6 1768.2,1100.1 1770.6,1100.5 1773.1,1101.0 M1773.1,1101.0 1775.6,1101.5 1778.0,1101.9 1780.5,1102.4 1782.9,1102.8 M1782.9,1102.8 1785.4,1103.2 1787.8,1103.7 1790.3,1104.1 1792.8,1104.5 M1792.8,1104.5 1795.2,1104.9 1797.7,1105.3 1800.2,1105.7 1802.6,1106.1 M1802.6,1106.1 1805.1,1106.5 1807.6,1106.9 1810.0,1107.3 1812.5,1107.7 M1812.5,1107.7 1815.0,1108.0 1817.4,1108.4 1819.9,1108.8 1822.4,1109.1 M1822.4,1109.1 1824.9,1109.5 1827.3,1109.8 1829.8,1110.2 1832.3,1110.6 M1832.3,1110.6 1834.7,1110.9 1837.2,1111.2 1839.7,1111.6 1842.2,1111.9 M1842.2,1111.9 1844.6,1112.3 1847.1,1112.6 1849.6,1112.9 1852.1,1113.3 M1852.1,1113.3 1854.5,1113.6 1857.0,1113.9 1859.5,1114.2 1862.0,1114.6 M1862.0,1114.6 1864.4,1114.9 1866.9,1115.2 1869.4,1115.5 1871.9,1115.8 M1871.9,1115.8 1874.4,1116.2 1876.8,1116.5 1879.3,1116.8 1881.8,1117.1 M1881.8,1117.1 1884.3,1117.4 1886.7,1117.7 1889.2,1118.0 1891.7,1118.4 M1891.7,1118.4 1894.2,1118.7 1896.7,1119.0 1899.1,1119.3 1901.6,1119.6 M1901.6,1119.6 1904.1,1119.9 1906.6,1120.3 1909.0,1120.6 1911.5,1120.9 M1911.5,1120.9 1914.0,1121.2 1916.5,1121.5 1918.9,1121.9 1921.4,1122.2 M1921.4,1122.2 1923.9,1122.5 1926.4,1122.8 1928.9,1123.2 1931.3,1123.5 M1931.3,1123.5 1933.8,1123.8 1936.3,1124.2 1938.7,1124.5 1941.2,1124.9 M1941.2,1124.9 1943.7,1125.2 1946.2,1125.6 1948.6,1125.9 1951.1,1126.3 M1951.1,1126.3 1953.6,1126.6 1956.1,1127.0 1958.5,1127.3 1961.0,1127.7 M1961.0,1127.7 1963.5,1128.1 1965.9,1128.5 1968.4,1128.9 1970.9,1129.2 M1970.9,1129.2 1973.3,1129.6 1975.8,1130.0 1978.3,1130.4 1980.7,1130.8 M1980.7,1130.8 1983.2,1131.3 1985.7,1131.7 1988.1,1132.1 1990.6,1132.5 M1990.6,1132.5 1993.0,1133.0 1995.5,1133.4 1998.0,1133.9" stroke="#ff00ff" stroke-width="4.80"/>
<path d="M740.0,195.9 742.4,196.4 744.9,196.9 747.3,197.4 749.8,198.0 M749.8,198.0 752.2,198.5 754.6,199.0 757.1,199.6 759.5,200.1 M759.5,200.1 761.9,200.7 764.4,201.3 766.8,201.8 769.2,202.4 M769.2,202.4 771.7,203.0 774.1,203.6 776.5,204.2 778.9,204.9 M778.9,204.9 781.3,205.5 783.8,206.1 786.2,206.8 788.6,207.4 M788.6,207.4 791.0,208.1 793.4,208.7 795.8,209.4 798.2,210.1 M798.2,210.1 800.6,210.8 803.0,211.5 805.4,212.2 807.8,212.9 M807.8,212.9 810.2,213.6 812.6,214.3 815.0,215.1 817.3,215.8 M1695.4,1082.4 1697.8,1083.1 1700.2,1083.8 1702.6,1084.5 1705.0,1085.2 M1705.0,1085.2 1707.4,1085.9 1709.8,1086.6 1712.2,1087.2 1714.6,1087.9 M1714.6,1087.9 1717.0,1088.5 1719.5,1089.2 1721.9,1089.8 1724.3,1090.4 M1724.3,1090.4 1726.7,1091.0 1729.1,1091.6 1731.6,1092.2 1734.0,1092.8 M1734.0,1092.8 1736.4,1093.3 1738.9,1093.9 1741.3,1094.5 1743.7,1095.0 M1743.7,1095.0 1746.2,1095.5 1748.6,1096.1 1751.1,1096.6 1753.5,1097.1 M1753.5,1097.1 1755.9,1097.6 1758.4,1098.1 1760.8,1098.6 1763.3,1099.1" stroke="#ff00ff" stroke-width="5.10"/>
<path d="M817.3,215.8 819.7,216.6 822.1,217.3 824.5,218.1 826.9,218.9 M826.9,218.9 829.2,219.6 831.6,220.4 834.0,221.2 836.3,222.0 M836.3,222.0 838.7,222.8 841.1,223.6 843.4,224.4 845.8,225.3 M845.8,225.3 848.1,226.1 850.5,226.9 852.8,227.8 855.2,228.6 M855.2,228.6 857.5,229.5 859.9,230.3 862.2,231.2 864.6,232.1 M864.6,232.1 866.9,233.0 869.2,233.9 871.6,234.8 873.9,235.7 M873.9,235.7 876.2,236.6 878.5,237.5 880.9,238.4 883.2,239.3 M883.2,239.3 885.5,240.3 887.8,241.2 890.1,242.1 892.4,243.1 M892.4,243.1 894.7,244.0 897.0,245.0 899.4,246.0 901.7,246.9 M901.7,246.9 903.9,247.9 906.2,248.9 908.5,249.9 910.8,250.9 M910.8,250.9 913.1,251.9 915.4,252.9 917.7,253.9 920.0,254.9 M1351.3,660.0 1352.4,662.3 1353.4,664.6 1354.4,666.9 1355.4,669.1 M1355.4,669.1 1356.4,671.4 1357.4,673.7 1358.5,676.0 1359.5,678.3 M1359.5,678.3 1360.5,680.6 1361.5,682.9 1362.5,685.1 1363.5,687.4 M1363.5,687.4 1364.5,689.7 1365.5,692.0 1366.5,694.3 1367.5,696.6 M1367.5,696.6 1368.4,698.9 1369.4,701.2 1370.4,703.5 1371.4,705.8 M1371.4,705.8 1372.4,708.1 1373.4,710.3 1374.4,712.6 1375.4,714.9 M1375.4,714.9 1376.3,717.2 1377.3,719.5 1378.3,721.8 1379.3,724.1 M1379.3,724.1 1380.3,726.4 1381.3,728.7 1382.2,731.0 1383.2,733.3 M1383.2,733.3 1384.2,735.6 1385.2,737.9 1386.2,740.2 1387.2,742.5 M1387.2,742.5 1388.1,744.8 1389.1,747.1 1390.1,749.4 1391.1,751.7 M1391.1,751.7 1392.1,754.0 1393.0,756.3 1394.0,758.6 1395.0,760.9 M1395.0,760.9 1396.0,763.2 1397.0,765.4 1398.0,767.7 1399.0,770.0 M1399.0,770.0 1400.0,772.3 1400.9,774.6 1401.9,776.9 1402.9,779.2 M1402.9,779.2 1403.9,781.5 1404.9,783.8 1405.9,786.1 1406.9,788.4 M1406.9,788.4 1407.9,790.7 1408.9,792.9 1409.9,795.2 1410.9,797.5 M1410.9,797.5 1411.9,799.8 1412.9,802.1 1414.0,804.4 1415.0,806.6 M1415.0,806.6 1416.0,808.9 1417.0,811.2 1418.0,813.5 1419.1,815.8 M1639.2,1061.7 1641.5,1062.7 1643.8,1063.7 1646.1,1064.7 1648.4,1065.6 M1648.4,1065.6 1650.7,1066.6 1653.0,1067.5 1655.3,1068.5 1657.7,1069.4 M1657.7,1069.4 1660.0,1070.3 1662.3,1071.2 1664.7,1072.0 1667.0,1072.9 M1667.0,1072.9 1669.3,1073.8 1671.7,1074.6 1674.1,1075.4 1676.4,1076.2 M1676.4,1076.2 1678.8,1077.1 1681.1,1077.9 1683.5,1078.6 1685.9,1079.4 M1685.9,1079.4 1688.3,1080.2 1690.6,1080.9 1693.0,1081.7 1695.4,1082.4" stroke="#ff00ff" stroke-width="5.40"/>
<path d="M920.0,254.9 922.2,256.0 924.5,257.0 926.8,258.0 929.1,259.0 M929.1,259.0 931.3,260.1 933.6,261.1 935.9,262.2 938.1,263.3 M938.1,263.3 940.4,264.3 942.6,265.4 944.9,266.5 947.2,267.5 M947.2,267.5 949.4,268.6 951.7,269.7 953.9,270.8 956.1,271.9 M956.1,271.9 958.4,273.0 960.6,274.1 962.9,275.2 965.1,276.3 M965.1,276.3 967.3,277.5 969.6,278.6 971.8,279.7 974.0,280.8 M974.0,280.8 976.2,282.0 978.5,283.1 980.7,284.3 982.9,285.4 M982.9,285.4 985.1,286.6 987.3,287.7 989.5,288.9 991.7,290.1 M991.7,290.1 993.9,291.2 996.1,292.4 998.3,293.6 1000.5,294.8 M1000.5,294.8 1002.7,296.0 1004.9,297.2 1007.1,298.4 1009.3,299.6 M1009.3,299.6 1011.5,300.8 1013.7,302.0 1015.9,303.2 1018.0,304.4 M1018.0,304.4 1020.2,305.6 1022.4,306.9 1024.6,308.1 1026.7,309.3 M1026.7,309.3 1028.9,310.6 1031.1,311.8 1033.3,313.0 1035.4,314.3 M1035.4,314.3 1037.6,315.5 1039.7,316.8 1041.9,318.0 1044.1,319.3 M1044.1,319.3 1046.2,320.6 1048.4,321.8 1050.5,323.1 1052.7,324.4 M1052.7,324.4 1054.8,325.6 1057.0,326.9 1059.1,328.2 1061.2,329.5 M1061.2,329.5 1063.4,330.8 1065.5,332.1 1067.7,333.4 1069.8,334.7 M1069.8,334.7 1071.9,336.0 1074.0,337.3 1076.2,338.6 1078.3,339.9 M1078.3,339.9 1080.4,341.2 1082.6,342.5 1084.7,343.8 1086.8,345.2 M1086.8,345.2 1088.9,346.5 1091.0,347.8 1093.1,349.1 1095.2,350.5 M1095.2,350.5 1097.4,351.8 1099.5,353.2 1101.6,354.5 1103.7,355.9 M1103.7,355.9 1105.8,357.2 1107.9,358.6 1109.9,359.9 1112.0,361.3 M1112.0,361.3 1114.1,362.7 1116.2,364.1 1118.3,365.4 1120.4,366.8 M1120.4,366.8 1122.4,368.2 1124.5,369.6 1126.6,371.0 1128.6,372.4 M1128.6,372.4 1130.7,373.9 1132.7,375.3 1134.8,376.7 1136.8,378.1 M1265.6,502.3 1267.0,504.3 1268.4,506.4 1269.9,508.4 1271.3,510.5 M1271.3,510.5 1272.7,512.6 1274.1,514.6 1275.5,516.7 1276.8,518.8 M1276.8,518.8 1278.2,520.9 1279.6,523.0 1280.9,525.1 1282.3,527.2 M1282.3,527.2 1283.6,529.3 1284.9,531.4 1286.3,533.5 1287.6,535.7 M1287.6,535.7 1288.9,537.8 1290.2,539.9 1291.4,542.1 1292.7,544.2 M1292.7,544.2 1294.0,546.4 1295.3,548.5 1296.5,550.7 1297.8,552.8 M1297.8,552.8 1299.0,555.0 1300.2,557.2 1301.5,559.3 1302.7,561.5 M1302.7,561.5 1303.9,563.7 1305.1,565.9 1306.3,568.1 1307.5,570.3 M1307.5,570.3 1308.7,572.5 1309.9,574.7 1311.1,576.9 1312.2,579.1 M1312.2,579.1 1313.4,581.3 1314.6,583.5 1315.7,585.7 1316.9,587.9 M1316.9,587.9 1318.0,590.2 1319.2,592.4 1320.3,594.6 1321.4,596.8 M1321.4,596.8 1322.5,599.1 1323.7,601.3 1324.8,603.5 1325.9,605.8 M1325.9,605.8 1327.0,608.0 1328.1,610.2 1329.2,612.5 1330.3,614.7 M1330.3,614.7 1331.4,617.0 1332.4,619.2 1333.5,621.5 1334.6,623.7 M1334.6,623.7 1335.7,626.0 1336.7,628.3 1337.8,630.5 1338.9,632.8 M1338.9,632.8 1339.9,635.0 1341.0,637.3 1342.0,639.6 1343.1,641.8 M1343.1,641.8 1344.1,644.1 1345.2,646.4 1346.2,648.6 1347.2,650.9 M1347.2,650.9 1348.3,653.2 1349.3,655.5 1350.3,657.7 1351.3,660.0 M1419.1,815.8 1420.1,818.0 1421.1,820.3 1422.1,822.6 1423.2,824.9 M1423.2,824.9 1424.2,827.1 1425.3,829.4 1426.3,831.7 1427.3,833.9 M1427.3,833.9 1428.4,836.2 1429.4,838.5 1430.5,840.7 1431.6,843.0 M1431.6,843.0 1432.6,845.3 1433.7,847.5 1434.8,849.8 1435.8,852.0 M1435.8,852.0 1436.9,854.3 1438.0,856.5 1439.1,858.8 1440.2,861.0 M1440.2,861.0 1441.3,863.3 1442.4,865.5 1443.5,867.7 1444.7,870.0 M1444.7,870.0 1445.8,872.2 1446.9,874.4 1448.1,876.6 1449.2,878.9 M1449.2,878.9 1450.4,881.1 1451.5,883.3 1452.7,885.5 1453.9,887.7 M1453.9,887.7 1455.1,889.9 1456.2,892.1 1457.5,894.3 1458.7,896.4 M1458.7,896.4 1459.9,898.6 1461.1,900.8 1462.4,903.0 1463.6,905.1 M1463.6,905.1 1464.9,907.3 1466.1,909.4 1467.4,911.6 1468.7,913.7 M1468.7,913.7 1470.0,915.9 1471.3,918.0 1472.6,920.1 1473.9,922.2 M1473.9,922.2 1475.3,924.3 1476.6,926.4 1478.0,928.5 1479.4,930.6 M1479.4,930.6 1480.8,932.7 1482.2,934.8 1483.6,936.8 1485.0,938.9 M1569.4,1023.1 1571.5,1024.5 1573.5,1025.9 1575.6,1027.3 1577.7,1028.6 M1577.7,1028.6 1579.8,1030.0 1581.9,1031.3 1584.0,1032.7 1586.1,1034.0 M1586.1,1034.0 1588.2,1035.3 1590.4,1036.6 1592.5,1037.9 1594.7,1039.1 M1594.7,1039.1 1596.8,1040.4 1599.0,1041.6 1601.2,1042.9 1603.4,1044.1 M1603.4,1044.1 1605.6,1045.3 1607.8,1046.5 1610.0,1047.6 1612.2,1048.8 M1612.2,1048.8 1614.4,1049.9 1616.6,1051.1 1618.8,1052.2 1621.1,1053.3 M1621.1,1053.3 1623.3,1054.4 1625.6,1055.5 1627.8,1056.6 1630.1,1057.6 M1630.1,1057.6 1632.4,1058.7 1634.6,1059.7 1636.9,1060.7 1639.2,1061.7" stroke="#ff00ff" stroke-width="5.70"/>
<path d="M1136.8,378.1 1138.9,379.6 1140.9,381.0 1142.9,382.5 1145.0,383.9 M1145.0,383.9 1147.0,385.4 1149.0,386.9 1151.0,388.3 1153.0,389.8 M1153.0,389.8 1155.0,391.3 1157.0,392.8 1159.0,394.3 1161.0,395.8 M1161.0,395.8 1163.0,397.3 1165.0,398.9 1167.0,400.4 1168.9,401.9 M1168.9,401.9 1170.9,403.5 1172.8,405.0 1174.8,406.6 1176.7,408.2 M1176.7,408.2 1178.7,409.7 1180.6,411.3 1182.5,412.9 1184.4,414.5 M1184.4,414.5 1186.3,416.1 1188.2,417.8 1190.1,419.4 1192.0,421.0 M1192.0,421.0 1193.9,422.7 1195.8,424.3 1197.6,426.0 1199.5,427.7 M1199.5,427.7 1201.3,429.4 1203.2,431.0 1205.0,432.8 1206.8,434.5 M1206.8,434.5 1208.6,436.2 1210.4,437.9 1212.2,439.6 1214.0,441.4 M1214.0,441.4 1215.8,443.2 1217.5,444.9 1219.3,446.7 1221.0,448.5 M1221.0,448.5 1222.8,450.3 1224.5,452.1 1226.2,453.9 1227.9,455.7 M1227.9,455.7 1229.6,457.6 1231.3,459.4 1233.0,461.3 1234.6,463.1 M1234.6,463.1 1236.3,465.0 1237.9,466.9 1239.5,468.8 1241.2,470.7 M1241.2,470.7 1242.8,472.6 1244.3,474.5 1245.9,476.5 1247.5,478.4 M1247.5,478.4 1249.1,480.4 1250.6,482.3 1252.2,484.3 1253.7,486.2 M1253.7,486.2 1255.2,488.2 1256.7,490.2 1258.2,492.2 1259.7,494.2 M1259.7,494.2 1261.2,496.2 1262.7,498.2 1264.1,500.3 1265.6,502.3 M1485.0,938.9 1486.4,940.9 1487.9,942.9 1489.3,945.0 1490.8,947.0 M1490.8,947.0 1492.3,949.0 1493.8,951.0 1495.3,953.0 1496.9,954.9 M1496.9,954.9 1498.4,956.9 1500.0,958.9 1501.5,960.8 1503.1,962.7 M1503.1,962.7 1504.7,964.7 1506.3,966.6 1508.0,968.4 1509.6,970.3 M1509.6,970.3 1511.3,972.2 1512.9,974.0 1514.6,975.9 1516.3,977.7 M1516.3,977.7 1518.1,979.5 1519.8,981.3 1521.5,983.1 1523.3,984.9 M1523.3,984.9 1525.1,986.6 1526.9,988.4 1528.7,990.1 1530.5,991.8 M1530.5,991.8 1532.3,993.5 1534.2,995.2 1536.0,996.8 1537.9,998.5 M1537.9,998.5 1539.8,1000.1 1541.7,1001.8 1543.6,1003.4 1545.5,1005.0 M1545.5,1005.0 1547.4,1006.6 1549.4,1008.1 1551.3,1009.7 1553.3,1011.2 M1553.3,1011.2 1555.3,1012.8 1557.3,1014.3 1559.3,1015.8 1561.3,1017.3 M1561.3,1017.3 1563.3,1018.7 1565.3,1020.2 1567.3,1021.6 1569.4,1023.1" stroke="#ff00ff" stroke-width="6.00"/>
<path d="M450.3,1356.9 452.8,1357.0 455.3,1357.1 457.8,1357.2 460.3,1357.3 M460.3,1357.3 462.7,1357.3 465.2,1357.4 467.7,1357.5 470.2,1357.5 M470.2,1357.5 472.7,1357.6 475.2,1357.6 477.7,1357.7 480.2,1357.7 M480.2,1357.7 482.7,1357.7 485.2,1357.8 487.7,1357.8 490.2,1357.8 M490.2,1357.8 492.7,1357.8 495.2,1357.8 497.7,1357.8 500.2,1357.9 M500.2,1357.9 502.7,1357.9 505.2,1357.8 507.7,1357.8 510.2,1357.8 M510.2,1357.8 512.6,1357.8 515.1,1357.8 517.6,1357.7 520.1,1357.7 M520.1,1357.7 522.6,1357.7 525.1,1357.6 527.6,1357.6 530.1,1357.5 M530.1,1357.5 532.6,1357.5 535.1,1357.4 537.6,1357.4 540.1,1357.3 M540.1,1357.3 542.6,1357.2 545.1,1357.2 547.6,1357.1 550.1,1357.0" stroke="#ff00ff" stroke-width="4.20"/>
<path d="M360.7,1350.3 363.2,1350.5 365.7,1350.8 368.2,1351.1 370.6,1351.3 M370.6,1351.3 373.1,1351.6 375.6,1351.9 378.1,1352.1 380.6,1352.3 M380.6,1352.3 383.1,1352.6 385.5,1352.8 388.0,1353.0 390.5,1353.2 M390.5,1353.2 393.0,1353.5 395.5,1353.7 398.0,1353.9 400.5,1354.1 M400.5,1354.1 402.9,1354.3 405.4,1354.4 407.9,1354.6 410.4,1354.8 M410.4,1354.8 412.9,1355.0 415.4,1355.1 417.9,1355.3 420.4,1355.5 M420.4,1355.5 422.9,1355.6 425.4,1355.7 427.8,1355.9 430.3,1356.0 M430.3,1356.0 432.8,1356.2 435.3,1356.3 437.8,1356.4 440.3,1356.5 M440.3,1356.5 442.8,1356.6 445.3,1356.7 447.8,1356.8 450.3,1356.9 M550.1,1357.0 552.6,1356.9 555.1,1356.8 557.6,1356.7 560.0,1356.6 M560.0,1356.6 562.5,1356.5 565.0,1356.4 567.5,1356.3 570.0,1356.2 M570.0,1356.2 572.5,1356.1 575.0,1356.0 577.5,1355.8 580.0,1355.7 M580.0,1355.7 582.5,1355.6 585.0,1355.4 587.5,1355.3 589.9,1355.2 M589.9,1355.2 592.4,1355.0 594.9,1354.8 597.4,1354.7 599.9,1354.5 M599.9,1354.5 602.4,1354.4 604.9,1354.2 607.4,1354.0 609.9,1353.9 M609.9,1353.9 612.4,1353.7 614.8,1353.5 617.3,1353.3 619.8,1353.1 M619.8,1353.1 622.3,1352.9 624.8,1352.7 627.3,1352.5 629.8,1352.3 M629.8,1352.3 632.3,1352.1 634.7,1351.9 637.2,1351.6 639.7,1351.4 M639.7,1351.4 642.2,1351.2 644.7,1350.9 647.2,1350.7 649.6,1350.4 M649.6,1350.4 652.1,1350.2 654.6,1349.9 657.1,1349.6 659.6,1349.3 M862.1,1299.0 864.6,1298.7 867.1,1298.5 869.6,1298.2 872.1,1298.0 M872.1,1298.0 874.5,1297.7 877.0,1297.5 879.5,1297.3 882.0,1297.1 M882.0,1297.1 884.5,1297.0 887.0,1296.8 889.5,1296.6 892.0,1296.5 M892.0,1296.5 894.5,1296.3 896.9,1296.2 899.4,1296.0 901.9,1295.9 M901.9,1295.9 904.4,1295.7 906.9,1295.6 909.4,1295.5 911.9,1295.3 M911.9,1295.3 914.4,1295.2 916.9,1295.1 919.4,1294.9 921.9,1294.8 M921.9,1294.8 924.4,1294.7 926.8,1294.5 929.3,1294.4 931.8,1294.2 M931.8,1294.2 934.3,1294.1 936.8,1293.9 939.3,1293.7 941.8,1293.5 M941.8,1293.5 944.3,1293.4 946.8,1293.2 949.2,1292.9 951.7,1292.7 M951.7,1292.7 954.2,1292.5 956.7,1292.2 959.2,1292.0 961.7,1291.7 M1773.8,1331.7 1776.3,1332.0 1778.8,1332.3 1781.3,1332.6 1783.8,1332.8 M1783.8,1332.8 1786.2,1333.1 1788.7,1333.3 1791.2,1333.6 1793.7,1333.8 M1793.7,1333.8 1796.2,1334.1 1798.7,1334.3 1801.1,1334.5 1803.6,1334.8 M1803.6,1334.8 1806.1,1335.0 1808.6,1335.2 1811.1,1335.4 1813.6,1335.6 M1813.6,1335.6 1816.1,1335.8 1818.6,1336.0 1821.0,1336.1 1823.5,1336.3 M1823.5,1336.3 1826.0,1336.5 1828.5,1336.7 1831.0,1336.8 1833.5,1337.0 M1833.5,1337.0 1836.0,1337.2 1838.5,1337.3 1841.0,1337.5 1843.5,1337.6 M1843.5,1337.6 1845.9,1337.7 1848.4,1337.9 1850.9,1338.0 1853.4,1338.1 M1853.4,1338.1 1855.9,1338.3 1858.4,1338.4 1860.9,1338.5 1863.4,1338.6 M1863.4,1338.6 1865.9,1338.8 1868.4,1338.9 1870.9,1339.0 1873.4,1339.1 M1873.4,1339.1 1875.9,1339.2 1878.3,1339.3 1880.8,1339.4 1883.3,1339.5 M1883.3,1339.5 1885.8,1339.6 1888.3,1339.7 1890.8,1339.8 1893.3,1339.9 M1893.3,1339.9 1895.8,1340.0 1898.3,1340.1 1900.8,1340.2 1903.3,1340.3 M1903.3,1340.3 1905.8,1340.4 1908.3,1340.5 1910.8,1340.6 1913.3,1340.7 M1913.3,1340.7 1915.7,1340.8 1918.2,1340.9 1920.7,1341.0 1923.2,1341.1 M1923.2,1341.1 1925.7,1341.2 1928.2,1341.3 1930.7,1341.4 1933.2,1341.5 M1933.2,1341.5 1935.7,1341.6 1938.2,1341.7 1940.7,1341.8 1943.2,1341.9 M1943.2,1341.9 1945.7,1342.1 1948.2,1342.2 1950.7,1342.3 1953.1,1342.4 M1953.1,1342.4 1955.6,1342.5 1958.1,1342.6 1960.6,1342.8 1963.1,1342.9 M1963.1,1342.9 1965.6,1343.0 1968.1,1343.1 1970.6,1343.3 1973.1,1343.4 M1973.1,1343.4 1975.6,1343.6 1978.1,1343.7 1980.6,1343.9 1983.0,1344.0 M1983.0,1344.0 1985.5,1344.2 1988.0,1344.3 1990.5,1344.5 1993.0,1344.7 M1993.0,1344.7 1995.5,1344.8 1998.0,1345.0" stroke="#ff00ff" stroke-width="4.50"/>
<path d="M272.0,1336.3 274.5,1336.8 276.9,1337.3 279.3,1337.8 281.8,1338.3 M281.8,1338.3 284.2,1338.7 286.7,1339.2 289.2,1339.7 291.6,1340.1 M291.6,1340.1 294.1,1340.5 296.5,1341.0 299.0,1341.4 301.4,1341.8 M301.4,1341.8 303.9,1342.3 306.4,1342.7 308.8,1343.1 311.3,1343.5 M311.3,1343.5 313.7,1343.9 316.2,1344.3 318.7,1344.7 321.1,1345.0 M321.1,1345.0 323.6,1345.4 326.1,1345.8 328.5,1346.1 331.0,1346.5 M331.0,1346.5 333.5,1346.8 336.0,1347.2 338.4,1347.5 340.9,1347.8 M340.9,1347.8 343.4,1348.2 345.9,1348.5 348.3,1348.8 350.8,1349.1 M350.8,1349.1 353.3,1349.4 355.8,1349.7 358.2,1350.0 360.7,1350.3 M659.6,1349.3 662.0,1349.1 664.5,1348.8 667.0,1348.5 669.5,1348.2 M669.5,1348.2 672.0,1347.8 674.4,1347.5 676.9,1347.2 679.4,1346.9 M679.4,1346.9 681.8,1346.5 684.3,1346.2 686.8,1345.8 689.3,1345.5 M689.3,1345.5 691.7,1345.1 694.2,1344.7 696.7,1344.3 699.1,1343.9 M699.1,1343.9 701.6,1343.5 704.0,1343.1 706.5,1342.7 709.0,1342.3 M709.0,1342.3 711.4,1341.9 713.9,1341.4 716.3,1341.0 718.8,1340.5 M718.8,1340.5 721.2,1340.0 723.7,1339.5 726.1,1339.0 728.6,1338.5 M842.4,1301.9 844.8,1301.5 847.3,1301.1 849.8,1300.7 852.2,1300.3 M852.2,1300.3 854.7,1300.0 857.2,1299.6 859.7,1299.3 862.1,1299.0 M961.7,1291.7 964.1,1291.4 966.6,1291.1 969.1,1290.7 971.6,1290.4 M971.6,1290.4 974.0,1290.0 976.5,1289.7 979.0,1289.3 981.4,1288.9 M981.4,1288.9 983.9,1288.5 986.3,1288.1 988.8,1287.7 991.3,1287.2 M991.3,1287.2 993.7,1286.8 996.2,1286.3 998.6,1285.9 1001.1,1285.4 M1001.1,1285.4 1003.5,1284.9 1006.0,1284.5 1008.4,1284.0 1010.9,1283.5 M1040.2,1277.5 1042.7,1277.0 1045.1,1276.5 1047.5,1276.0 1050.0,1275.5 M1050.0,1275.5 1052.4,1275.0 1054.9,1274.6 1057.3,1274.1 1059.8,1273.6 M1059.8,1273.6 1062.2,1273.2 1064.7,1272.7 1067.2,1272.3 1069.6,1271.9 M1069.6,1271.9 1072.1,1271.4 1074.5,1271.0 1077.0,1270.6 1079.5,1270.2 M1079.5,1270.2 1081.9,1269.8 1084.4,1269.5 1086.9,1269.1 1089.3,1268.7 M1089.3,1268.7 1091.8,1268.4 1094.3,1268.0 1096.7,1267.7 1099.2,1267.4 M1099.2,1267.4 1101.7,1267.0 1104.2,1266.7 1106.6,1266.3 1109.1,1265.9 M1109.1,1265.9 1111.6,1265.6 1114.0,1265.2 1116.5,1264.8 1119.0,1264.4 M1119.0,1264.4 1121.4,1264.0 1123.9,1263.5 1126.3,1263.1 1128.8,1262.6 M1399.8,1016.4 1402.2,1015.6 1404.7,1015.2 1407.2,1015.1 1409.7,1015.2 M1714.7,1322.2 1717.2,1322.7 1719.6,1323.2 1722.1,1323.7 1724.5,1324.1 M1724.5,1324.1 1727.0,1324.6 1729.4,1325.1 1731.9,1325.5 1734.3,1325.9 M1734.3,1325.9 1736.8,1326.4 1739.3,1326.8 1741.7,1327.2 1744.2,1327.6 M1744.2,1327.6 1746.7,1328.0 1749.1,1328.4 1751.6,1328.7 1754.1,1329.1 M1754.1,1329.1 1756.5,1329.4 1759.0,1329.8 1761.5,1330.1 1763.9,1330.5 M1763.9,1330.5 1766.4,1330.8 1768.9,1331.1 1771.4,1331.4 1773.8,1331.7" stroke="#ff00ff" stroke-width="4.80"/>
<path d="M728.6,1338.5 731.0,1338.0 733.4,1337.4 735.9,1336.9 738.3,1336.3 M738.3,1336.3 740.7,1335.6 743.1,1335.0 745.5,1334.3 747.9,1333.6 M813.4,1309.2 815.7,1308.5 818.1,1307.7 820.5,1307.0 822.9,1306.3 M822.9,1306.3 825.3,1305.7 827.8,1305.1 830.2,1304.5 832.6,1303.9 M832.6,1303.9 835.0,1303.4 837.5,1302.9 839.9,1302.4 842.4,1301.9 M1010.9,1283.5 1013.3,1283.0 1015.8,1282.5 1018.2,1282.0 1020.7,1281.5 M1020.7,1281.5 1023.1,1281.0 1025.5,1280.5 1028.0,1280.0 1030.4,1279.5 M1030.4,1279.5 1032.9,1279.0 1035.3,1278.5 1037.8,1278.0 1040.2,1277.5 M1128.8,1262.6 1131.2,1262.1 1133.7,1261.6 1136.1,1261.1 1138.5,1260.5 M1138.5,1260.5 1141.0,1259.9 1143.4,1259.3 1145.8,1258.6 1148.2,1257.9 M1351.3,1049.3 1353.7,1048.6 1356.1,1048.0 1358.5,1047.3 1360.9,1046.5 M1409.7,1015.2 1412.1,1015.6 1414.6,1016.1 1417.0,1016.8 1419.3,1017.7 M1666.5,1309.6 1668.9,1310.3 1671.2,1311.1 1673.6,1311.8 1676.0,1312.5 M1676.0,1312.5 1678.4,1313.2 1680.8,1313.9 1683.2,1314.5 1685.6,1315.2 M1685.6,1315.2 1688.0,1315.8 1690.5,1316.5 1692.9,1317.1 1695.3,1317.7 M1695.3,1317.7 1697.7,1318.3 1700.1,1318.9 1702.6,1319.5 1705.0,1320.0 M1705.0,1320.0 1707.4,1320.6 1709.9,1321.1 1712.3,1321.6 1714.7,1322.2" stroke="#ff00ff" stroke-width="5.10"/>
<path d="M747.9,1333.6 750.3,1332.8 752.7,1332.0 755.0,1331.3 757.4,1330.4 M757.4,1330.4 759.7,1329.6 762.1,1328.8 764.4,1327.9 766.7,1327.0 M766.7,1327.0 769.1,1326.1 771.4,1325.2 773.7,1324.3 776.0,1323.4 M776.0,1323.4 778.4,1322.5 780.7,1321.5 783.0,1320.6 785.3,1319.7 M785.3,1319.7 787.6,1318.8 790.0,1317.8 792.3,1316.9 794.6,1316.0 M794.6,1316.0 796.9,1315.1 799.3,1314.2 801.6,1313.3 803.9,1312.5 M803.9,1312.5 806.3,1311.6 808.6,1310.8 811.0,1310.0 813.4,1309.2 M1148.2,1257.9 1150.6,1257.2 1152.9,1256.4 1155.3,1255.6 1157.6,1254.7 M1157.6,1254.7 1160.0,1253.9 1162.3,1252.9 1164.6,1251.9 1166.8,1250.9 M1341.8,1052.4 1344.1,1051.5 1346.5,1050.7 1348.9,1050.0 1351.3,1049.3 M1443.7,1048.1 1444.7,1050.4 1445.6,1052.6 1446.6,1054.9 1447.6,1057.2 M1447.6,1057.2 1448.6,1059.5 1449.6,1061.8 1450.6,1064.1 1451.6,1066.4 M1451.6,1066.4 1452.6,1068.7 1453.6,1070.9 1454.6,1073.2 1455.6,1075.5 M1619.9,1291.8 1622.2,1292.8 1624.4,1293.8 1626.7,1294.8 1629.0,1295.8 M1629.0,1295.8 1631.3,1296.8 1633.6,1297.7 1635.9,1298.6 1638.3,1299.6 M1638.3,1299.6 1640.6,1300.5 1642.9,1301.4 1645.2,1302.3 1647.6,1303.1 M1647.6,1303.1 1649.9,1304.0 1652.3,1304.8 1654.6,1305.6 1657.0,1306.5 M1657.0,1306.5 1659.4,1307.3 1661.7,1308.0 1664.1,1308.8 1666.5,1309.6" stroke="#ff00ff" stroke-width="5.40"/>
<path d="M1166.8,1250.9 1169.1,1249.8 1171.3,1248.7 1173.5,1247.5 1175.7,1246.3 M1175.7,1246.3 1177.9,1245.1 1180.0,1243.8 1182.1,1242.5 1184.2,1241.1 M1233.2,1191.8 1234.6,1189.8 1236.1,1187.7 1237.5,1185.6 1238.9,1183.6 M1238.9,1183.6 1240.2,1181.5 1241.6,1179.4 1243.0,1177.3 1244.3,1175.2 M1244.3,1175.2 1245.6,1173.1 1247.0,1171.0 1248.3,1168.9 1249.5,1166.7 M1249.5,1166.7 1250.8,1164.6 1252.1,1162.4 1253.4,1160.3 1254.6,1158.1 M1254.6,1158.1 1255.9,1156.0 1257.1,1153.8 1258.4,1151.6 1259.6,1149.5 M1259.6,1149.5 1260.8,1147.3 1262.0,1145.1 1263.2,1142.9 1264.5,1140.8 M1264.5,1140.8 1265.7,1138.6 1266.9,1136.4 1268.1,1134.2 1269.3,1132.0 M1269.3,1132.0 1270.5,1129.9 1271.8,1127.7 1273.0,1125.5 1274.2,1123.3 M1274.2,1123.3 1275.5,1121.2 1276.7,1119.0 1278.0,1116.9 1279.3,1114.7 M1279.3,1114.7 1280.5,1112.6 1281.8,1110.5 1283.2,1108.3 1284.5,1106.2 M1284.5,1106.2 1285.9,1104.1 1287.2,1102.1 1288.6,1100.0 1290.0,1097.9 M1324.4,1062.1 1326.5,1060.7 1328.5,1059.3 1330.7,1058.0 1332.8,1056.8 M1332.8,1056.8 1335.0,1055.6 1337.3,1054.5 1339.5,1053.4 1341.8,1052.4 M1360.9,1046.5 1363.2,1045.7 1365.5,1044.7 1367.8,1043.6 1369.9,1042.4 M1391.4,1021.6 1393.3,1020.0 1395.4,1018.6 1397.5,1017.4 1399.8,1016.4 M1419.3,1017.7 1421.5,1018.8 1423.7,1020.0 1425.7,1021.5 1427.7,1023.0 M1434.3,1030.5 1435.7,1032.5 1437.0,1034.7 1438.2,1036.8 1439.4,1039.0 M1439.4,1039.0 1440.5,1041.3 1441.6,1043.5 1442.7,1045.8 1443.7,1048.1 M1455.6,1075.5 1456.7,1077.8 1457.7,1080.1 1458.7,1082.3 1459.8,1084.6 M1459.8,1084.6 1460.8,1086.9 1461.9,1089.1 1462.9,1091.4 1464.0,1093.6 M1464.0,1093.6 1465.0,1095.9 1466.1,1098.2 1467.2,1100.4 1468.2,1102.7 M1468.2,1102.7 1469.3,1104.9 1470.4,1107.2 1471.5,1109.4 1472.5,1111.7 M1472.5,1111.7 1473.6,1113.9 1474.7,1116.2 1475.8,1118.4 1476.9,1120.7 M1476.9,1120.7 1478.0,1122.9 1479.1,1125.2 1480.2,1127.4 1481.3,1129.6 M1481.3,1129.6 1482.4,1131.9 1483.5,1134.1 1484.6,1136.4 1485.7,1138.6 M1485.7,1138.6 1486.8,1140.8 1487.9,1143.1 1489.0,1145.3 1490.1,1147.5 M1490.1,1147.5 1491.2,1149.8 1492.3,1152.0 1493.4,1154.3 1494.5,1156.5 M1494.5,1156.5 1495.6,1158.7 1496.7,1161.0 1497.8,1163.2 1498.9,1165.4 M1498.9,1165.4 1500.0,1167.7 1501.1,1169.9 1502.3,1172.1 1503.4,1174.4 M1503.4,1174.4 1504.5,1176.6 1505.6,1178.8 1506.8,1181.0 1507.9,1183.3 M1507.9,1183.3 1509.1,1185.5 1510.2,1187.7 1511.4,1189.9 1512.6,1192.1 M1512.6,1192.1 1513.8,1194.3 1515.0,1196.5 1516.2,1198.6 1517.5,1200.8 M1517.5,1200.8 1518.7,1203.0 1520.0,1205.1 1521.3,1207.2 1522.5,1209.4 M1522.5,1209.4 1523.9,1211.5 1525.2,1213.6 1526.6,1215.7 1527.9,1217.8 M1527.9,1217.8 1529.3,1219.9 1530.7,1221.9 1532.2,1224.0 1533.6,1226.0 M1576.3,1267.5 1578.4,1268.9 1580.5,1270.3 1582.6,1271.7 1584.7,1273.0 M1584.7,1273.0 1586.8,1274.3 1588.9,1275.6 1591.1,1276.9 1593.2,1278.2 M1593.2,1278.2 1595.4,1279.4 1597.6,1280.6 1599.8,1281.8 1602.0,1283.0 M1602.0,1283.0 1604.2,1284.1 1606.4,1285.3 1608.6,1286.4 1610.9,1287.5 M1610.9,1287.5 1613.1,1288.6 1615.4,1289.7 1617.6,1290.7 1619.9,1291.8" stroke="#ff00ff" stroke-width="5.70"/>
<path d="M1184.2,1241.1 1186.3,1239.7 1188.3,1238.2 1190.3,1236.8 1192.3,1235.3 M1192.3,1235.3 1194.3,1233.7 1196.2,1232.2 1198.1,1230.6 1200.0,1228.9 M1200.0,1228.9 1201.9,1227.3 1203.7,1225.6 1205.6,1223.9 1207.4,1222.2 M1207.4,1222.2 1209.1,1220.4 1210.9,1218.6 1212.6,1216.8 1214.3,1215.0 M1214.3,1215.0 1216.0,1213.2 1217.7,1211.3 1219.3,1209.4 1220.9,1207.5 M1220.9,1207.5 1222.5,1205.6 1224.1,1203.7 1225.7,1201.8 1227.2,1199.8 M1227.2,1199.8 1228.7,1197.8 1230.2,1195.8 1231.7,1193.8 1233.2,1191.8 M1290.0,1097.9 1291.5,1095.9 1292.9,1093.9 1294.4,1091.9 1295.9,1089.9 M1295.9,1089.9 1297.5,1087.9 1299.1,1086.0 1300.7,1084.1 1302.3,1082.2 M1302.3,1082.2 1304.0,1080.3 1305.7,1078.5 1307.4,1076.7 1309.1,1074.9 M1309.1,1074.9 1310.9,1073.2 1312.7,1071.5 1314.6,1069.8 1316.5,1068.2 M1316.5,1068.2 1318.4,1066.6 1320.4,1065.0 1322.4,1063.5 1324.4,1062.1 M1369.9,1042.4 1372.0,1040.9 1373.9,1039.4 1375.8,1037.7 1377.6,1036.0 M1377.6,1036.0 1379.3,1034.2 1381.0,1032.3 1382.7,1030.5 1384.3,1028.6 M1384.3,1028.6 1386.0,1026.8 1387.8,1025.0 1389.5,1023.3 1391.4,1021.6 M1427.7,1023.0 1429.5,1024.7 1431.2,1026.6 1432.8,1028.5 1434.3,1030.5 M1533.6,1226.0 1535.1,1228.0 1536.6,1230.0 1538.2,1231.9 1539.7,1233.9 M1539.7,1233.9 1541.3,1235.8 1542.9,1237.7 1544.5,1239.6 1546.2,1241.5 M1546.2,1241.5 1547.9,1243.3 1549.6,1245.1 1551.4,1246.9 1553.2,1248.6 M1553.2,1248.6 1555.0,1250.4 1556.8,1252.0 1558.7,1253.7 1560.5,1255.4 M1560.5,1255.4 1562.4,1257.0 1564.4,1258.6 1566.3,1260.1 1568.3,1261.6 M1568.3,1261.6 1570.3,1263.2 1572.3,1264.6 1574.3,1266.1 1576.3,1267.5" stroke="#ff00ff" stroke-width="6.00"/>
<path d="M371.5,181.7 374.0,181.8 376.4,181.9 378.9,182.0 381.4,182.0 M381.4,182.0 383.9,182.1 386.4,182.2 388.9,182.2 391.4,182.3 M391.4,182.3 393.9,182.4 396.4,182.4 398.9,182.5 401.4,182.5 M401.4,182.5 403.9,182.6 406.4,182.6 408.9,182.6 411.4,182.7 M411.4,182.7 413.9,182.7 416.4,182.7 418.9,182.8 421.4,182.8 M421.4,182.8 423.8,182.8 426.3,182.8 428.8,182.9 431.3,182.9 M431.3,182.9 433.8,182.9 436.3,182.9 438.8,182.9 441.3,182.9 M441.3,182.9 443.8,183.0 446.3,183.0 448.8,183.0 451.3,183.0 M451.3,183.0 453.8,183.0 456.3,183.0 458.8,183.0 461.3,183.0 M461.3,183.0 463.8,183.0 466.3,183.0 468.8,183.0 471.3,183.0 M471.3,183.0 473.7,183.0 476.2,183.0 478.7,183.0 481.2,183.0 M481.2,183.0 483.7,183.0 486.2,183.0 488.7,183.0 491.2,183.0 M491.2,183.0 493.7,183.0 496.2,183.0 498.7,183.0 501.2,183.0 M501.2,183.0 503.7,183.0 506.2,183.0 508.7,183.0 511.2,183.0 M511.2,183.0 513.7,183.0 516.2,183.0 518.7,183.0 521.2,183.0 M521.2,183.0 523.7,183.0 526.1,183.0 528.6,183.1 531.1,183.1 M531.1,183.1 533.6,183.1 536.1,183.1 538.6,183.1 541.1,183.2 M541.1,183.2 543.6,183.2 546.1,183.2 548.6,183.2 551.1,183.3 M551.1,183.3 553.6,183.3 556.1,183.3 558.6,183.4 561.1,183.4 M561.1,183.4 563.6,183.5 566.1,183.5 568.6,183.6 571.1,183.6 M571.1,183.6 573.5,183.7 576.0,183.7 578.5,183.8 581.0,183.9 M581.0,183.9 583.5,183.9 586.0,184.0 588.5,184.1 591.0,184.2" stroke="#00ff00" stroke-width="4.20"/>
<path d="M291.8,176.2 294.3,176.5 296.8,176.7 299.3,177.0 301.8,177.2 M301.8,177.2 304.2,177.5 306.7,177.7 309.2,177.9 311.7,178.2 M311.7,178.2 314.2,178.4 316.7,178.6 319.2,178.8 321.6,179.0 M321.6,179.0 324.1,179.2 326.6,179.4 329.1,179.5 331.6,179.7 M331.6,179.7 334.1,179.9 336.6,180.0 339.1,180.2 341.6,180.3 M341.6,180.3 344.0,180.5 346.5,180.6 349.0,180.7 351.5,180.9 M351.5,180.9 354.0,181.0 356.5,181.1 359.0,181.2 361.5,181.3 M361.5,181.3 364.0,181.4 366.5,181.5 369.0,181.6 371.5,181.7 M591.0,184.2 593.5,184.3 596.0,184.4 598.5,184.5 601.0,184.5 M601.0,184.5 603.5,184.7 606.0,184.8 608.5,184.9 611.0,185.0 M611.0,185.0 613.4,185.1 615.9,185.2 618.4,185.4 620.9,185.5 M620.9,185.5 623.4,185.7 625.9,185.8 628.4,186.0 630.9,186.1 M630.9,186.1 633.4,186.3 635.9,186.4 638.3,186.6 640.8,186.8 M640.8,186.8 643.3,187.0 645.8,187.2 648.3,187.4 650.8,187.6 M650.8,187.6 653.3,187.8 655.8,188.0 658.2,188.2 660.7,188.5 M660.7,188.5 663.2,188.7 665.7,189.0 668.2,189.2 670.7,189.5 M670.7,189.5 673.1,189.7 675.6,190.0 678.1,190.3 680.6,190.6 M1985.6,1136.5 1988.1,1136.7 1990.6,1137.0 1993.1,1137.3 1995.5,1137.5 M1995.5,1137.5 1998.0,1137.8" stroke="#00ff00" stroke-width="4.50"/>
<path d="M272.0,173.8 274.5,174.1 277.0,174.4 279.4,174.7 281.9,175.1 M281.9,175.1 284.4,175.4 286.9,175.6 289.3,175.9 291.8,176.2 M680.6,190.6 683.1,190.9 685.5,191.2 688.0,191.5 690.5,191.8 M690.5,191.8 693.0,192.1 695.4,192.5 697.9,192.8 700.4,193.2 M700.4,193.2 702.8,193.5 705.3,193.9 707.8,194.3 710.2,194.6 M710.2,194.6 712.7,195.0 715.2,195.4 717.6,195.9 720.1,196.3 M720.1,196.3 722.5,196.7 725.0,197.1 727.5,197.6 729.9,198.0 M729.9,198.0 732.4,198.5 734.8,199.0 737.3,199.5 739.7,200.0 M1867.4,1117.6 1869.8,1118.1 1872.3,1118.6 1874.7,1119.1 1877.2,1119.6 M1877.2,1119.6 1879.6,1120.1 1882.1,1120.6 1884.5,1121.0 1887.0,1121.5 M1887.0,1121.5 1889.4,1122.0 1891.9,1122.4 1894.3,1122.9 1896.8,1123.3 M1896.8,1123.3 1899.2,1123.8 1901.7,1124.2 1904.1,1124.7 1906.6,1125.1 M1906.6,1125.1 1909.1,1125.5 1911.5,1126.0 1914.0,1126.4 1916.4,1126.8 M1916.4,1126.8 1918.9,1127.2 1921.4,1127.6 1923.8,1128.0 1926.3,1128.4 M1926.3,1128.4 1928.7,1128.8 1931.2,1129.2 1933.7,1129.6 1936.1,1129.9 M1936.1,1129.9 1938.6,1130.3 1941.1,1130.7 1943.5,1131.0 1946.0,1131.4 M1946.0,1131.4 1948.5,1131.8 1951.0,1132.1 1953.4,1132.5 1955.9,1132.8 M1955.9,1132.8 1958.4,1133.1 1960.8,1133.5 1963.3,1133.8 1965.8,1134.1 M1965.8,1134.1 1968.3,1134.4 1970.7,1134.7 1973.2,1135.0 1975.7,1135.3 M1975.7,1135.3 1978.2,1135.6 1980.7,1135.9 1983.1,1136.2 1985.6,1136.5" stroke="#00ff00" stroke-width="4.80"/>
<path d="M739.7,200.0 742.1,200.5 744.6,201.0 747.0,201.5 749.5,202.1 M749.5,202.1 751.9,202.6 754.3,203.2 756.8,203.7 759.2,204.3 M759.2,204.3 761.6,204.9 764.0,205.5 766.5,206.1 768.9,206.7 M768.9,206.7 771.3,207.3 773.7,208.0 776.1,208.6 778.5,209.3 M778.5,209.3 780.9,210.0 783.3,210.7 785.7,211.4 788.1,212.1 M788.1,212.1 790.5,212.8 792.9,213.5 795.3,214.3 797.6,215.0 M1683.8,1070.3 1686.2,1071.0 1688.6,1071.8 1691.0,1072.5 1693.4,1073.2 M1693.4,1073.2 1695.8,1074.0 1698.1,1074.7 1700.5,1075.4 1702.9,1076.1 M1702.9,1076.1 1705.3,1076.8 1707.7,1077.5 1710.1,1078.2 1712.5,1078.9 M1712.5,1078.9 1714.9,1079.6 1717.3,1080.3 1719.7,1080.9 1722.1,1081.6 M1722.1,1081.6 1724.5,1082.3 1726.9,1083.0 1729.3,1083.6 1731.7,1084.3 M1731.7,1084.3 1734.1,1085.0 1736.5,1085.7 1738.9,1086.3 1741.3,1087.0 M1741.3,1087.0 1743.7,1087.6 1746.1,1088.3 1748.6,1089.0 1751.0,1089.6 M1751.0,1089.6 1753.4,1090.3 1755.8,1090.9 1758.2,1091.6 1760.6,1092.2 M1760.6,1092.2 1763.0,1092.8 1765.4,1093.5 1767.8,1094.1 1770.2,1094.8 M1770.2,1094.8 1772.7,1095.4 1775.1,1096.0 1777.5,1096.7 1779.9,1097.3 M1779.9,1097.3 1782.3,1097.9 1784.7,1098.5 1787.2,1099.1 1789.6,1099.7 M1789.6,1099.7 1792.0,1100.4 1794.4,1101.0 1796.8,1101.6 1799.3,1102.2 M1799.3,1102.2 1801.7,1102.8 1804.1,1103.4 1806.5,1104.0 1808.9,1104.5 M1808.9,1104.5 1811.4,1105.1 1813.8,1105.7 1816.2,1106.3 1818.7,1106.9 M1818.7,1106.9 1821.1,1107.4 1823.5,1108.0 1825.9,1108.6 1828.4,1109.1 M1828.4,1109.1 1830.8,1109.7 1833.2,1110.3 1835.7,1110.8 1838.1,1111.4 M1838.1,1111.4 1840.5,1111.9 1843.0,1112.4 1845.4,1113.0 1847.8,1113.5 M1847.8,1113.5 1850.3,1114.0 1852.7,1114.6 1855.2,1115.1 1857.6,1115.6 M1857.6,1115.6 1860.0,1116.1 1862.5,1116.6 1864.9,1117.1 1867.4,1117.6" stroke="#00ff00" stroke-width="5.10"/>
<path d="M797.6,215.0 800.0,215.8 802.4,216.5 804.8,217.3 807.1,218.1 M807.1,218.1 809.5,218.9 811.9,219.7 814.2,220.5 816.6,221.3 M816.6,221.3 818.9,222.2 821.3,223.0 823.6,223.9 826.0,224.7 M826.0,224.7 828.3,225.6 830.6,226.5 833.0,227.3 835.3,228.2 M835.3,228.2 837.6,229.1 840.0,230.0 842.3,230.9 844.6,231.9 M844.6,231.9 846.9,232.8 849.2,233.7 851.5,234.6 853.9,235.6 M853.9,235.6 856.2,236.5 858.5,237.5 860.8,238.4 863.1,239.4 M863.1,239.4 865.4,240.4 867.7,241.4 870.0,242.3 872.3,243.3 M872.3,243.3 874.5,244.3 876.8,245.3 879.1,246.3 881.4,247.3 M881.4,247.3 883.7,248.3 886.0,249.4 888.2,250.4 890.5,251.4 M1311.0,610.5 1312.0,612.8 1313.0,615.1 1314.0,617.3 1315.0,619.6 M1315.0,619.6 1316.0,621.9 1317.0,624.2 1318.0,626.5 1319.0,628.8 M1319.0,628.8 1320.0,631.1 1321.0,633.3 1322.0,635.6 1323.0,637.9 M1323.0,637.9 1324.0,640.2 1325.0,642.5 1325.9,644.8 1326.9,647.1 M1326.9,647.1 1327.9,649.4 1328.9,651.7 1329.9,654.0 1330.8,656.3 M1330.8,656.3 1331.8,658.6 1332.8,660.9 1333.7,663.2 1334.7,665.5 M1334.7,665.5 1335.7,667.8 1336.7,670.1 1337.6,672.4 1338.6,674.7 M1338.6,674.7 1339.6,677.0 1340.5,679.3 1341.5,681.6 1342.5,683.9 M1342.5,683.9 1343.5,686.2 1344.4,688.5 1345.4,690.8 1346.4,693.1 M1346.4,693.1 1347.4,695.3 1348.4,697.6 1349.4,699.9 1350.3,702.2 M1350.3,702.2 1351.3,704.5 1352.3,706.8 1353.3,709.1 1354.3,711.4 M1354.3,711.4 1355.3,713.7 1356.3,716.0 1357.3,718.2 1358.3,720.5 M1358.3,720.5 1359.3,722.8 1360.3,725.1 1361.3,727.4 1362.3,729.7 M1362.3,729.7 1363.3,731.9 1364.4,734.2 1365.4,736.5 1366.4,738.8 M1609.0,1042.7 1611.2,1043.7 1613.5,1044.7 1615.8,1045.7 1618.1,1046.6 M1618.1,1046.6 1620.4,1047.6 1622.7,1048.6 1625.0,1049.5 1627.3,1050.4 M1627.3,1050.4 1629.7,1051.4 1632.0,1052.3 1634.3,1053.2 1636.6,1054.1 M1636.6,1054.1 1639.0,1055.0 1641.3,1055.8 1643.6,1056.7 1646.0,1057.6 M1646.0,1057.6 1648.3,1058.4 1650.7,1059.3 1653.0,1060.1 1655.4,1060.9 M1655.4,1060.9 1657.7,1061.7 1660.1,1062.6 1662.5,1063.4 1664.8,1064.2 M1664.8,1064.2 1667.2,1065.0 1669.6,1065.7 1671.9,1066.5 1674.3,1067.3 M1674.3,1067.3 1676.7,1068.0 1679.1,1068.8 1681.4,1069.6 1683.8,1070.3" stroke="#00ff00" stroke-width="5.40"/>
<path d="M890.5,251.4 892.8,252.4 895.1,253.4 897.3,254.5 899.6,255.5 M899.6,255.5 901.9,256.6 904.1,257.6 906.4,258.6 908.7,259.7 M908.7,259.7 910.9,260.7 913.2,261.8 915.4,262.9 917.7,263.9 M917.7,263.9 920.0,265.0 922.2,266.0 924.5,267.1 926.7,268.2 M926.7,268.2 929.0,269.2 931.2,270.3 933.5,271.4 935.8,272.5 M935.8,272.5 938.0,273.5 940.3,274.6 942.5,275.7 944.8,276.7 M944.8,276.7 947.0,277.8 949.3,278.9 951.5,280.0 953.8,281.1 M953.8,281.1 956.0,282.1 958.3,283.2 960.5,284.3 962.7,285.4 M962.7,285.4 965.0,286.5 967.2,287.6 969.5,288.7 971.7,289.8 M971.7,289.8 974.0,290.9 976.2,292.0 978.4,293.1 980.7,294.2 M980.7,294.2 982.9,295.3 985.2,296.4 987.4,297.5 989.6,298.6 M989.6,298.6 991.8,299.7 994.1,300.8 996.3,302.0 998.5,303.1 M998.5,303.1 1000.8,304.2 1003.0,305.4 1005.2,306.5 1007.4,307.6 M1007.4,307.6 1009.6,308.8 1011.9,309.9 1014.1,311.1 1016.3,312.2 M1016.3,312.2 1018.5,313.4 1020.7,314.5 1022.9,315.7 1025.1,316.9 M1025.1,316.9 1027.3,318.1 1029.5,319.2 1031.7,320.4 1033.9,321.6 M1033.9,321.6 1036.1,322.8 1038.3,324.0 1040.5,325.2 1042.7,326.4 M1042.7,326.4 1044.8,327.6 1047.0,328.8 1049.2,330.0 1051.4,331.3 M1051.4,331.3 1053.5,332.5 1055.7,333.7 1057.9,335.0 1060.0,336.2 M1060.0,336.2 1062.2,337.5 1064.3,338.7 1066.5,340.0 1068.6,341.3 M1068.6,341.3 1070.8,342.6 1072.9,343.8 1075.1,345.1 1077.2,346.4 M1077.2,346.4 1079.3,347.7 1081.5,349.0 1083.6,350.3 1085.7,351.7 M1085.7,351.7 1087.8,353.0 1089.9,354.3 1092.0,355.6 1094.1,357.0 M1094.1,357.0 1096.2,358.3 1098.3,359.7 1100.4,361.1 1102.5,362.4 M1102.5,362.4 1104.6,363.8 1106.6,365.2 1108.7,366.6 1110.8,368.0 M1110.8,368.0 1112.8,369.4 1114.9,370.8 1117.0,372.2 1119.0,373.6 M1254.0,505.3 1255.4,507.4 1256.8,509.5 1258.2,511.5 1259.6,513.6 M1259.6,513.6 1260.9,515.7 1262.3,517.8 1263.6,519.9 1264.9,522.0 M1264.9,522.0 1266.3,524.2 1267.6,526.3 1268.9,528.4 1270.1,530.6 M1270.1,530.6 1271.4,532.7 1272.7,534.9 1273.9,537.0 1275.2,539.2 M1275.2,539.2 1276.4,541.3 1277.6,543.5 1278.9,545.7 1280.1,547.9 M1280.1,547.9 1281.3,550.1 1282.5,552.3 1283.6,554.4 1284.8,556.7 M1284.8,556.7 1286.0,558.9 1287.1,561.1 1288.3,563.3 1289.4,565.5 M1289.4,565.5 1290.6,567.7 1291.7,569.9 1292.8,572.2 1293.9,574.4 M1293.9,574.4 1295.1,576.6 1296.2,578.9 1297.2,581.1 1298.3,583.4 M1298.3,583.4 1299.4,585.6 1300.5,587.9 1301.6,590.1 1302.6,592.4 M1302.6,592.4 1303.7,594.6 1304.7,596.9 1305.8,599.2 1306.8,601.4 M1306.8,601.4 1307.9,603.7 1308.9,606.0 1309.9,608.2 1311.0,610.5 M1366.4,738.8 1367.4,741.1 1368.4,743.3 1369.5,745.6 1370.5,747.9 M1370.5,747.9 1371.5,750.1 1372.6,752.4 1373.6,754.7 1374.6,757.0 M1374.6,757.0 1375.7,759.2 1376.7,761.5 1377.8,763.7 1378.8,766.0 M1378.8,766.0 1379.9,768.3 1380.9,770.5 1382.0,772.8 1383.1,775.0 M1383.1,775.0 1384.1,777.3 1385.2,779.6 1386.3,781.8 1387.4,784.1 M1387.4,784.1 1388.4,786.3 1389.5,788.6 1390.6,790.8 1391.7,793.0 M1391.7,793.0 1392.8,795.3 1393.9,797.5 1395.0,799.8 1396.1,802.0 M1396.1,802.0 1397.2,804.2 1398.3,806.5 1399.4,808.7 1400.6,810.9 M1400.6,810.9 1401.7,813.2 1402.8,815.4 1403.9,817.6 1405.1,819.8 M1405.1,819.8 1406.2,822.0 1407.4,824.3 1408.5,826.5 1409.7,828.7 M1409.7,828.7 1410.8,830.9 1412.0,833.1 1413.1,835.3 1414.3,837.5 M1414.3,837.5 1415.5,839.7 1416.7,841.9 1417.8,844.1 1419.0,846.3 M1419.0,846.3 1420.2,848.5 1421.4,850.7 1422.6,852.9 1423.8,855.1 M1423.8,855.1 1425.0,857.3 1426.2,859.4 1427.5,861.6 1428.7,863.8 M1428.7,863.8 1429.9,866.0 1431.1,868.1 1432.4,870.3 1433.6,872.5 M1433.6,872.5 1434.9,874.6 1436.1,876.8 1437.4,878.9 1438.6,881.1 M1438.6,881.1 1439.9,883.3 1441.2,885.4 1442.4,887.5 1443.7,889.7 M1443.7,889.7 1445.0,891.8 1446.3,894.0 1447.6,896.1 1448.9,898.2 M1448.9,898.2 1450.2,900.4 1451.5,902.5 1452.8,904.6 1454.2,906.7 M1454.2,906.7 1455.5,908.8 1456.8,910.9 1458.2,913.0 1459.6,915.1 M1459.6,915.1 1460.9,917.2 1462.3,919.3 1463.7,921.3 1465.1,923.4 M1465.1,923.4 1466.5,925.5 1467.9,927.5 1469.3,929.6 1470.8,931.6 M1547.9,1008.9 1550.0,1010.3 1552.0,1011.7 1554.1,1013.1 1556.2,1014.5 M1556.2,1014.5 1558.3,1015.8 1560.4,1017.1 1562.5,1018.4 1564.7,1019.7 M1564.7,1019.7 1566.8,1021.0 1569.0,1022.3 1571.1,1023.5 1573.3,1024.8 M1573.3,1024.8 1575.5,1026.0 1577.7,1027.2 1579.8,1028.4 1582.0,1029.6 M1582.0,1029.6 1584.2,1030.7 1586.5,1031.9 1588.7,1033.0 1590.9,1034.1 M1590.9,1034.1 1593.1,1035.3 1595.4,1036.4 1597.6,1037.4 1599.9,1038.5 M1599.9,1038.5 1602.1,1039.6 1604.4,1040.6 1606.7,1041.6 1609.0,1042.7" stroke="#00ff00" stroke-width="5.70"/>
<path d="M1119.0,373.6 1121.0,375.1 1123.1,376.5 1125.1,378.0 1127.1,379.4 M1127.1,379.4 1129.2,380.9 1131.2,382.3 1133.2,383.8 1135.2,385.3 M1135.2,385.3 1137.2,386.8 1139.2,388.3 1141.2,389.8 1143.2,391.3 M1143.2,391.3 1145.2,392.8 1147.1,394.4 1149.1,395.9 1151.1,397.4 M1151.1,397.4 1153.0,399.0 1155.0,400.6 1156.9,402.1 1158.8,403.7 M1158.8,403.7 1160.8,405.3 1162.7,406.9 1164.6,408.5 1166.5,410.1 M1166.5,410.1 1168.4,411.7 1170.3,413.3 1172.2,414.9 1174.1,416.6 M1174.1,416.6 1176.0,418.2 1177.8,419.9 1179.7,421.5 1181.5,423.2 M1181.5,423.2 1183.4,424.9 1185.2,426.6 1187.0,428.3 1188.9,430.0 M1188.9,430.0 1190.7,431.7 1192.5,433.4 1194.3,435.2 1196.1,436.9 M1196.1,436.9 1197.8,438.6 1199.6,440.4 1201.4,442.2 1203.1,443.9 M1203.1,443.9 1204.9,445.7 1206.6,447.5 1208.3,449.3 1210.1,451.1 M1210.1,451.1 1211.8,452.9 1213.5,454.8 1215.2,456.6 1216.8,458.4 M1216.8,458.4 1218.5,460.3 1220.2,462.2 1221.8,464.0 1223.5,465.9 M1223.5,465.9 1225.1,467.8 1226.7,469.7 1228.3,471.6 1229.9,473.5 M1229.9,473.5 1231.5,475.4 1233.1,477.4 1234.7,479.3 1236.2,481.3 M1236.2,481.3 1237.8,483.2 1239.3,485.2 1240.8,487.2 1242.3,489.1 M1242.3,489.1 1243.8,491.1 1245.3,493.1 1246.8,495.2 1248.3,497.2 M1248.3,497.2 1249.7,499.2 1251.2,501.2 1252.6,503.3 1254.0,505.3 M1470.8,931.6 1472.2,933.6 1473.7,935.6 1475.2,937.6 1476.7,939.7 M1476.7,939.7 1478.2,941.6 1479.7,943.6 1481.2,945.6 1482.8,947.6 M1482.8,947.6 1484.3,949.5 1485.9,951.5 1487.5,953.4 1489.1,955.3 M1489.1,955.3 1490.7,957.2 1492.3,959.1 1494.0,961.0 1495.6,962.8 M1495.6,962.8 1497.3,964.7 1499.0,966.5 1500.7,968.3 1502.4,970.1 M1502.4,970.1 1504.1,971.9 1505.9,973.7 1507.6,975.5 1509.4,977.2 M1509.4,977.2 1511.2,979.0 1513.0,980.7 1514.8,982.4 1516.7,984.1 M1516.7,984.1 1518.5,985.8 1520.4,987.4 1522.3,989.1 1524.2,990.7 M1524.2,990.7 1526.1,992.3 1528.0,993.9 1529.9,995.5 1531.9,997.0 M1531.9,997.0 1533.8,998.6 1535.8,1000.1 1537.8,1001.6 1539.8,1003.1 M1539.8,1003.1 1541.8,1004.6 1543.8,1006.1 1545.9,1007.5 1547.9,1008.9" stroke="#00ff00" stroke-width="6.00"/>
<path d="M390.5,1355.2 393.0,1355.3 395.5,1355.4 398.0,1355.4 400.5,1355.5 M400.5,1355.5 403.0,1355.5 405.5,1355.5 408.0,1355.5 410.5,1355.5 M410.5,1355.5 413.0,1355.5 415.5,1355.5 418.0,1355.5 420.5,1355.5 M420.5,1355.5 423.0,1355.4 425.5,1355.4 428.0,1355.3 430.4,1355.3 M430.4,1355.3 432.9,1355.2 435.4,1355.1 437.9,1355.1 440.4,1355.0 M440.4,1355.0 442.9,1355.0 445.4,1354.9 447.9,1354.8 450.4,1354.7 M450.4,1354.7 452.9,1354.7 455.4,1354.6 457.9,1354.6 460.4,1354.5 M460.4,1354.5 462.9,1354.4 465.4,1354.4 467.8,1354.3 470.3,1354.3 M470.3,1354.3 472.8,1354.2 475.3,1354.2 477.8,1354.2 480.3,1354.2 M480.3,1354.2 482.8,1354.1 485.3,1354.1 487.8,1354.1 490.3,1354.1 M490.3,1354.1 492.8,1354.1 495.3,1354.1 497.8,1354.1 500.3,1354.1 M500.3,1354.1 502.8,1354.1 505.3,1354.1 507.8,1354.2 510.2,1354.2 M510.2,1354.2 512.7,1354.2 515.2,1354.2 517.7,1354.2 520.2,1354.3 M520.2,1354.3 522.7,1354.3 525.2,1354.3 527.7,1354.4 530.2,1354.4 M530.2,1354.4 532.7,1354.4 535.2,1354.4 537.7,1354.5 540.2,1354.5 M540.2,1354.5 542.7,1354.5 545.2,1354.5 547.7,1354.6 550.2,1354.6 M550.2,1354.6 552.6,1354.6 555.1,1354.6 557.6,1354.6 560.1,1354.6 M560.1,1354.6 562.6,1354.6 565.1,1354.6 567.6,1354.6 570.1,1354.6 M570.1,1354.6 572.6,1354.6 575.1,1354.6 577.6,1354.6 580.1,1354.6 M580.1,1354.6 582.6,1354.5 585.1,1354.5 587.6,1354.5 590.1,1354.4 M590.1,1354.4 592.6,1354.4 595.0,1354.3 597.5,1354.2 600.0,1354.2 M1990.5,1343.1 1993.0,1343.2 1995.5,1343.2 1998.0,1343.3" stroke="#00ff00" stroke-width="4.20"/>
<path d="M272.0,1339.3 274.5,1339.5 277.0,1339.8 279.4,1340.0 281.9,1340.3 M360.7,1353.1 363.2,1353.4 365.7,1353.6 368.1,1353.9 370.6,1354.1 M370.6,1354.1 373.1,1354.3 375.6,1354.5 378.1,1354.6 380.6,1354.8 M380.6,1354.8 383.1,1354.9 385.6,1355.0 388.0,1355.2 390.5,1355.2 M600.0,1354.2 602.5,1354.1 605.0,1354.0 607.5,1353.9 610.0,1353.8 M610.0,1353.8 612.5,1353.7 615.0,1353.6 617.5,1353.4 620.0,1353.3 M620.0,1353.3 622.5,1353.1 624.9,1353.0 627.4,1352.8 629.9,1352.6 M629.9,1352.6 632.4,1352.5 634.9,1352.3 637.4,1352.0 639.9,1351.8 M639.9,1351.8 642.3,1351.6 644.8,1351.3 647.3,1351.1 649.8,1350.8 M892.7,1296.6 895.2,1296.3 897.7,1296.0 900.2,1295.7 902.6,1295.4 M902.6,1295.4 905.1,1295.2 907.6,1294.9 910.1,1294.6 912.6,1294.4 M912.6,1294.4 915.0,1294.1 917.5,1293.9 920.0,1293.6 922.5,1293.3 M922.5,1293.3 925.0,1293.1 927.5,1292.8 929.9,1292.6 932.4,1292.3 M932.4,1292.3 934.9,1292.1 937.4,1291.8 939.9,1291.5 942.3,1291.3 M942.3,1291.3 944.8,1291.0 947.3,1290.7 949.8,1290.5 952.3,1290.2 M1331.7,1019.3 1334.1,1018.8 1336.6,1018.5 1339.1,1018.4 1341.5,1018.6 M1772.0,1322.3 1774.5,1322.6 1777.0,1322.9 1779.5,1323.2 1782.0,1323.4 M1782.0,1323.4 1784.4,1323.7 1786.9,1324.0 1789.4,1324.2 1791.9,1324.5 M1791.9,1324.5 1794.4,1324.8 1796.8,1325.0 1799.3,1325.3 1801.8,1325.5 M1801.8,1325.5 1804.3,1325.8 1806.8,1326.0 1809.3,1326.2 1811.7,1326.5 M1811.7,1326.5 1814.2,1326.7 1816.7,1326.9 1819.2,1327.2 1821.7,1327.4 M1821.7,1327.4 1824.2,1327.6 1826.6,1327.9 1829.1,1328.1 1831.6,1328.3 M1831.6,1328.3 1834.1,1328.5 1836.6,1328.8 1839.1,1329.0 1841.5,1329.2 M1841.5,1329.2 1844.0,1329.4 1846.5,1329.6 1849.0,1329.9 1851.5,1330.1 M1851.5,1330.1 1854.0,1330.3 1856.4,1330.5 1858.9,1330.8 1861.4,1331.0 M1861.4,1331.0 1863.9,1331.2 1866.4,1331.5 1868.9,1331.7 1871.3,1331.9 M1871.3,1331.9 1873.8,1332.2 1876.3,1332.4 1878.8,1332.6 1881.3,1332.9 M1881.3,1332.9 1883.8,1333.1 1886.2,1333.4 1888.7,1333.6 1891.2,1333.9 M1891.2,1333.9 1893.7,1334.1 1896.2,1334.4 1898.6,1334.7 1901.1,1334.9 M1901.1,1334.9 1903.6,1335.2 1906.1,1335.5 1908.6,1335.8 1911.0,1336.1 M1911.0,1336.1 1913.5,1336.3 1916.0,1336.6 1918.5,1336.9 1921.0,1337.2 M1921.0,1337.2 1923.4,1337.5 1925.9,1337.8 1928.4,1338.0 1930.9,1338.3 M1930.9,1338.3 1933.3,1338.6 1935.8,1338.9 1938.3,1339.1 1940.8,1339.4 M1940.8,1339.4 1943.3,1339.7 1945.7,1339.9 1948.2,1340.2 1950.7,1340.4 M1950.7,1340.4 1953.2,1340.7 1955.7,1340.9 1958.2,1341.1 1960.6,1341.3 M1960.6,1341.3 1963.1,1341.5 1965.6,1341.7 1968.1,1341.9 1970.6,1342.1 M1970.6,1342.1 1973.1,1342.3 1975.6,1342.4 1978.1,1342.6 1980.6,1342.7 M1980.6,1342.7 1983.0,1342.8 1985.5,1342.9 1988.0,1343.0 1990.5,1343.1" stroke="#00ff00" stroke-width="4.50"/>
<path d="M281.9,1340.3 284.4,1340.6 286.9,1340.9 289.3,1341.3 291.8,1341.6 M291.8,1341.6 294.3,1342.0 296.7,1342.4 299.2,1342.8 301.7,1343.2 M301.7,1343.2 304.1,1343.6 306.6,1344.0 309.0,1344.5 311.5,1344.9 M311.5,1344.9 313.9,1345.4 316.4,1345.8 318.9,1346.3 321.3,1346.7 M321.3,1346.7 323.8,1347.2 326.2,1347.6 328.7,1348.1 331.1,1348.5 M331.1,1348.5 333.6,1349.0 336.0,1349.4 338.5,1349.8 340.9,1350.2 M340.9,1350.2 343.4,1350.6 345.9,1351.0 348.3,1351.4 350.8,1351.8 M350.8,1351.8 353.3,1352.1 355.7,1352.5 358.2,1352.8 360.7,1353.1 M649.8,1350.8 652.3,1350.5 654.7,1350.2 657.2,1349.9 659.7,1349.6 M659.7,1349.6 662.2,1349.3 664.6,1348.9 667.1,1348.6 669.6,1348.2 M669.6,1348.2 672.0,1347.8 674.5,1347.4 677.0,1347.0 679.4,1346.6 M679.4,1346.6 681.9,1346.2 684.3,1345.7 686.8,1345.3 689.2,1344.8 M689.2,1344.8 691.7,1344.4 694.1,1343.9 696.6,1343.4 699.0,1342.9 M833.6,1305.7 836.0,1305.2 838.5,1304.7 840.9,1304.2 843.4,1303.8 M843.4,1303.8 845.8,1303.3 848.3,1302.9 850.7,1302.4 853.2,1302.0 M853.2,1302.0 855.7,1301.6 858.1,1301.2 860.6,1300.8 863.1,1300.5 M863.1,1300.5 865.5,1300.1 868.0,1299.7 870.5,1299.4 872.9,1299.0 M872.9,1299.0 875.4,1298.7 877.9,1298.4 880.4,1298.1 882.8,1297.7 M882.8,1297.7 885.3,1297.4 887.8,1297.1 890.3,1296.8 892.7,1296.6 M952.3,1290.2 954.7,1289.9 957.2,1289.6 959.7,1289.3 962.2,1289.0 M962.2,1289.0 964.6,1288.7 967.1,1288.4 969.6,1288.1 972.1,1287.8 M972.1,1287.8 974.5,1287.4 977.0,1287.1 979.5,1286.8 981.9,1286.4 M981.9,1286.4 984.4,1286.1 986.9,1285.7 989.4,1285.3 991.8,1285.0 M991.8,1285.0 994.3,1284.6 996.8,1284.2 999.2,1283.8 1001.7,1283.4 M1001.7,1283.4 1004.1,1283.0 1006.6,1282.6 1009.1,1282.2 1011.5,1281.8 M1011.5,1281.8 1014.0,1281.4 1016.4,1281.0 1018.9,1280.5 1021.3,1280.1 M1021.3,1280.1 1023.8,1279.6 1026.3,1279.2 1028.7,1278.7 1031.2,1278.2 M1031.2,1278.2 1033.6,1277.8 1036.0,1277.3 1038.5,1276.8 1040.9,1276.3 M1703.1,1311.6 1705.5,1312.0 1708.0,1312.5 1710.4,1313.0 1712.9,1313.5 M1712.9,1313.5 1715.3,1313.9 1717.8,1314.4 1720.2,1314.8 1722.7,1315.2 M1722.7,1315.2 1725.1,1315.7 1727.6,1316.1 1730.1,1316.5 1732.5,1316.9 M1732.5,1316.9 1735.0,1317.3 1737.4,1317.6 1739.9,1318.0 1742.4,1318.4 M1742.4,1318.4 1744.8,1318.8 1747.3,1319.1 1749.8,1319.5 1752.3,1319.8 M1752.3,1319.8 1754.7,1320.1 1757.2,1320.5 1759.7,1320.8 1762.1,1321.1 M1762.1,1321.1 1764.6,1321.4 1767.1,1321.7 1769.6,1322.0 1772.0,1322.3" stroke="#00ff00" stroke-width="4.80"/>
<path d="M699.0,1342.9 701.5,1342.4 703.9,1341.8 706.3,1341.3 708.8,1340.7 M708.8,1340.7 711.2,1340.2 713.6,1339.6 716.1,1339.0 718.5,1338.4 M718.5,1338.4 720.9,1337.8 723.3,1337.2 725.7,1336.6 728.1,1336.0 M728.1,1336.0 730.6,1335.3 733.0,1334.7 735.4,1334.0 737.8,1333.4 M737.8,1333.4 740.2,1332.7 742.6,1332.0 745.0,1331.3 747.4,1330.6 M747.4,1330.6 749.8,1329.9 752.1,1329.2 754.5,1328.4 756.9,1327.7 M785.5,1318.7 787.8,1318.0 790.2,1317.2 792.6,1316.5 795.0,1315.8 M795.0,1315.8 797.4,1315.1 799.8,1314.3 802.2,1313.6 804.6,1313.0 M804.6,1313.0 807.0,1312.3 809.4,1311.6 811.8,1311.0 814.2,1310.3 M814.2,1310.3 816.6,1309.7 819.0,1309.1 821.4,1308.5 823.9,1307.9 M823.9,1307.9 826.3,1307.3 828.7,1306.8 831.2,1306.2 833.6,1305.7 M1040.9,1276.3 1043.4,1275.8 1045.8,1275.3 1048.3,1274.8 1050.7,1274.3 M1050.7,1274.3 1053.1,1273.7 1055.6,1273.2 1058.0,1272.7 1060.4,1272.1 M1060.4,1272.1 1062.9,1271.6 1065.3,1271.0 1067.7,1270.4 1070.2,1269.8 M1070.2,1269.8 1072.6,1269.3 1075.0,1268.7 1077.4,1268.1 1079.9,1267.5 M1079.9,1267.5 1082.3,1266.9 1084.7,1266.3 1087.1,1265.6 1089.5,1265.0 M1089.5,1265.0 1091.9,1264.4 1094.3,1263.7 1096.7,1263.1 1099.2,1262.4 M1099.2,1262.4 1101.6,1261.7 1104.0,1261.1 1106.4,1260.4 1108.8,1259.7 M1108.8,1259.7 1111.2,1259.0 1113.5,1258.3 1115.9,1257.6 1118.3,1256.9 M1341.5,1018.6 1344.0,1018.9 1346.4,1019.5 1348.8,1020.2 1351.2,1021.0 M1605.9,1288.8 1608.3,1289.5 1610.7,1290.2 1613.1,1290.8 1615.6,1291.5 M1615.6,1291.5 1618.0,1292.1 1620.4,1292.7 1622.8,1293.3 1625.2,1293.9 M1625.2,1293.9 1627.7,1294.5 1630.1,1295.0 1632.5,1295.6 1634.9,1296.2 M1634.9,1296.2 1637.4,1296.7 1639.8,1297.3 1642.2,1297.9 1644.7,1298.5 M1644.7,1298.5 1647.1,1299.0 1649.5,1299.6 1651.9,1300.2 1654.4,1300.8 M1654.4,1300.8 1656.8,1301.3 1659.2,1301.9 1661.6,1302.5 1664.1,1303.0 M1664.1,1303.0 1666.5,1303.6 1668.9,1304.1 1671.4,1304.7 1673.8,1305.3 M1673.8,1305.3 1676.2,1305.8 1678.7,1306.4 1681.1,1306.9 1683.5,1307.4 M1683.5,1307.4 1686.0,1308.0 1688.4,1308.5 1690.8,1309.0 1693.3,1309.5 M1693.3,1309.5 1695.7,1310.1 1698.2,1310.6 1700.6,1311.1 1703.1,1311.6" stroke="#00ff00" stroke-width="5.10"/>
<path d="M756.9,1327.7 759.3,1327.0 761.7,1326.2 764.1,1325.5 766.4,1324.7 M766.4,1324.7 768.8,1324.0 771.2,1323.2 773.6,1322.5 775.9,1321.7 M775.9,1321.7 778.3,1321.0 780.7,1320.2 783.1,1319.4 785.5,1318.7 M1118.3,1256.9 1120.7,1256.1 1123.1,1255.4 1125.5,1254.6 1127.8,1253.8 M1127.8,1253.8 1130.2,1253.0 1132.5,1252.2 1134.9,1251.3 1137.2,1250.4 M1137.2,1250.4 1139.5,1249.5 1141.8,1248.6 1144.1,1247.6 1146.4,1246.6 M1322.6,1023.3 1324.7,1022.1 1327.0,1021.0 1329.3,1020.0 1331.7,1019.3 M1577.9,1278.4 1580.2,1279.5 1582.4,1280.5 1584.7,1281.5 1587.0,1282.4 M1587.0,1282.4 1589.4,1283.3 1591.7,1284.2 1594.0,1285.0 1596.4,1285.9 M1596.4,1285.9 1598.8,1286.6 1601.2,1287.4 1603.5,1288.1 1605.9,1288.8" stroke="#00ff00" stroke-width="5.40"/>
<path d="M1146.4,1246.6 1148.7,1245.6 1151.0,1244.5 1153.2,1243.5 1155.4,1242.3 M1155.4,1242.3 1157.6,1241.2 1159.8,1239.9 1162.0,1238.7 1164.1,1237.4 M1164.1,1237.4 1166.2,1236.1 1168.3,1234.8 1170.4,1233.4 1172.5,1232.0 M1227.8,1175.0 1229.2,1172.9 1230.7,1170.9 1232.1,1168.8 1233.5,1166.8 M1233.5,1166.8 1234.9,1164.7 1236.3,1162.7 1237.7,1160.6 1239.0,1158.5 M1239.0,1158.5 1240.4,1156.4 1241.7,1154.3 1243.1,1152.2 1244.4,1150.1 M1244.4,1150.1 1245.7,1148.0 1247.0,1145.8 1248.3,1143.7 1249.6,1141.6 M1249.6,1141.6 1250.9,1139.4 1252.2,1137.3 1253.5,1135.1 1254.7,1133.0 M1254.7,1133.0 1256.0,1130.8 1257.2,1128.7 1258.5,1126.5 1259.7,1124.3 M1259.7,1124.3 1260.9,1122.2 1262.1,1120.0 1263.4,1117.8 1264.6,1115.6 M1264.6,1115.6 1265.8,1113.5 1267.0,1111.3 1268.2,1109.1 1269.4,1106.9 M1269.4,1106.9 1270.6,1104.7 1271.8,1102.5 1273.0,1100.3 1274.2,1098.1 M1274.2,1098.1 1275.4,1096.0 1276.5,1093.8 1277.7,1091.6 1278.9,1089.4 M1278.9,1089.4 1280.1,1087.2 1281.3,1085.0 1282.5,1082.8 1283.7,1080.6 M1283.7,1080.6 1284.8,1078.4 1286.0,1076.2 1287.2,1074.0 1288.4,1071.8 M1288.4,1071.8 1289.6,1069.6 1290.8,1067.5 1292.0,1065.3 1293.2,1063.1 M1293.2,1063.1 1294.4,1060.9 1295.7,1058.7 1296.9,1056.5 1298.1,1054.4 M1298.1,1054.4 1299.3,1052.2 1300.6,1050.0 1301.8,1047.9 1303.1,1045.8 M1303.1,1045.8 1304.4,1043.6 1305.8,1041.5 1307.2,1039.5 1308.6,1037.4 M1351.2,1021.0 1353.5,1022.0 1355.7,1023.0 1358.0,1024.2 1360.1,1025.4 M1360.1,1025.4 1362.3,1026.7 1364.4,1028.0 1366.5,1029.4 1368.5,1030.8 M1445.9,1108.1 1447.4,1110.1 1448.8,1112.1 1450.2,1114.2 1451.6,1116.3 M1451.6,1116.3 1453.0,1118.3 1454.3,1120.4 1455.6,1122.5 1456.9,1124.7 M1456.9,1124.7 1458.2,1126.8 1459.5,1129.0 1460.7,1131.2 1461.9,1133.3 M1461.9,1133.3 1463.0,1135.6 1464.2,1137.8 1465.3,1140.0 1466.4,1142.3 M1466.4,1142.3 1467.4,1144.5 1468.5,1146.8 1469.5,1149.0 1470.6,1151.3 M1470.6,1151.3 1471.6,1153.6 1472.6,1155.8 1473.7,1158.1 1474.7,1160.4 M1474.7,1160.4 1475.8,1162.6 1476.9,1164.9 1478.0,1167.1 1479.1,1169.3 M1479.1,1169.3 1480.3,1171.5 1481.4,1173.8 1482.6,1176.0 1483.8,1178.2 M1483.8,1178.2 1485.0,1180.3 1486.2,1182.5 1487.4,1184.7 1488.6,1186.9 M1488.6,1186.9 1489.9,1189.0 1491.2,1191.2 1492.5,1193.3 1493.8,1195.4 M1493.8,1195.4 1495.1,1197.5 1496.4,1199.6 1497.8,1201.7 1499.2,1203.8 M1499.2,1203.8 1500.5,1205.9 1502.0,1207.9 1503.4,1210.0 1504.8,1212.0 M1560.6,1268.5 1562.7,1269.9 1564.8,1271.2 1566.9,1272.5 1569.1,1273.8 M1569.1,1273.8 1571.3,1275.0 1573.5,1276.2 1575.7,1277.3 1577.9,1278.4" stroke="#00ff00" stroke-width="5.70"/>
<path d="M1172.5,1232.0 1174.5,1230.5 1176.5,1229.1 1178.5,1227.6 1180.5,1226.0 M1180.5,1226.0 1182.4,1224.5 1184.4,1222.9 1186.3,1221.3 1188.2,1219.7 M1188.2,1219.7 1190.0,1218.0 1191.9,1216.3 1193.7,1214.6 1195.5,1212.9 M1195.5,1212.9 1197.3,1211.2 1199.0,1209.4 1200.8,1207.6 1202.5,1205.8 M1202.5,1205.8 1204.2,1204.0 1205.9,1202.2 1207.6,1200.3 1209.2,1198.4 M1209.2,1198.4 1210.9,1196.5 1212.5,1194.7 1214.1,1192.7 1215.7,1190.8 M1215.7,1190.8 1217.2,1188.9 1218.8,1186.9 1220.3,1185.0 1221.8,1183.0 M1221.8,1183.0 1223.3,1181.0 1224.8,1179.0 1226.3,1177.0 1227.8,1175.0 M1308.6,1037.4 1310.1,1035.4 1311.6,1033.5 1313.2,1031.6 1314.9,1029.7 M1314.9,1029.7 1316.7,1028.0 1318.6,1026.3 1320.5,1024.8 1322.6,1023.3 M1368.5,1030.8 1370.5,1032.3 1372.5,1033.8 1374.5,1035.3 1376.5,1036.8 M1376.5,1036.8 1378.4,1038.4 1380.4,1039.9 1382.3,1041.5 1384.2,1043.1 M1384.2,1043.1 1386.1,1044.7 1388.0,1046.3 1389.9,1047.9 1391.8,1049.6 M1391.8,1049.6 1393.7,1051.2 1395.5,1052.9 1397.4,1054.6 1399.2,1056.3 M1399.2,1056.3 1401.1,1057.9 1402.9,1059.7 1404.7,1061.4 1406.5,1063.1 M1406.5,1063.1 1408.3,1064.8 1410.1,1066.6 1411.8,1068.3 1413.6,1070.1 M1413.6,1070.1 1415.3,1071.9 1417.1,1073.7 1418.8,1075.5 1420.5,1077.3 M1420.5,1077.3 1422.2,1079.1 1423.9,1081.0 1425.6,1082.8 1427.2,1084.7 M1427.2,1084.7 1428.8,1086.6 1430.5,1088.5 1432.1,1090.4 1433.7,1092.3 M1433.7,1092.3 1435.3,1094.2 1436.8,1096.1 1438.4,1098.1 1439.9,1100.1 M1439.9,1100.1 1441.4,1102.0 1442.9,1104.0 1444.4,1106.0 1445.9,1108.1 M1504.8,1212.0 1506.3,1214.1 1507.7,1216.1 1509.2,1218.1 1510.7,1220.1 M1510.7,1220.1 1512.3,1222.0 1513.8,1224.0 1515.4,1225.9 1516.9,1227.9 M1516.9,1227.9 1518.5,1229.8 1520.1,1231.7 1521.8,1233.6 1523.4,1235.5 M1523.4,1235.5 1525.1,1237.3 1526.8,1239.2 1528.5,1241.0 1530.2,1242.8 M1530.2,1242.8 1531.9,1244.6 1533.7,1246.3 1535.5,1248.1 1537.3,1249.8 M1537.3,1249.8 1539.1,1251.5 1540.9,1253.2 1542.8,1254.8 1544.7,1256.5 M1544.7,1256.5 1546.6,1258.1 1548.5,1259.6 1550.5,1261.2 1552.5,1262.7 M1552.5,1262.7 1554.5,1264.2 1556.5,1265.7 1558.5,1267.1 1560.6,1268.5" stroke="#00ff00" stroke-width="6.00"/>
<path d="M381.5,184.7 384.0,184.8 386.5,184.8 389.0,184.9 391.5,185.0 M391.5,185.0 394.0,185.1 396.5,185.1 399.0,185.2 401.5,185.2 M401.5,185.2 404.0,185.3 406.4,185.4 408.9,185.4 411.4,185.5 M411.4,185.5 413.9,185.5 416.4,185.6 418.9,185.6 421.4,185.6 M421.4,185.6 423.9,185.7 426.4,185.7 428.9,185.8 431.4,185.8 M431.4,185.8 433.9,185.8 436.4,185.9 438.9,185.9 441.4,185.9 M441.4,185.9 443.9,185.9 446.4,186.0 448.9,186.0 451.4,186.0 M451.4,186.0 453.9,186.0 456.4,186.1 458.9,186.1 461.4,186.1 M461.4,186.1 463.9,186.1 466.4,186.1 468.9,186.2 471.4,186.2 M471.4,186.2 473.9,186.2 476.3,186.2 478.8,186.2 481.3,186.2 M481.3,186.2 483.8,186.3 486.3,186.3 488.8,186.3 491.3,186.3 M491.3,186.3 493.8,186.3 496.3,186.4 498.8,186.4 501.3,186.4 M501.3,186.4 503.8,186.4 506.3,186.4 508.8,186.5 511.3,186.5 M511.3,186.5 513.8,186.5 516.3,186.5 518.8,186.6 521.3,186.6 M521.3,186.6 523.8,186.6 526.3,186.7 528.8,186.7 531.3,186.7 M531.3,186.7 533.8,186.8 536.3,186.8 538.8,186.9 541.3,186.9 M541.3,186.9 543.8,187.0 546.2,187.0 548.7,187.1 551.2,187.1 M551.2,187.1 553.7,187.2 556.2,187.2 558.7,187.3 561.2,187.4 M561.2,187.4 563.7,187.4 566.2,187.5 568.7,187.6 571.2,187.7 M571.2,187.7 573.7,187.7 576.2,187.8 578.7,187.9 581.2,188.0" stroke="#000080" stroke-width="4.20"/>
<path d="M291.8,178.6 294.3,178.9 296.8,179.1 299.3,179.4 301.8,179.6 M301.8,179.6 304.3,179.9 306.7,180.1 309.2,180.4 311.7,180.6 M311.7,180.6 314.2,180.8 316.7,181.0 319.2,181.2 321.7,181.4 M321.7,181.4 324.2,181.6 326.6,181.8 329.1,182.0 331.6,182.1 M331.6,182.1 334.1,182.3 336.6,182.5 339.1,182.6 341.6,182.8 M341.6,182.8 344.1,183.0 346.6,183.1 349.1,183.2 351.6,183.4 M351.6,183.4 354.1,183.5 356.5,183.6 359.0,183.8 361.5,183.9 M361.5,183.9 364.0,184.0 366.5,184.1 369.0,184.2 371.5,184.3 M371.5,184.3 374.0,184.4 376.5,184.5 379.0,184.6 381.5,184.7 M581.2,188.0 583.7,188.1 586.2,188.2 588.7,188.3 591.2,188.4 M591.2,188.4 593.7,188.5 596.2,188.6 598.6,188.7 601.1,188.9 M601.1,188.9 603.6,189.0 606.1,189.1 608.6,189.3 611.1,189.4 M611.1,189.4 613.6,189.6 616.1,189.7 618.6,189.9 621.1,190.0 M621.1,190.0 623.6,190.2 626.1,190.4 628.6,190.5 631.0,190.7 M631.0,190.7 633.5,190.9 636.0,191.1 638.5,191.3 641.0,191.5 M641.0,191.5 643.5,191.7 646.0,192.0 648.5,192.2 650.9,192.4 M650.9,192.4 653.4,192.6 655.9,192.9 658.4,193.1 660.9,193.4 M660.9,193.4 663.4,193.7 665.8,193.9 668.3,194.2 670.8,194.5" stroke="#000080" stroke-width="4.50"/>
<path d="M272.0,176.2 274.5,176.5 277.0,176.8 279.4,177.2 281.9,177.5 M281.9,177.5 284.4,177.8 286.9,178.1 289.4,178.3 291.8,178.6 M670.8,194.5 673.3,194.8 675.8,195.1 678.2,195.4 680.7,195.7 M680.7,195.7 683.2,196.0 685.7,196.4 688.1,196.7 690.6,197.0 M690.6,197.0 693.1,197.4 695.6,197.7 698.0,198.1 700.5,198.5 M700.5,198.5 703.0,198.9 705.4,199.3 707.9,199.7 710.4,200.1 M710.4,200.1 712.8,200.5 715.3,200.9 717.7,201.4 720.2,201.8 M720.2,201.8 722.7,202.3 725.1,202.7 727.6,203.2 730.0,203.7 M1790.8,1101.1 1793.3,1101.6 1795.7,1102.1 1798.1,1102.6 1800.6,1103.0 M1800.6,1103.0 1803.1,1103.5 1805.5,1104.0 1808.0,1104.4 1810.4,1104.9 M1810.4,1104.9 1812.9,1105.4 1815.3,1105.8 1817.8,1106.3 1820.2,1106.7 M1820.2,1106.7 1822.7,1107.2 1825.1,1107.6 1827.6,1108.0 1830.1,1108.5 M1830.1,1108.5 1832.5,1108.9 1835.0,1109.3 1837.4,1109.7 1839.9,1110.2 M1839.9,1110.2 1842.4,1110.6 1844.8,1111.0 1847.3,1111.4 1849.8,1111.8 M1849.8,1111.8 1852.2,1112.2 1854.7,1112.6 1857.2,1113.0 1859.6,1113.4 M1859.6,1113.4 1862.1,1113.8 1864.5,1114.2 1867.0,1114.6 1869.5,1114.9 M1869.5,1114.9 1871.9,1115.3 1874.4,1115.7 1876.9,1116.1 1879.4,1116.5 M1879.4,1116.5 1881.8,1116.8 1884.3,1117.2 1886.8,1117.6 1889.2,1117.9 M1889.2,1117.9 1891.7,1118.3 1894.2,1118.7 1896.6,1119.0 1899.1,1119.4 M1899.1,1119.4 1901.6,1119.8 1904.1,1120.1 1906.5,1120.5 1909.0,1120.8 M1909.0,1120.8 1911.5,1121.2 1913.9,1121.5 1916.4,1121.9 1918.9,1122.2 M1918.9,1122.2 1921.4,1122.6 1923.8,1122.9 1926.3,1123.3 1928.8,1123.6 M1928.8,1123.6 1931.2,1124.0 1933.7,1124.3 1936.2,1124.7 1938.7,1125.0 M1938.7,1125.0 1941.1,1125.4 1943.6,1125.7 1946.1,1126.0 1948.5,1126.4 M1948.5,1126.4 1951.0,1126.7 1953.5,1127.1 1956.0,1127.4 1958.4,1127.8 M1958.4,1127.8 1960.9,1128.1 1963.4,1128.5 1965.9,1128.8 1968.3,1129.1 M1968.3,1129.1 1970.8,1129.5 1973.3,1129.8 1975.8,1130.2 1978.2,1130.5 M1978.2,1130.5 1980.7,1130.9 1983.2,1131.2 1985.6,1131.6 1988.1,1131.9 M1988.1,1131.9 1990.6,1132.3 1993.1,1132.6 1995.5,1133.0 1998.0,1133.3" stroke="#000080" stroke-width="4.80"/>
<path d="M730.0,203.7 732.5,204.2 734.9,204.7 737.3,205.2 739.8,205.7 M739.8,205.7 742.2,206.2 744.7,206.8 747.1,207.3 749.5,207.9 M749.5,207.9 752.0,208.4 754.4,209.0 756.8,209.6 759.2,210.2 M759.2,210.2 761.7,210.8 764.1,211.4 766.5,212.1 768.9,212.7 M768.9,212.7 771.3,213.4 773.7,214.0 776.1,214.7 778.5,215.4 M778.5,215.4 780.9,216.1 783.3,216.8 785.7,217.5 788.1,218.2 M1693.9,1077.1 1696.3,1077.8 1698.7,1078.6 1701.1,1079.3 1703.5,1080.0 M1703.5,1080.0 1705.9,1080.7 1708.3,1081.3 1710.7,1082.0 1713.1,1082.7 M1713.1,1082.7 1715.5,1083.4 1717.9,1084.0 1720.3,1084.7 1722.7,1085.3 M1722.7,1085.3 1725.1,1086.0 1727.5,1086.6 1730.0,1087.2 1732.4,1087.8 M1732.4,1087.8 1734.8,1088.5 1737.2,1089.1 1739.6,1089.7 1742.1,1090.3 M1742.1,1090.3 1744.5,1090.9 1746.9,1091.4 1749.3,1092.0 1751.8,1092.6 M1751.8,1092.6 1754.2,1093.2 1756.6,1093.7 1759.1,1094.3 1761.5,1094.8 M1761.5,1094.8 1763.9,1095.4 1766.4,1095.9 1768.8,1096.5 1771.3,1097.0 M1771.3,1097.0 1773.7,1097.5 1776.1,1098.1 1778.6,1098.6 1781.0,1099.1 M1781.0,1099.1 1783.5,1099.6 1785.9,1100.1 1788.4,1100.6 1790.8,1101.1" stroke="#000080" stroke-width="5.10"/>
<path d="M788.1,218.2 790.5,218.9 792.9,219.7 795.3,220.4 797.6,221.2 M797.6,221.2 800.0,222.0 802.4,222.8 804.7,223.6 807.1,224.4 M807.1,224.4 809.5,225.2 811.8,226.0 814.2,226.8 816.5,227.7 M816.5,227.7 818.9,228.5 821.2,229.4 823.6,230.3 825.9,231.1 M825.9,231.1 828.2,232.0 830.6,232.9 832.9,233.8 835.2,234.7 M835.2,234.7 837.5,235.6 839.9,236.6 842.2,237.5 844.5,238.4 M844.5,238.4 846.8,239.4 849.1,240.3 851.4,241.3 853.7,242.2 M853.7,242.2 856.0,243.2 858.3,244.2 860.6,245.2 862.9,246.1 M862.9,246.1 865.2,247.1 867.5,248.1 869.8,249.1 872.1,250.2 M1326.3,618.4 1327.3,620.7 1328.3,623.0 1329.3,625.3 1330.3,627.6 M1330.3,627.6 1331.3,629.9 1332.3,632.2 1333.3,634.5 1334.2,636.8 M1334.2,636.8 1335.2,639.1 1336.1,641.4 1337.1,643.7 1338.1,646.0 M1338.1,646.0 1339.0,648.3 1339.9,650.6 1340.9,652.9 1341.8,655.2 M1341.8,655.2 1342.7,657.6 1343.6,659.9 1344.6,662.2 1345.5,664.5 M1345.5,664.5 1346.4,666.9 1347.3,669.2 1348.2,671.5 1349.1,673.8 M1349.1,673.8 1350.0,676.2 1350.9,678.5 1351.8,680.8 1352.7,683.2 M1352.7,683.2 1353.6,685.5 1354.4,687.8 1355.3,690.2 1356.2,692.5 M1356.2,692.5 1357.1,694.8 1358.0,697.2 1358.8,699.5 1359.7,701.9 M1359.7,701.9 1360.6,704.2 1361.5,706.5 1362.3,708.9 1363.2,711.2 M1363.2,711.2 1364.1,713.6 1364.9,715.9 1365.8,718.2 1366.7,720.6 M1366.7,720.6 1367.5,722.9 1368.4,725.3 1369.3,727.6 1370.1,729.9 M1370.1,729.9 1371.0,732.3 1371.9,734.6 1372.8,737.0 1373.6,739.3 M1373.6,739.3 1374.5,741.6 1375.4,744.0 1376.3,746.3 1377.1,748.7 M1377.1,748.7 1378.0,751.0 1378.9,753.3 1379.8,755.7 1380.7,758.0 M1380.7,758.0 1381.5,760.3 1382.4,762.7 1383.3,765.0 1384.2,767.3 M1384.2,767.3 1385.1,769.7 1386.0,772.0 1386.9,774.3 1387.8,776.6 M1387.8,776.6 1388.7,779.0 1389.7,781.3 1390.6,783.6 1391.5,785.9 M1391.5,785.9 1392.4,788.2 1393.4,790.6 1394.3,792.9 1395.2,795.2 M1395.2,795.2 1396.2,797.5 1397.1,799.8 1398.1,802.1 1399.0,804.4 M1399.0,804.4 1400.0,806.7 1401.0,809.0 1401.9,811.3 1402.9,813.6 M1402.9,813.6 1403.9,815.9 1404.9,818.2 1405.9,820.5 1406.9,822.8 M1406.9,822.8 1407.9,825.1 1408.9,827.4 1409.9,829.6 1411.0,831.9 M1609.6,1046.2 1611.8,1047.2 1614.1,1048.2 1616.4,1049.2 1618.7,1050.2 M1618.7,1050.2 1621.0,1051.2 1623.3,1052.1 1625.6,1053.1 1627.9,1054.0 M1627.9,1054.0 1630.3,1055.0 1632.6,1055.9 1634.9,1056.8 1637.2,1057.7 M1637.2,1057.7 1639.6,1058.6 1641.9,1059.5 1644.2,1060.4 1646.6,1061.2 M1646.6,1061.2 1648.9,1062.1 1651.3,1063.0 1653.6,1063.8 1655.9,1064.7 M1655.9,1064.7 1658.3,1065.5 1660.7,1066.3 1663.0,1067.1 1665.4,1067.9 M1665.4,1067.9 1667.7,1068.8 1670.1,1069.6 1672.5,1070.3 1674.8,1071.1 M1674.8,1071.1 1677.2,1071.9 1679.6,1072.7 1682.0,1073.4 1684.4,1074.2 M1684.4,1074.2 1686.7,1074.9 1689.1,1075.7 1691.5,1076.4 1693.9,1077.1" stroke="#000080" stroke-width="5.40"/>
<path d="M872.1,250.2 874.3,251.2 876.6,252.2 878.9,253.2 881.2,254.3 M881.2,254.3 883.4,255.3 885.7,256.3 888.0,257.4 890.2,258.4 M890.2,258.4 892.5,259.5 894.8,260.6 897.0,261.6 899.3,262.7 M899.3,262.7 901.5,263.8 903.8,264.9 906.0,265.9 908.3,267.0 M908.3,267.0 910.5,268.1 912.8,269.2 915.0,270.3 917.2,271.4 M917.2,271.4 919.5,272.5 921.7,273.6 924.0,274.7 926.2,275.9 M926.2,275.9 928.4,277.0 930.7,278.1 932.9,279.2 935.1,280.3 M935.1,280.3 937.3,281.5 939.6,282.6 941.8,283.7 944.0,284.9 M944.0,284.9 946.2,286.0 948.5,287.2 950.7,288.3 952.9,289.4 M952.9,289.4 955.1,290.6 957.3,291.7 959.5,292.9 961.8,294.0 M961.8,294.0 964.0,295.2 966.2,296.4 968.4,297.5 970.6,298.7 M970.6,298.7 972.8,299.9 975.0,301.0 977.2,302.2 979.4,303.4 M979.4,303.4 981.6,304.5 983.8,305.7 986.0,306.9 988.2,308.1 M988.2,308.1 990.4,309.3 992.6,310.5 994.8,311.7 997.0,312.9 M997.0,312.9 999.2,314.0 1001.4,315.2 1003.6,316.5 1005.7,317.7 M1005.7,317.7 1007.9,318.9 1010.1,320.1 1012.3,321.3 1014.5,322.5 M1014.5,322.5 1016.7,323.7 1018.8,324.9 1021.0,326.2 1023.2,327.4 M1023.2,327.4 1025.4,328.6 1027.5,329.9 1029.7,331.1 1031.9,332.3 M1031.9,332.3 1034.0,333.6 1036.2,334.8 1038.4,336.1 1040.5,337.3 M1040.5,337.3 1042.7,338.6 1044.8,339.8 1047.0,341.1 1049.2,342.3 M1049.2,342.3 1051.3,343.6 1053.5,344.9 1055.6,346.1 1057.8,347.4 M1057.8,347.4 1059.9,348.7 1062.0,350.0 1064.2,351.3 1066.3,352.5 M1066.3,352.5 1068.5,353.8 1070.6,355.1 1072.7,356.4 1074.9,357.7 M1074.9,357.7 1077.0,359.0 1079.1,360.3 1081.3,361.6 1083.4,362.9 M1083.4,362.9 1085.5,364.2 1087.6,365.5 1089.8,366.9 1091.9,368.2 M1091.9,368.2 1094.0,369.5 1096.1,370.8 1098.2,372.2 1100.3,373.5 M1100.3,373.5 1102.4,374.8 1104.5,376.2 1106.6,377.5 1108.8,378.9 M1108.8,378.9 1110.9,380.2 1112.9,381.6 1115.0,382.9 1117.1,384.3 M1117.1,384.3 1119.2,385.7 1121.3,387.0 1123.4,388.4 1125.5,389.8 M1125.5,389.8 1127.6,391.2 1129.6,392.6 1131.7,393.9 1133.8,395.3 M1133.8,395.3 1135.8,396.7 1137.9,398.1 1140.0,399.5 1142.0,401.0 M1142.0,401.0 1144.1,402.4 1146.1,403.8 1148.2,405.2 1150.2,406.6 M1273.0,522.6 1274.4,524.6 1275.9,526.7 1277.3,528.7 1278.7,530.8 M1278.7,530.8 1280.1,532.9 1281.5,534.9 1282.8,537.0 1284.2,539.1 M1284.2,539.1 1285.5,541.2 1286.9,543.3 1288.2,545.5 1289.5,547.6 M1289.5,547.6 1290.8,549.7 1292.1,551.8 1293.4,554.0 1294.7,556.1 M1294.7,556.1 1295.9,558.3 1297.2,560.5 1298.4,562.6 1299.6,564.8 M1299.6,564.8 1300.8,567.0 1302.0,569.2 1303.2,571.4 1304.4,573.6 M1304.4,573.6 1305.6,575.8 1306.8,578.0 1307.9,580.2 1309.1,582.4 M1309.1,582.4 1310.2,584.6 1311.3,586.8 1312.5,589.1 1313.6,591.3 M1313.6,591.3 1314.7,593.6 1315.8,595.8 1316.9,598.0 1317.9,600.3 M1317.9,600.3 1319.0,602.6 1320.1,604.8 1321.1,607.1 1322.2,609.3 M1322.2,609.3 1323.2,611.6 1324.3,613.9 1325.3,616.2 1326.3,618.4 M1411.0,831.9 1412.0,834.2 1413.0,836.5 1414.1,838.7 1415.1,841.0 M1415.1,841.0 1416.2,843.2 1417.3,845.5 1418.3,847.7 1419.4,850.0 M1419.4,850.0 1420.5,852.2 1421.6,854.5 1422.7,856.7 1423.9,858.9 M1423.9,858.9 1425.0,861.2 1426.1,863.4 1427.3,865.6 1428.4,867.8 M1428.4,867.8 1429.6,870.0 1430.8,872.2 1431.9,874.4 1433.1,876.6 M1433.1,876.6 1434.3,878.8 1435.5,881.0 1436.7,883.2 1438.0,885.4 M1438.0,885.4 1439.2,887.5 1440.5,889.7 1441.7,891.9 1443.0,894.0 M1443.0,894.0 1444.3,896.2 1445.6,898.3 1446.9,900.4 1448.2,902.5 M1448.2,902.5 1449.5,904.7 1450.8,906.8 1452.2,908.9 1453.5,911.0 M1453.5,911.0 1454.9,913.1 1456.3,915.1 1457.6,917.2 1459.0,919.3 M1459.0,919.3 1460.5,921.4 1461.9,923.4 1463.3,925.5 1464.8,927.5 M1548.5,1012.4 1550.5,1013.8 1552.6,1015.2 1554.7,1016.6 1556.8,1018.0 M1556.8,1018.0 1558.9,1019.3 1561.0,1020.7 1563.1,1022.0 1565.2,1023.3 M1565.2,1023.3 1567.4,1024.6 1569.5,1025.9 1571.7,1027.1 1573.9,1028.3 M1573.9,1028.3 1576.0,1029.6 1578.2,1030.8 1580.4,1032.0 1582.6,1033.1 M1582.6,1033.1 1584.8,1034.3 1587.0,1035.5 1589.3,1036.6 1591.5,1037.7 M1591.5,1037.7 1593.7,1038.8 1596.0,1039.9 1598.2,1041.0 1600.5,1042.1 M1600.5,1042.1 1602.7,1043.1 1605.0,1044.2 1607.3,1045.2 1609.6,1046.2" stroke="#000080" stroke-width="5.70"/>
<path d="M1150.2,406.6 1152.3,408.1 1154.3,409.5 1156.4,411.0 1158.4,412.4 M1158.4,412.4 1160.4,413.9 1162.5,415.3 1164.5,416.8 1166.5,418.2 M1166.5,418.2 1168.5,419.7 1170.5,421.2 1172.5,422.7 1174.6,424.2 M1174.6,424.2 1176.5,425.7 1178.5,427.2 1180.5,428.7 1182.5,430.2 M1182.5,430.2 1184.5,431.7 1186.5,433.2 1188.4,434.8 1190.4,436.3 M1190.4,436.3 1192.3,437.9 1194.3,439.5 1196.2,441.0 1198.1,442.6 M1198.1,442.6 1200.1,444.2 1202.0,445.8 1203.9,447.4 1205.8,449.1 M1205.8,449.1 1207.7,450.7 1209.5,452.3 1211.4,454.0 1213.3,455.7 M1213.3,455.7 1215.1,457.3 1217.0,459.0 1218.8,460.7 1220.6,462.4 M1220.6,462.4 1222.4,464.2 1224.2,465.9 1226.0,467.6 1227.8,469.4 M1227.8,469.4 1229.5,471.2 1231.3,472.9 1233.0,474.7 1234.8,476.5 M1234.8,476.5 1236.5,478.3 1238.2,480.1 1239.9,482.0 1241.6,483.8 M1241.6,483.8 1243.3,485.6 1244.9,487.5 1246.6,489.4 1248.3,491.3 M1248.3,491.3 1249.9,493.1 1251.5,495.0 1253.1,496.9 1254.7,498.9 M1254.7,498.9 1256.3,500.8 1257.9,502.7 1259.5,504.7 1261.0,506.6 M1261.0,506.6 1262.5,508.6 1264.1,510.6 1265.6,512.5 1267.1,514.5 M1267.1,514.5 1268.6,516.5 1270.1,518.5 1271.5,520.6 1273.0,522.6 M1464.8,927.5 1466.2,929.5 1467.7,931.5 1469.2,933.5 1470.7,935.5 M1470.7,935.5 1472.2,937.5 1473.7,939.5 1475.2,941.5 1476.7,943.5 M1476.7,943.5 1478.3,945.4 1479.8,947.4 1481.4,949.3 1483.0,951.2 M1483.0,951.2 1484.6,953.2 1486.2,955.1 1487.8,957.0 1489.5,958.8 M1489.5,958.8 1491.1,960.7 1492.8,962.6 1494.5,964.4 1496.1,966.3 M1496.1,966.3 1497.8,968.1 1499.6,969.9 1501.3,971.7 1503.0,973.5 M1503.0,973.5 1504.8,975.3 1506.5,977.1 1508.3,978.8 1510.1,980.6 M1510.1,980.6 1511.9,982.3 1513.7,984.0 1515.5,985.7 1517.4,987.4 M1517.4,987.4 1519.2,989.1 1521.1,990.8 1523.0,992.4 1524.8,994.0 M1524.8,994.0 1526.7,995.7 1528.7,997.3 1530.6,998.8 1532.5,1000.4 M1532.5,1000.4 1534.5,1002.0 1536.4,1003.5 1538.4,1005.0 1540.4,1006.5 M1540.4,1006.5 1542.4,1008.0 1544.4,1009.5 1546.5,1011.0 1548.5,1012.4" stroke="#000080" stroke-width="6.00"/>
<path d="M449.5,1358.3 452.0,1358.4 454.4,1358.5 456.9,1358.6 459.4,1358.7 M459.4,1358.7 461.9,1358.7 464.4,1358.8 466.9,1358.9 469.3,1358.9 M469.3,1358.9 471.8,1359.0 474.3,1359.0 476.8,1359.0 479.3,1359.1 M479.3,1359.1 481.8,1359.1 484.2,1359.1 486.7,1359.1 489.2,1359.1 M489.2,1359.1 491.7,1359.1 494.2,1359.1 496.6,1359.1 499.1,1359.1 M499.1,1359.1 501.6,1359.1 504.1,1359.0 506.6,1359.0 509.1,1358.9 M509.1,1358.9 511.5,1358.9 514.0,1358.8 516.5,1358.8 519.0,1358.7 M519.0,1358.7 521.5,1358.6 524.0,1358.6 526.4,1358.5 528.9,1358.4 M1115.1,1260.5 1117.6,1260.5 1120.1,1260.5 1122.5,1260.5 1125.0,1260.6 M1144.9,1261.5 1147.3,1261.5 1149.8,1261.5 1152.3,1261.4 1154.8,1261.3 M1831.5,1333.6 1833.9,1333.7 1836.4,1333.8 1838.9,1333.9 1841.4,1334.0 M1841.4,1334.0 1843.9,1334.0 1846.4,1334.1 1848.8,1334.2 1851.3,1334.3 M1851.3,1334.3 1853.8,1334.3 1856.3,1334.4 1858.8,1334.4 1861.2,1334.5 M1861.2,1334.5 1863.7,1334.5 1866.2,1334.6 1868.7,1334.7 1871.2,1334.7 M1871.2,1334.7 1873.7,1334.8 1876.1,1334.8 1878.6,1334.9 1881.1,1334.9 M1881.1,1334.9 1883.6,1335.0 1886.1,1335.1 1888.6,1335.2 1891.0,1335.2 M1940.6,1338.8 1943.0,1339.1 1945.5,1339.3 1948.0,1339.3 1950.3,1338.5" stroke="#000080" stroke-width="4.20"/>
<path d="M360.4,1351.5 362.8,1351.8 365.3,1352.0 367.8,1352.3 370.2,1352.6 M370.2,1352.6 372.7,1352.8 375.2,1353.1 377.7,1353.3 380.1,1353.6 M380.1,1353.6 382.6,1353.8 385.1,1354.1 387.5,1354.3 390.0,1354.5 M390.0,1354.5 392.5,1354.7 395.0,1355.0 397.4,1355.2 399.9,1355.4 M399.9,1355.4 402.4,1355.6 404.9,1355.8 407.3,1356.0 409.8,1356.1 M409.8,1356.1 412.3,1356.3 414.8,1356.5 417.2,1356.7 419.7,1356.8 M419.7,1356.8 422.2,1357.0 424.7,1357.1 427.2,1357.3 429.6,1357.4 M429.6,1357.4 432.1,1357.6 434.6,1357.7 437.1,1357.8 439.6,1357.9 M439.6,1357.9 442.0,1358.0 444.5,1358.2 447.0,1358.3 449.5,1358.3 M528.9,1358.4 531.4,1358.3 533.9,1358.2 536.4,1358.1 538.8,1358.0 M538.8,1358.0 541.3,1357.8 543.8,1357.7 546.3,1357.6 548.8,1357.4 M548.8,1357.4 551.2,1357.3 553.7,1357.1 556.2,1357.0 558.7,1356.8 M558.7,1356.8 561.2,1356.6 563.6,1356.4 566.1,1356.3 568.6,1356.1 M568.6,1356.1 571.1,1355.9 573.5,1355.7 576.0,1355.5 578.5,1355.2 M578.5,1355.2 581.0,1355.0 583.4,1354.8 585.9,1354.5 588.4,1354.3 M588.4,1354.3 590.8,1354.0 593.3,1353.8 595.8,1353.5 598.2,1353.3 M879.2,1292.2 881.6,1291.9 884.1,1291.7 886.6,1291.4 889.1,1291.2 M889.1,1291.2 891.5,1290.9 894.0,1290.7 896.5,1290.5 898.9,1290.2 M898.9,1290.2 901.4,1290.0 903.9,1289.8 906.4,1289.6 908.8,1289.4 M908.8,1289.4 911.3,1289.2 913.8,1289.0 916.3,1288.8 918.7,1288.6 M918.7,1288.6 921.2,1288.4 923.7,1288.2 926.2,1288.0 928.6,1287.8 M928.6,1287.8 931.1,1287.6 933.6,1287.4 936.1,1287.2 938.5,1287.0 M938.5,1287.0 941.0,1286.8 943.5,1286.6 946.0,1286.3 948.4,1286.1 M948.4,1286.1 950.9,1285.9 953.4,1285.7 955.9,1285.5 958.3,1285.3 M958.3,1285.3 960.8,1285.0 963.3,1284.8 965.8,1284.5 968.2,1284.3 M968.2,1284.3 970.7,1284.0 973.2,1283.8 975.6,1283.5 978.1,1283.2 M1095.3,1261.8 1097.7,1261.6 1100.2,1261.3 1102.7,1261.1 1105.2,1260.9 M1105.2,1260.9 1107.6,1260.8 1110.1,1260.6 1112.6,1260.5 1115.1,1260.5 M1125.0,1260.6 1127.5,1260.7 1130.0,1260.9 1132.5,1261.0 1134.9,1261.1 M1134.9,1261.1 1137.4,1261.3 1139.9,1261.4 1142.4,1261.5 1144.9,1261.5 M1791.8,1330.7 1794.3,1331.0 1796.8,1331.3 1799.3,1331.5 1801.7,1331.7 M1801.7,1331.7 1804.2,1331.9 1806.7,1332.1 1809.2,1332.3 1811.6,1332.5 M1811.6,1332.5 1814.1,1332.7 1816.6,1332.9 1819.1,1333.0 1821.5,1333.1 M1821.5,1333.1 1824.0,1333.3 1826.5,1333.4 1829.0,1333.5 1831.5,1333.6 M1891.0,1335.2 1893.5,1335.3 1896.0,1335.4 1898.5,1335.5 1901.0,1335.6 M1901.0,1335.6 1903.4,1335.7 1905.9,1335.9 1908.4,1336.0 1910.9,1336.1 M1910.9,1336.1 1913.4,1336.3 1915.8,1336.4 1918.3,1336.6 1920.8,1336.8 M1920.8,1336.8 1923.3,1337.0 1925.7,1337.2 1928.2,1337.4 1930.7,1337.7 M1930.7,1337.7 1933.2,1337.9 1935.6,1338.2 1938.1,1338.5 1940.6,1338.8" stroke="#000080" stroke-width="4.50"/>
<path d="M272.0,1338.0 274.5,1338.5 276.9,1338.9 279.3,1339.4 281.8,1339.8 M281.8,1339.8 284.2,1340.3 286.7,1340.7 289.1,1341.1 291.6,1341.5 M291.6,1341.5 294.0,1342.0 296.5,1342.4 298.9,1342.8 301.4,1343.2 M301.4,1343.2 303.8,1343.6 306.3,1344.0 308.7,1344.4 311.2,1344.8 M311.2,1344.8 313.6,1345.2 316.1,1345.5 318.5,1345.9 321.0,1346.3 M321.0,1346.3 323.4,1346.6 325.9,1347.0 328.4,1347.3 330.8,1347.7 M330.8,1347.7 333.3,1348.0 335.7,1348.4 338.2,1348.7 340.7,1349.0 M340.7,1349.0 343.1,1349.4 345.6,1349.7 348.0,1350.0 350.5,1350.3 M350.5,1350.3 353.0,1350.6 355.4,1350.9 357.9,1351.2 360.4,1351.5 M598.2,1353.3 600.7,1353.0 603.2,1352.7 605.6,1352.4 608.1,1352.1 M608.1,1352.1 610.6,1351.8 613.0,1351.5 615.5,1351.2 618.0,1350.8 M618.0,1350.8 620.4,1350.5 622.9,1350.2 625.3,1349.8 627.8,1349.5 M627.8,1349.5 630.3,1349.1 632.7,1348.8 635.2,1348.4 637.6,1348.0 M637.6,1348.0 640.1,1347.6 642.5,1347.2 645.0,1346.8 647.4,1346.4 M647.4,1346.4 649.9,1346.0 652.3,1345.6 654.8,1345.1 657.2,1344.7 M657.2,1344.7 659.7,1344.3 662.1,1343.8 664.5,1343.4 667.0,1342.9 M667.0,1342.9 669.4,1342.4 671.9,1341.9 674.3,1341.5 676.7,1341.0 M830.1,1299.6 832.5,1299.2 835.0,1298.7 837.4,1298.2 839.9,1297.8 M839.9,1297.8 842.3,1297.3 844.7,1296.9 847.2,1296.5 849.6,1296.1 M849.6,1296.1 852.1,1295.7 854.6,1295.3 857.0,1295.0 859.5,1294.6 M859.5,1294.6 861.9,1294.3 864.4,1294.0 866.9,1293.6 869.3,1293.3 M869.3,1293.3 871.8,1293.0 874.2,1292.7 876.7,1292.5 879.2,1292.2 M978.1,1283.2 980.6,1283.0 983.0,1282.7 985.5,1282.4 988.0,1282.0 M988.0,1282.0 990.4,1281.7 992.9,1281.4 995.3,1281.1 997.8,1280.7 M997.8,1280.7 1000.3,1280.3 1002.7,1280.0 1005.2,1279.6 1007.6,1279.2 M1007.6,1279.2 1010.1,1278.8 1012.5,1278.4 1015.0,1277.9 1017.4,1277.5 M1017.4,1277.5 1019.8,1277.0 1022.3,1276.5 1024.7,1276.0 1027.1,1275.5 M1065.9,1266.9 1068.3,1266.4 1070.8,1265.9 1073.2,1265.4 1075.7,1264.9 M1075.7,1264.9 1078.1,1264.5 1080.5,1264.0 1083.0,1263.6 1085.4,1263.2 M1085.4,1263.2 1087.9,1262.8 1090.4,1262.5 1092.8,1262.1 1095.3,1261.8 M1154.8,1261.3 1157.3,1261.0 1159.7,1260.7 1162.2,1260.3 1164.6,1259.8 M1356.5,985.5 1359.0,985.5 1361.4,985.9 1363.8,986.6 1366.2,987.3 M1375.9,989.5 1378.3,989.6 1380.8,989.9 1383.3,990.3 1385.7,990.9 M1723.2,1319.7 1725.7,1320.2 1728.1,1320.7 1730.5,1321.2 1733.0,1321.6 M1733.0,1321.6 1735.4,1322.1 1737.8,1322.6 1740.3,1323.0 1742.7,1323.5 M1742.7,1323.5 1745.2,1323.9 1747.6,1324.4 1750.1,1324.8 1752.5,1325.2 M1752.5,1325.2 1755.0,1325.6 1757.4,1326.0 1759.9,1326.4 1762.3,1326.8 M1762.3,1326.8 1764.8,1327.2 1767.2,1327.6 1769.7,1327.9 1772.1,1328.3 M1772.1,1328.3 1774.6,1328.6 1777.1,1329.0 1779.5,1329.3 1782.0,1329.6 M1782.0,1329.6 1784.4,1329.9 1786.9,1330.2 1789.4,1330.5 1791.8,1330.7 M1950.3,1338.5 1952.6,1337.4 1954.9,1336.8 1957.0,1338.2 1958.4,1340.1" stroke="#000080" stroke-width="4.80"/>
<path d="M676.7,1341.0 679.2,1340.5 681.6,1340.0 684.0,1339.4 686.4,1338.9 M686.4,1338.9 688.9,1338.4 691.3,1337.9 693.7,1337.3 696.1,1336.8 M696.1,1336.8 698.6,1336.2 701.0,1335.6 703.4,1335.1 705.8,1334.5 M705.8,1334.5 708.2,1333.9 710.6,1333.3 713.0,1332.7 715.4,1332.1 M715.4,1332.1 717.9,1331.5 720.3,1330.8 722.7,1330.2 725.1,1329.6 M725.1,1329.6 727.5,1328.9 729.9,1328.3 732.2,1327.6 734.6,1326.9 M734.6,1326.9 737.0,1326.3 739.4,1325.6 741.8,1324.9 744.2,1324.2 M744.2,1324.2 746.6,1323.5 748.9,1322.8 751.3,1322.1 753.7,1321.3 M782.1,1312.4 784.5,1311.7 786.9,1311.0 789.3,1310.3 791.6,1309.5 M791.6,1309.5 794.0,1308.8 796.4,1308.1 798.8,1307.5 801.2,1306.8 M801.2,1306.8 803.6,1306.1 806.0,1305.4 808.4,1304.8 810.8,1304.2 M810.8,1304.2 813.2,1303.5 815.6,1302.9 818.0,1302.4 820.4,1301.8 M820.4,1301.8 822.8,1301.2 825.2,1300.7 827.7,1300.2 830.1,1299.6 M1027.1,1275.5 1029.6,1275.0 1032.0,1274.5 1034.4,1273.9 1036.8,1273.4 M1036.8,1273.4 1039.3,1272.9 1041.7,1272.3 1044.1,1271.8 1046.5,1271.2 M1046.5,1271.2 1049.0,1270.6 1051.4,1270.1 1053.8,1269.5 1056.2,1269.0 M1056.2,1269.0 1058.6,1268.4 1061.1,1267.9 1063.5,1267.4 1065.9,1266.9 M1164.6,1259.8 1167.0,1259.2 1169.4,1258.6 1171.8,1257.9 1174.1,1257.1 M1366.2,987.3 1368.6,988.0 1371.0,988.7 1373.4,989.2 1375.9,989.5 M1418.0,1038.3 1418.8,1040.7 1419.5,1043.0 1420.2,1045.4 1421.0,1047.8 M1617.2,1293.6 1619.5,1294.4 1621.9,1295.1 1624.3,1295.8 1626.7,1296.5 M1626.7,1296.5 1629.0,1297.2 1631.4,1297.9 1633.8,1298.6 1636.2,1299.3 M1636.2,1299.3 1638.6,1299.9 1641.0,1300.6 1643.4,1301.2 1645.8,1301.8 M1645.8,1301.8 1648.2,1302.4 1650.6,1303.1 1653.0,1303.7 1655.4,1304.3 M1655.4,1304.3 1657.8,1304.9 1660.3,1305.4 1662.7,1306.0 1665.1,1306.6 M1665.1,1306.6 1667.5,1307.2 1669.9,1307.8 1672.3,1308.3 1674.8,1308.9 M1674.8,1308.9 1677.2,1309.5 1679.6,1310.0 1682.0,1310.6 1684.4,1311.2 M1684.4,1311.2 1686.8,1311.7 1689.3,1312.3 1691.7,1312.8 1694.1,1313.4 M1694.1,1313.4 1696.5,1313.9 1698.9,1314.5 1701.4,1315.0 1703.8,1315.5 M1703.8,1315.5 1706.2,1316.1 1708.6,1316.6 1711.1,1317.1 1713.5,1317.7 M1713.5,1317.7 1715.9,1318.2 1718.4,1318.7 1720.8,1319.2 1723.2,1319.7 M1980.2,1347.8 1981.0,1345.5 1981.7,1343.1 1982.2,1340.6 1982.8,1338.2" stroke="#000080" stroke-width="5.10"/>
<path d="M753.7,1321.3 756.1,1320.6 758.4,1319.9 760.8,1319.1 763.2,1318.4 M763.2,1318.4 765.5,1317.6 767.9,1316.9 770.3,1316.1 772.7,1315.4 M772.7,1315.4 775.0,1314.7 777.4,1313.9 779.8,1313.2 782.1,1312.4 M1174.1,1257.1 1176.5,1256.2 1178.8,1255.3 1181.1,1254.3 1183.3,1253.3 M1271.9,1149.6 1272.9,1147.3 1273.9,1145.0 1274.9,1142.8 1275.9,1140.5 M1275.9,1140.5 1276.9,1138.2 1277.8,1135.9 1278.8,1133.6 1279.7,1131.3 M1279.7,1131.3 1280.7,1129.0 1281.6,1126.7 1282.5,1124.4 1283.4,1122.1 M1283.4,1122.1 1284.3,1119.8 1285.1,1117.4 1286.0,1115.1 1286.9,1112.8 M1286.9,1112.8 1287.7,1110.4 1288.6,1108.1 1289.4,1105.8 1290.3,1103.4 M1290.3,1103.4 1291.1,1101.1 1291.9,1098.8 1292.8,1096.4 1293.6,1094.1 M1293.6,1094.1 1294.4,1091.7 1295.3,1089.4 1296.1,1087.1 1296.9,1084.7 M1296.9,1084.7 1297.8,1082.4 1298.6,1080.1 1299.5,1077.7 1300.3,1075.4 M1300.3,1075.4 1301.2,1073.1 1302.0,1070.7 1302.9,1068.4 1303.8,1066.1 M1303.8,1066.1 1304.7,1063.8 1305.6,1061.4 1306.5,1059.1 1307.4,1056.8 M1307.4,1056.8 1308.3,1054.5 1309.2,1052.2 1310.2,1049.9 1311.2,1047.6 M1311.2,1047.6 1312.1,1045.4 1313.1,1043.1 1314.2,1040.8 1315.2,1038.6 M1347.3,988.9 1349.4,987.6 1351.7,986.5 1354.0,985.8 1356.5,985.5 M1411.3,1019.6 1412.3,1021.9 1413.2,1024.2 1414.1,1026.5 1414.9,1028.9 M1414.9,1028.9 1415.7,1031.2 1416.5,1033.6 1417.3,1035.9 1418.0,1038.3 M1421.0,1047.8 1421.7,1050.2 1422.4,1052.5 1423.1,1054.9 1423.9,1057.3 M1423.9,1057.3 1424.7,1059.6 1425.5,1062.0 1426.3,1064.3 1427.2,1066.6 M1427.2,1066.6 1428.1,1069.0 1429.0,1071.2 1430.0,1073.5 1431.0,1075.8 M1589.2,1283.3 1591.5,1284.3 1593.8,1285.2 1596.1,1286.1 1598.4,1287.0 M1598.4,1287.0 1600.7,1287.9 1603.1,1288.8 1605.4,1289.6 1607.7,1290.5 M1607.7,1290.5 1610.1,1291.3 1612.4,1292.1 1614.8,1292.8 1617.2,1293.6 M1989.0,1332.1 1991.2,1333.1 1993.4,1334.3 1995.6,1335.4 1998.0,1336.0" stroke="#000080" stroke-width="5.40"/>
<path d="M1183.3,1253.3 1185.6,1252.2 1187.8,1251.0 1189.9,1249.8 1192.1,1248.6 M1192.1,1248.6 1194.2,1247.3 1196.3,1246.0 1198.4,1244.6 1200.4,1243.2 M1242.3,1201.2 1243.8,1199.2 1245.2,1197.2 1246.6,1195.1 1248.0,1193.1 M1248.0,1193.1 1249.4,1191.0 1250.7,1188.9 1252.1,1186.8 1253.4,1184.7 M1253.4,1184.7 1254.7,1182.6 1255.9,1180.4 1257.2,1178.3 1258.4,1176.1 M1258.4,1176.1 1259.6,1174.0 1260.8,1171.8 1262.0,1169.6 1263.2,1167.4 M1263.2,1167.4 1264.3,1165.2 1265.4,1163.0 1266.6,1160.8 1267.7,1158.5 M1267.7,1158.5 1268.7,1156.3 1269.8,1154.1 1270.9,1151.8 1271.9,1149.6 M1315.2,1038.6 1316.2,1036.3 1317.3,1034.1 1318.4,1031.8 1319.5,1029.6 M1319.5,1029.6 1320.6,1027.4 1321.8,1025.2 1322.9,1023.0 1324.1,1020.8 M1324.1,1020.8 1325.3,1018.6 1326.5,1016.5 1327.8,1014.3 1329.1,1012.2 M1329.1,1012.2 1330.4,1010.1 1331.7,1008.0 1333.0,1005.9 1334.4,1003.8 M1385.7,990.9 1388.0,991.7 1390.3,992.8 1392.4,994.0 1394.4,995.4 M1401.5,1002.4 1403.0,1004.4 1404.4,1006.4 1405.7,1008.5 1406.9,1010.7 M1406.9,1010.7 1408.1,1012.9 1409.2,1015.1 1410.3,1017.3 1411.3,1019.6 M1431.0,1075.8 1432.1,1078.1 1433.1,1080.3 1434.2,1082.5 1435.3,1084.7 M1435.3,1084.7 1436.4,1087.0 1437.6,1089.2 1438.7,1091.4 1439.9,1093.6 M1439.9,1093.6 1441.0,1095.8 1442.1,1098.0 1443.3,1100.2 1444.4,1102.4 M1444.4,1102.4 1445.5,1104.6 1446.6,1106.9 1447.7,1109.1 1448.8,1111.3 M1448.8,1111.3 1449.9,1113.6 1450.9,1115.8 1452.0,1118.1 1453.0,1120.3 M1453.0,1120.3 1454.1,1122.6 1455.1,1124.8 1456.1,1127.1 1457.2,1129.3 M1457.2,1129.3 1458.2,1131.6 1459.2,1133.9 1460.2,1136.1 1461.3,1138.4 M1461.3,1138.4 1462.3,1140.7 1463.3,1142.9 1464.3,1145.2 1465.4,1147.4 M1465.4,1147.4 1466.4,1149.7 1467.5,1151.9 1468.5,1154.2 1469.6,1156.4 M1469.6,1156.4 1470.6,1158.7 1471.7,1160.9 1472.8,1163.1 1473.9,1165.4 M1473.9,1165.4 1475.0,1167.6 1476.2,1169.8 1477.3,1172.0 1478.5,1174.2 M1478.5,1174.2 1479.6,1176.4 1480.8,1178.6 1482.0,1180.8 1483.2,1182.9 M1483.2,1182.9 1484.4,1185.1 1485.7,1187.2 1486.9,1189.4 1488.2,1191.5 M1488.2,1191.5 1489.5,1193.6 1490.8,1195.7 1492.1,1197.8 1493.5,1199.9 M1493.5,1199.9 1494.8,1202.0 1496.2,1204.1 1497.6,1206.2 1499.0,1208.2 M1554.2,1264.7 1556.3,1266.0 1558.4,1267.4 1560.5,1268.7 1562.6,1270.0 M1562.6,1270.0 1564.7,1271.2 1566.9,1272.4 1569.1,1273.6 1571.3,1274.8 M1571.3,1274.8 1573.5,1276.0 1575.7,1277.1 1577.9,1278.2 1580.1,1279.3 M1580.1,1279.3 1582.4,1280.3 1584.7,1281.3 1586.9,1282.3 1589.2,1283.3 M1964.6,1347.9 1966.4,1349.6 1968.4,1351.2 1970.5,1352.4 1972.9,1353.1" stroke="#000080" stroke-width="5.70"/>
<path d="M1200.4,1243.2 1202.4,1241.7 1204.4,1240.3 1206.4,1238.8 1208.3,1237.2 M1208.3,1237.2 1210.3,1235.6 1212.2,1234.0 1214.0,1232.4 1215.9,1230.8 M1215.9,1230.8 1217.7,1229.1 1219.5,1227.4 1221.3,1225.7 1223.1,1223.9 M1223.1,1223.9 1224.8,1222.1 1226.5,1220.3 1228.2,1218.5 1229.9,1216.7 M1229.9,1216.7 1231.5,1214.8 1233.1,1212.9 1234.7,1211.0 1236.3,1209.1 M1236.3,1209.1 1237.8,1207.1 1239.3,1205.2 1240.8,1203.2 1242.3,1201.2 M1334.4,1003.8 1335.8,1001.8 1337.2,999.7 1338.7,997.7 1340.2,995.8 M1340.2,995.8 1341.8,993.9 1343.5,992.1 1345.3,990.4 1347.3,988.9 M1394.4,995.4 1396.4,997.0 1398.2,998.7 1399.9,1000.5 1401.5,1002.4 M1499.0,1208.2 1500.4,1210.2 1501.8,1212.3 1503.3,1214.3 1504.7,1216.3 M1504.7,1216.3 1506.2,1218.3 1507.7,1220.2 1509.3,1222.2 1510.8,1224.1 M1510.8,1224.1 1512.4,1226.1 1514.0,1228.0 1515.6,1229.9 1517.2,1231.7 M1517.2,1231.7 1518.9,1233.6 1520.5,1235.4 1522.2,1237.3 1523.9,1239.1 M1523.9,1239.1 1525.6,1240.9 1527.4,1242.6 1529.2,1244.4 1531.0,1246.1 M1531.0,1246.1 1532.8,1247.8 1534.6,1249.4 1536.5,1251.1 1538.4,1252.7 M1538.4,1252.7 1540.3,1254.3 1542.2,1255.9 1544.1,1257.4 1546.1,1258.9 M1546.1,1258.9 1548.1,1260.4 1550.1,1261.9 1552.1,1263.3 1554.2,1264.7 M1958.4,1340.1 1959.9,1342.2 1961.4,1344.2 1962.9,1346.1 1964.6,1347.9 M1972.9,1353.1 1975.4,1353.0 1977.6,1351.9 1979.2,1350.1 1980.2,1347.8 M1982.8,1338.2 1983.6,1335.9 1984.7,1333.6 1986.5,1332.1 1989.0,1332.1" stroke="#000080" stroke-width="6.00"/>
<path d="M1433.1,877.2 1434.3,879.4 1435.5,881.6 1436.7,883.8" stroke="#000080" stroke-width="4.7"/>
<path d="M1436.7,883.8 1438.0,886.0 1439.2,888.1 1440.5,890.3" stroke="#000080" stroke-width="4.9"/>
<path d="M1440.5,890.3 1441.7,892.5 1443.0,894.6 1444.3,896.8" stroke="#000080" stroke-width="5.1"/>
<path d="M1444.3,896.8 1445.6,898.9 1446.9,901.0 1448.2,903.1" stroke="#000080" stroke-width="5.4"/>
<path d="M1448.2,903.1 1449.5,905.3 1450.8,907.4 1452.2,909.5" stroke="#000080" stroke-width="5.6"/>
<path d="M1452.2,909.5 1453.5,911.6 1454.9,913.7 1456.3,915.7" stroke="#000080" stroke-width="5.8"/>
<path d="M1456.3,915.7 1457.6,917.8 1459.0,919.9 1460.5,922.0" stroke="#000080" stroke-width="6.1"/>
<path d="M1460.5,922.0 1461.9,924.0 1463.3,926.1 1464.8,928.1" stroke="#000080" stroke-width="6.3"/>
<path d="M1464.8,928.1 1466.2,930.1 1467.7,932.1 1469.2,934.1" stroke="#000080" stroke-width="6.6"/>
<path d="M1469.2,934.1 1470.7,936.1 1472.2,938.1 1473.7,940.1" stroke="#000080" stroke-width="6.6"/>
<path d="M1473.7,940.1 1475.2,942.1 1476.7,944.1 1478.3,946.0" stroke="#000080" stroke-width="6.6"/>
<path d="M1478.3,946.0 1479.8,948.0 1481.4,949.9 1483.0,951.8" stroke="#000080" stroke-width="6.6"/>
<path d="M1483.0,951.8 1484.6,953.8 1486.2,955.7 1487.8,957.6" stroke="#000080" stroke-width="6.6"/>
<path d="M1487.8,957.6 1489.5,959.4 1491.1,961.3 1492.8,963.2" stroke="#000080" stroke-width="6.6"/>
<path d="M1492.8,963.2 1494.5,965.0 1496.1,966.9 1497.8,968.7" stroke="#000080" stroke-width="6.6"/>
<path d="M1497.8,968.7 1499.6,970.5 1501.3,972.3 1503.0,974.1" stroke="#000080" stroke-width="6.6"/>
<path d="M1503.0,974.1 1504.8,975.9 1506.5,977.7 1508.3,979.4" stroke="#000080" stroke-width="6.6"/>
<path d="M1508.3,979.4 1510.1,981.2 1511.9,982.9 1513.7,984.6" stroke="#000080" stroke-width="6.6"/>
<path d="M1513.7,984.6 1515.5,986.3 1517.4,988.0 1519.2,989.7" stroke="#000080" stroke-width="6.6"/>
<path d="M1519.2,989.7 1521.1,991.4 1523.0,993.0 1524.8,994.6" stroke="#000080" stroke-width="6.6"/>
<path d="M1524.8,994.6 1526.7,996.3 1528.7,997.9 1530.6,999.4" stroke="#000080" stroke-width="6.6"/>
<path d="M1530.6,999.4 1532.5,1001.0 1534.5,1002.6 1536.4,1004.1" stroke="#000080" stroke-width="6.6"/>
<path d="M1536.4,1004.1 1538.4,1005.6 1540.4,1007.1 1542.4,1008.6" stroke="#000080" stroke-width="6.6"/>
<path d="M1542.4,1008.6 1544.4,1010.1 1546.5,1011.6 1548.5,1013.0" stroke="#000080" stroke-width="6.6"/>
<path d="M1548.5,1013.0 1550.5,1014.4 1552.6,1015.8 1554.7,1017.2" stroke="#000080" stroke-width="6.6"/>
<path d="M1554.7,1017.2 1556.8,1018.6 1558.9,1019.9 1561.0,1021.3" stroke="#000080" stroke-width="6.6"/>
<path d="M1561.0,1021.3 1563.1,1022.6 1565.2,1023.9 1567.4,1025.2" stroke="#000080" stroke-width="6.6"/>
<path d="M1567.4,1025.2 1569.5,1026.5 1571.7,1027.7 1573.9,1028.9" stroke="#000080" stroke-width="6.6"/>
<path d="M1573.9,1028.9 1576.0,1030.2 1578.2,1031.4 1580.4,1032.6" stroke="#000080" stroke-width="6.6"/>
<path d="M1580.4,1032.6 1582.6,1033.7 1584.8,1034.9 1587.0,1036.1" stroke="#000080" stroke-width="6.6"/>
<path d="M1587.0,1036.1 1589.3,1037.2 1591.5,1038.3 1593.7,1039.4" stroke="#000080" stroke-width="6.6"/>
<path d="M1593.7,1039.4 1596.0,1040.5 1598.2,1041.6 1600.5,1042.7" stroke="#000080" stroke-width="6.6"/>
<path d="M1600.5,1042.7 1602.7,1043.7 1605.0,1044.8 1607.3,1045.8" stroke="#000080" stroke-width="6.6"/>
<path d="M1607.3,1045.8 1609.6,1046.8 1611.8,1047.8 1614.1,1048.8" stroke="#000080" stroke-width="6.6"/>
<path d="M1614.1,1048.8 1616.4,1049.8 1618.7,1050.8 1621.0,1051.8" stroke="#000080" stroke-width="6.6"/>
<path d="M1621.0,1051.8 1623.3,1052.7 1625.6,1053.7 1627.9,1054.6" stroke="#000080" stroke-width="6.6"/>
<path d="M1627.9,1054.6 1630.3,1055.6 1632.6,1056.5 1634.9,1057.4" stroke="#000080" stroke-width="6.6"/>
<path d="M1634.9,1057.4 1637.2,1058.3 1639.6,1059.2 1641.9,1060.1" stroke="#000080" stroke-width="6.6"/>
<path d="M1641.9,1060.1 1644.2,1061.0 1646.6,1061.8 1648.9,1062.7" stroke="#000080" stroke-width="6.6"/>
<path d="M1648.9,1062.7 1651.3,1063.6 1653.6,1064.4 1655.9,1065.3" stroke="#000080" stroke-width="6.6"/>
<path d="M1655.9,1065.3 1658.3,1066.1 1660.7,1066.9 1663.0,1067.7" stroke="#000080" stroke-width="6.6"/>
<path d="M1663.0,1067.7 1665.4,1068.5 1667.7,1069.4 1670.1,1070.2" stroke="#000080" stroke-width="6.6"/>
<path d="M1670.1,1070.2 1672.5,1070.9 1674.8,1071.7 1677.2,1072.5" stroke="#000080" stroke-width="6.6"/>
<path d="M1677.2,1072.5 1679.6,1073.3 1682.0,1074.0 1684.4,1074.8" stroke="#000080" stroke-width="6.6"/>
<path d="M1684.4,1074.8 1686.7,1075.5 1689.1,1076.3 1691.5,1077.0" stroke="#000080" stroke-width="6.6"/>
<path d="M1691.5,1077.0 1693.9,1077.7 1696.3,1078.4 1698.7,1079.2" stroke="#000080" stroke-width="6.6"/>
<path d="M1698.7,1079.2 1701.1,1079.9 1703.5,1080.6 1705.9,1081.3" stroke="#000080" stroke-width="6.6"/>
<path d="M1705.9,1081.3 1708.3,1081.9 1710.7,1082.6 1713.1,1083.3" stroke="#000080" stroke-width="6.6"/>
<path d="M1713.1,1083.3 1715.5,1084.0 1717.9,1084.6 1720.3,1085.3" stroke="#000080" stroke-width="6.6"/>
<path d="M1720.3,1085.3 1722.7,1085.9 1725.1,1086.6 1727.5,1087.2" stroke="#000080" stroke-width="6.6"/>
<path d="M1727.5,1087.2 1730.0,1087.8 1732.4,1088.4 1734.8,1089.1" stroke="#000080" stroke-width="6.6"/>
<path d="M1734.8,1089.1 1737.2,1089.7 1739.6,1090.3 1742.1,1090.9" stroke="#000080" stroke-width="6.6"/>
<path d="M1742.1,1090.9 1744.5,1091.5 1746.9,1092.0 1749.3,1092.6" stroke="#000080" stroke-width="6.3"/>
<path d="M1749.3,1092.6 1751.8,1093.2 1754.2,1093.8 1756.6,1094.3" stroke="#000080" stroke-width="5.8"/>
<path d="M1756.6,1094.3 1759.1,1094.9 1761.5,1095.4 1763.9,1096.0" stroke="#000080" stroke-width="5.4"/>
<path d="M1763.9,1096.0 1766.4,1096.5 1768.8,1097.1 1771.3,1097.6" stroke="#000080" stroke-width="4.9"/>
<path d="M1771.3,1097.6 1773.7,1098.1" stroke="#000080" stroke-width="4.7"/>
<path d="M1546.1,1258.9 1548.1,1260.4 1550.1,1261.9 1552.1,1263.3" stroke="#000080" stroke-width="4.7"/>
<path d="M1552.1,1263.3 1554.2,1264.7 1556.3,1266.0 1558.4,1267.4" stroke="#000080" stroke-width="4.9"/>
<path d="M1558.4,1267.4 1560.5,1268.7 1562.6,1270.0 1564.7,1271.2" stroke="#000080" stroke-width="5.2"/>
<path d="M1564.7,1271.2 1566.9,1272.4 1569.1,1273.6 1571.3,1274.8" stroke="#000080" stroke-width="5.5"/>
<path d="M1571.3,1274.8 1573.5,1276.0 1575.7,1277.1 1577.9,1278.2" stroke="#000080" stroke-width="5.8"/>
<path d="M1577.9,1278.2 1580.1,1279.3 1582.4,1280.3 1584.7,1281.3" stroke="#000080" stroke-width="6.0"/>
<path d="M1584.7,1281.3 1586.9,1282.3 1589.2,1283.3 1591.5,1284.3" stroke="#000080" stroke-width="6.2"/>
<path d="M1591.5,1284.3 1593.8,1285.2 1596.1,1286.1 1598.4,1287.0" stroke="#000080" stroke-width="6.2"/>
<path d="M1598.4,1287.0 1600.7,1287.9 1603.1,1288.8 1605.4,1289.6" stroke="#000080" stroke-width="6.2"/>
<path d="M1605.4,1289.6 1607.7,1290.5 1610.1,1291.3 1612.4,1292.1" stroke="#000080" stroke-width="6.2"/>
<path d="M1612.4,1292.1 1614.8,1292.8 1617.2,1293.6 1619.5,1294.4" stroke="#000080" stroke-width="6.2"/>
<path d="M1619.5,1294.4 1621.9,1295.1 1624.3,1295.8 1626.7,1296.5" stroke="#000080" stroke-width="6.2"/>
<path d="M1626.7,1296.5 1629.0,1297.2 1631.4,1297.9 1633.8,1298.6" stroke="#000080" stroke-width="6.2"/>
<path d="M1633.8,1298.6 1636.2,1299.3 1638.6,1299.9 1641.0,1300.6" stroke="#000080" stroke-width="6.2"/>
<path d="M1641.0,1300.6 1643.4,1301.2 1645.8,1301.8 1648.2,1302.4" stroke="#000080" stroke-width="6.2"/>
<path d="M1648.2,1302.4 1650.6,1303.1 1653.0,1303.7 1655.4,1304.3" stroke="#000080" stroke-width="6.2"/>
<path d="M1655.4,1304.3 1657.8,1304.9 1660.3,1305.4 1662.7,1306.0" stroke="#000080" stroke-width="6.2"/>
<path d="M1662.7,1306.0 1665.1,1306.6 1667.5,1307.2 1669.9,1307.8" stroke="#000080" stroke-width="6.2"/>
<path d="M1669.9,1307.8 1672.3,1308.3 1674.8,1308.9 1677.2,1309.5" stroke="#000080" stroke-width="6.2"/>
<path d="M1677.2,1309.5 1679.6,1310.0 1682.0,1310.6 1684.4,1311.2" stroke="#000080" stroke-width="6.2"/>
<path d="M1684.4,1311.2 1686.8,1311.7 1689.3,1312.3 1691.7,1312.8" stroke="#000080" stroke-width="6.2"/>
<path d="M1691.7,1312.8 1694.1,1313.4 1696.5,1313.9 1698.9,1314.5" stroke="#000080" stroke-width="6.2"/>
<path d="M1698.9,1314.5 1701.4,1315.0 1703.8,1315.5 1706.2,1316.1" stroke="#000080" stroke-width="6.2"/>
<path d="M1706.2,1316.1 1708.6,1316.6 1711.1,1317.1 1713.5,1317.7" stroke="#000080" stroke-width="6.2"/>
<path d="M1713.5,1317.7 1715.9,1318.2 1718.4,1318.7 1720.8,1319.2" stroke="#000080" stroke-width="6.2"/>
<path d="M1720.8,1319.2 1723.2,1319.7 1725.7,1320.2 1728.1,1320.7" stroke="#000080" stroke-width="6.2"/>
<path d="M1728.1,1320.7 1730.5,1321.2 1733.0,1321.6 1735.4,1322.1" stroke="#000080" stroke-width="6.2"/>
<path d="M1735.4,1322.1 1737.8,1322.6 1740.3,1323.0 1742.7,1323.5" stroke="#000080" stroke-width="6.2"/>
<path d="M1742.7,1323.5 1745.2,1323.9 1747.6,1324.4 1750.1,1324.8" stroke="#000080" stroke-width="6.2"/>
<path d="M1750.1,1324.8 1752.5,1325.2 1755.0,1325.6 1757.4,1326.0" stroke="#000080" stroke-width="6.2"/>
<path d="M1757.4,1326.0 1759.9,1326.4 1762.3,1326.8 1764.8,1327.2" stroke="#000080" stroke-width="6.2"/>
<path d="M1764.8,1327.2 1767.2,1327.6 1769.7,1327.9 1772.1,1328.3" stroke="#000080" stroke-width="6.2"/>
<path d="M1772.1,1328.3 1774.6,1328.6 1777.1,1329.0 1779.5,1329.3" stroke="#000080" stroke-width="6.2"/>
<path d="M1779.5,1329.3 1782.0,1329.6 1784.4,1329.9 1786.9,1330.2" stroke="#000080" stroke-width="6.2"/>
<path d="M1786.9,1330.2 1789.4,1330.5 1791.8,1330.7 1794.3,1331.0" stroke="#000080" stroke-width="6.2"/>
<path d="M1794.3,1331.0 1796.8,1331.3 1799.3,1331.5 1801.7,1331.7" stroke="#000080" stroke-width="6.2"/>
<path d="M1801.7,1331.7 1804.2,1331.9 1806.7,1332.1 1809.2,1332.3" stroke="#000080" stroke-width="6.2"/>
<path d="M1809.2,1332.3 1811.6,1332.5 1814.1,1332.7 1816.6,1332.9" stroke="#000080" stroke-width="6.2"/>
<path d="M1816.6,1332.9 1819.1,1333.0 1821.5,1333.1 1824.0,1333.3" stroke="#000080" stroke-width="6.2"/>
<path d="M1824.0,1333.3 1826.5,1333.4 1829.0,1333.5 1831.5,1333.6" stroke="#000080" stroke-width="6.2"/>
<path d="M1831.5,1333.6 1833.9,1333.7 1836.4,1333.8 1838.9,1333.9" stroke="#000080" stroke-width="6.2"/>
<path d="M1838.9,1333.9 1841.4,1334.0 1843.9,1334.0 1846.4,1334.1" stroke="#000080" stroke-width="6.2"/>
<path d="M1846.4,1334.1 1848.8,1334.2 1851.3,1334.3 1853.8,1334.3" stroke="#000080" stroke-width="6.2"/>
<path d="M1853.8,1334.3 1856.3,1334.4 1858.8,1334.4 1861.2,1334.5" stroke="#000080" stroke-width="6.2"/>
<path d="M1861.2,1334.5 1863.7,1334.5 1866.2,1334.6 1868.7,1334.7" stroke="#000080" stroke-width="6.2"/>
<path d="M1868.7,1334.7 1871.2,1334.7 1873.7,1334.8 1876.1,1334.8" stroke="#000080" stroke-width="6.2"/>
<path d="M1876.1,1334.8 1878.6,1334.9 1881.1,1334.9 1883.6,1335.0" stroke="#000080" stroke-width="6.2"/>
<path d="M1883.6,1335.0 1886.1,1335.1 1888.6,1335.2 1891.0,1335.2" stroke="#000080" stroke-width="6.2"/>
<path d="M1891.0,1335.2 1893.5,1335.3 1896.0,1335.4 1898.5,1335.5" stroke="#000080" stroke-width="6.2"/>
<path d="M1898.5,1335.5 1901.0,1335.6 1903.4,1335.7 1905.9,1335.9" stroke="#000080" stroke-width="6.2"/>
<path d="M1905.9,1335.9 1908.4,1336.0 1910.9,1336.1 1913.4,1336.3" stroke="#000080" stroke-width="6.1"/>
<path d="M1913.4,1336.3 1915.8,1336.4 1918.3,1336.6 1920.8,1336.8" stroke="#000080" stroke-width="5.8"/>
<path d="M1920.8,1336.8 1923.3,1337.0 1925.7,1337.2 1928.2,1337.4" stroke="#000080" stroke-width="5.5"/>
<path d="M1928.2,1337.4 1930.7,1337.7 1933.2,1337.9 1935.6,1338.2" stroke="#000080" stroke-width="5.2"/>
<path d="M1935.6,1338.2 1938.1,1338.5 1940.6,1338.8 1943.0,1339.1" stroke="#000080" stroke-width="4.9"/>
<path d="M1943.0,1339.1 1945.5,1339.3 1948.0,1339.3" stroke="#000080" stroke-width="4.6"/>
</g>
<text class="yl" x="231.3" y="96.2">100</text>
<text class="yl" x="231.3" y="380.4">80</text>
<text class="yl" x="231.3" y="664.6">60</text>
<text class="yl" x="231.3" y="948.9">40</text>
<text class="yl" x="231.3" y="1233.1">20</text>
<text class="xl" x="271.6" y="1447.6">100</text>
<text class="xl" x="616.8" y="1447.6">200</text>
<text class="xl" x="962.0" y="1447.6">300</text>
<text class="xl" x="1307.1" y="1447.6">400</text>
<text class="xl" x="1652.3" y="1447.6">500</text>
<text class="xl" x="1997.5" y="1447.6">600</text>
<text class="tt" x="882" y="1561.7" transform="translate(0 1561.7) scale(1 1.043) translate(0 -1561.7)">Temperature (<tspan font-size="37" dy="-29.5">o</tspan><tspan dy="29.5">C</tspan><tspan dx="4">)</tspan></text>
<text class="tt" transform="translate(96.7 849.4) rotate(-90) scale(1 1.05)" x="0" y="0">Weight (%)</text>
<text class="tt" transform="translate(2111 749) rotate(-90) scale(1 1.025)" x="0" y="0">dW/dT</text>
<rect x="1405" y="166.8" width="134" height="4.6" fill="#000000"/>
<text class="lg" x="1555" y="189.4" transform="translate(0 189.4) scale(1 1.037) translate(0 -189.4)">PAESPS12S1</text>
<rect x="1405" y="240.4" width="134" height="4.6" fill="#ff0000"/>
<text class="lg" x="1555" y="263.2" transform="translate(0 263.2) scale(1 1.037) translate(0 -263.2)">PAESPS12S2</text>
<rect x="1405" y="314.1" width="134" height="4.6" fill="#0000ff"/>
<text class="lg" x="1555" y="336.9" transform="translate(0 336.9) scale(1 1.037) translate(0 -336.9)">PAESPS15S1</text>
<rect x="1405" y="387.7" width="134" height="4.6" fill="#ff00ff"/>
<text class="lg" x="1555" y="410.7" transform="translate(0 410.7) scale(1 1.037) translate(0 -410.7)">PAESPS15S2</text>
<rect x="1405" y="461.4" width="134" height="4.6" fill="#00ff00"/>
<text class="lg" x="1555" y="484.4" transform="translate(0 484.4) scale(1 1.037) translate(0 -484.4)">PAESPS18S1</text>
<rect x="1405" y="535.0" width="134" height="4.6" fill="#000080"/>
<text class="lg" x="1555" y="558.2" transform="translate(0 558.2) scale(1 1.037) translate(0 -558.2)">PAESPS18S2</text>
<rect x="840" y="362.3" width="175" height="2.5" fill="#000"/>
<polygon points="819,363.5 853,353.5 853,372" fill="#000"/>
<rect x="1685" y="1279.6" width="160" height="2.5" fill="#000"/>
<polygon points="1860.5,1280.8 1826.3,1270.7 1826.3,1288.6" fill="#000"/>
<line x1="747" y1="160.8" x2="747" y2="1337.2" stroke="#000" stroke-width="2.3" stroke-dasharray="14 16.6"/>
<line x1="1127.6" y1="392.6" x2="1127.6" y2="1250" stroke="#000" stroke-width="2.3" stroke-dasharray="14 16.6"/>
<line x1="1353.2" y1="670.3" x2="1353.2" y2="1049" stroke="#000" stroke-width="2.3" stroke-dasharray="14 16.6"/>
<line x1="1622" y1="1009" x2="1622" y2="1302" stroke="#000" stroke-width="2.3" stroke-dasharray="14 16.6"/>
</svg>
</body></html>
